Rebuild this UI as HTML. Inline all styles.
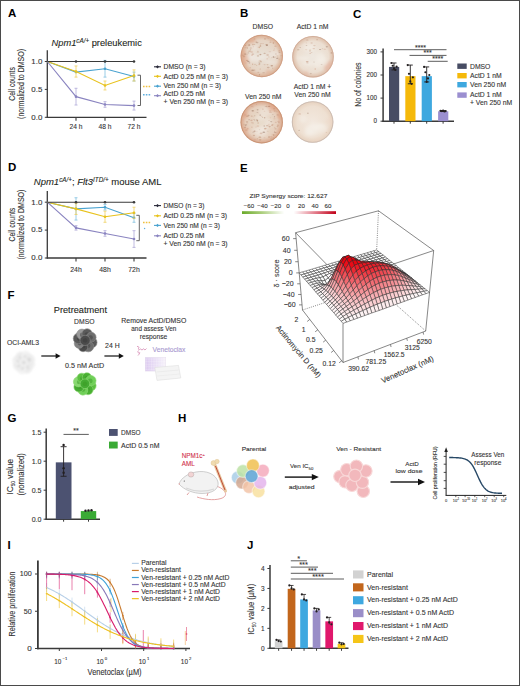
<!DOCTYPE html><html><head><meta charset="utf-8"><style>html,body{margin:0;padding:0;background:#fff}svg{display:block}text{font-family:"Liberation Sans",sans-serif}</style></head><body><svg width="520" height="686" viewBox="0 0 520 686"><defs><filter id="blur1" x="-20%" y="-20%" width="140%" height="140%"><feGaussianBlur stdDeviation="0.45"/></filter><filter id="blur2" x="-20%" y="-20%" width="140%" height="140%"><feGaussianBlur stdDeviation="1.6"/></filter><radialGradient id="g26156" cx="50%" cy="50%" r="50%"><stop offset="0%" stop-color="#e8e2d8"/><stop offset="75%" stop-color="#e6d4c4"/><stop offset="94%" stop-color="#dcb49a"/><stop offset="100%" stop-color="#d4a488"/></radialGradient><clipPath id="c26156"><circle cx="261.8" cy="56" r="21.2"/></clipPath><radialGradient id="g31356" cx="50%" cy="50%" r="50%"><stop offset="0%" stop-color="#eee8e0"/><stop offset="75%" stop-color="#ecdfd2"/><stop offset="94%" stop-color="#e0c4b0"/><stop offset="100%" stop-color="#d8b09a"/></radialGradient><clipPath id="c31356"><circle cx="313" cy="56.7" r="20.8"/></clipPath><radialGradient id="g261122" cx="50%" cy="50%" r="50%"><stop offset="0%" stop-color="#e8dccc"/><stop offset="75%" stop-color="#e6d0be"/><stop offset="94%" stop-color="#dcae94"/><stop offset="100%" stop-color="#d09a7c"/></radialGradient><clipPath id="c261122"><circle cx="261.7" cy="122.2" r="21.2"/></clipPath><radialGradient id="g312122" cx="50%" cy="50%" r="50%"><stop offset="0%" stop-color="#f2e8de"/><stop offset="75%" stop-color="#eee0d2"/><stop offset="94%" stop-color="#e8d4c2"/><stop offset="100%" stop-color="#d6c4b8"/></radialGradient><clipPath id="c312122"><circle cx="312.6" cy="122" r="20.8"/></clipPath><linearGradient id="cbar" x1="0" x2="1" y1="0" y2="0"><stop offset="0" stop-color="#6aaa2a"/><stop offset="0.2" stop-color="#a8cc78"/><stop offset="0.45" stop-color="#ffffff"/><stop offset="0.55" stop-color="#ffffff"/><stop offset="0.8" stop-color="#e07080"/><stop offset="1" stop-color="#c00018"/></linearGradient><filter id="blur05" x="-30%" y="-30%" width="160%" height="160%"><feGaussianBlur stdDeviation="0.5"/></filter><filter id="blur08" x="-30%" y="-30%" width="160%" height="160%"><feGaussianBlur stdDeviation="0.8"/></filter><linearGradient id="plateg" x1="0" x2="1" y1="0" y2="0"><stop offset="0" stop-color="#dccaf0"/><stop offset="1" stop-color="#f6f2fa"/></linearGradient></defs><rect x="0" y="0" width="520" height="686" fill="#fff"/><text x="8.00" y="17.00" font-size="11.5" text-anchor="start" fill="#000" font-weight="bold">A</text>
<text x="240.00" y="17.00" font-size="11.5" text-anchor="start" fill="#000" font-weight="bold">B</text>
<text x="353.00" y="18.00" font-size="11.5" text-anchor="start" fill="#000" font-weight="bold">C</text>
<text x="8.00" y="171.00" font-size="11.5" text-anchor="start" fill="#000" font-weight="bold">D</text>
<text x="240.00" y="171.50" font-size="11.5" text-anchor="start" fill="#000" font-weight="bold">E</text>
<text x="7.50" y="299.00" font-size="11.5" text-anchor="start" fill="#000" font-weight="bold">F</text>
<text x="7.50" y="422.00" font-size="11.5" text-anchor="start" fill="#000" font-weight="bold">G</text>
<text x="178.00" y="421.80" font-size="11.5" text-anchor="start" fill="#000" font-weight="bold">H</text>
<text x="7.50" y="549.00" font-size="11.5" text-anchor="start" fill="#000" font-weight="bold">I</text>
<text x="247.00" y="549.20" font-size="11.5" text-anchor="start" fill="#000" font-weight="bold">J</text>
<line x1="47.30" y1="50.34" x2="47.30" y2="117.90" stroke="#3a3a3a" stroke-width="1.3"/>
<line x1="46.70" y1="117.30" x2="146.50" y2="117.30" stroke="#3a3a3a" stroke-width="1.3"/>
<line x1="44.80" y1="61.50" x2="47.30" y2="61.50" stroke="#3a3a3a" stroke-width="1"/>
<text x="42.30" y="63.80" font-size="6.6" text-anchor="end" fill="#333" stroke="#333" stroke-width="0.1" textLength="11" lengthAdjust="spacingAndGlyphs">1.0</text>
<line x1="44.80" y1="89.40" x2="47.30" y2="89.40" stroke="#3a3a3a" stroke-width="1"/>
<text x="42.30" y="91.70" font-size="6.6" text-anchor="end" fill="#333" stroke="#333" stroke-width="0.1" textLength="11" lengthAdjust="spacingAndGlyphs">0.5</text>
<line x1="44.80" y1="117.30" x2="47.30" y2="117.30" stroke="#3a3a3a" stroke-width="1"/>
<text x="42.30" y="119.60" font-size="6.6" text-anchor="end" fill="#333" stroke="#333" stroke-width="0.1" textLength="11" lengthAdjust="spacingAndGlyphs">0.0</text>
<line x1="76.00" y1="117.30" x2="76.00" y2="120.80" stroke="#3a3a3a" stroke-width="1.1"/>
<text x="76.00" y="129.20" font-size="6.6" text-anchor="middle" fill="#333" stroke="#333" stroke-width="0.1" textLength="13" lengthAdjust="spacingAndGlyphs">24 h</text>
<line x1="105.00" y1="117.30" x2="105.00" y2="120.80" stroke="#3a3a3a" stroke-width="1.1"/>
<text x="105.00" y="129.20" font-size="6.6" text-anchor="middle" fill="#333" stroke="#333" stroke-width="0.1" textLength="13" lengthAdjust="spacingAndGlyphs">48 h</text>
<line x1="134.00" y1="117.30" x2="134.00" y2="120.80" stroke="#3a3a3a" stroke-width="1.1"/>
<text x="134.00" y="129.20" font-size="6.6" text-anchor="middle" fill="#333" stroke="#333" stroke-width="0.1" textLength="13" lengthAdjust="spacingAndGlyphs">72 h</text>
<text x="14.60" y="83.90" font-size="8.3" text-anchor="middle" fill="#333" stroke="#333" stroke-width="0.1" textLength="33.6" lengthAdjust="spacingAndGlyphs" transform="rotate(-90 14.60 83.90)">Cell counts</text>
<text x="24.20" y="83.90" font-size="8.3" text-anchor="middle" fill="#333" stroke="#333" stroke-width="0.1" textLength="70" lengthAdjust="spacingAndGlyphs" transform="rotate(-90 24.20 83.90)">(normalized to DMSO)</text>
<line x1="105.00" y1="60.38" x2="105.00" y2="77.12" stroke="#80c0e0" stroke-width="0.8"/>
<line x1="103.50" y1="60.38" x2="106.50" y2="60.38" stroke="#80c0e0" stroke-width="0.8"/>
<line x1="103.50" y1="77.12" x2="106.50" y2="77.12" stroke="#80c0e0" stroke-width="0.8"/>
<line x1="134.00" y1="72.10" x2="134.00" y2="81.03" stroke="#80c0e0" stroke-width="0.8"/>
<line x1="132.50" y1="72.10" x2="135.50" y2="72.10" stroke="#80c0e0" stroke-width="0.8"/>
<line x1="132.50" y1="81.03" x2="135.50" y2="81.03" stroke="#80c0e0" stroke-width="0.8"/>
<polyline points="47.30,61.50 76.00,72.10 105.00,68.75 134.00,76.57" fill="none" stroke="#4aa3d0" stroke-width="1.1"/>
<circle cx="76.00" cy="72.10" r="1.30" fill="#4aa3d0"/>
<circle cx="105.00" cy="68.75" r="1.30" fill="#4aa3d0"/>
<circle cx="134.00" cy="76.57" r="1.30" fill="#4aa3d0"/>
<line x1="76.00" y1="65.96" x2="76.00" y2="77.12" stroke="#f0d060" stroke-width="0.8"/>
<line x1="74.50" y1="65.96" x2="77.50" y2="65.96" stroke="#f0d060" stroke-width="0.8"/>
<line x1="74.50" y1="77.12" x2="77.50" y2="77.12" stroke="#f0d060" stroke-width="0.8"/>
<line x1="105.00" y1="81.03" x2="105.00" y2="89.96" stroke="#f0d060" stroke-width="0.8"/>
<line x1="103.50" y1="81.03" x2="106.50" y2="81.03" stroke="#f0d060" stroke-width="0.8"/>
<line x1="103.50" y1="89.96" x2="106.50" y2="89.96" stroke="#f0d060" stroke-width="0.8"/>
<line x1="134.00" y1="69.87" x2="134.00" y2="81.03" stroke="#f0d060" stroke-width="0.8"/>
<line x1="132.50" y1="69.87" x2="135.50" y2="69.87" stroke="#f0d060" stroke-width="0.8"/>
<line x1="132.50" y1="81.03" x2="135.50" y2="81.03" stroke="#f0d060" stroke-width="0.8"/>
<polyline points="47.30,61.50 76.00,71.54 105.00,85.49 134.00,75.45" fill="none" stroke="#e8c21c" stroke-width="1.1"/>
<circle cx="76.00" cy="71.54" r="1.30" fill="#e8c21c"/>
<circle cx="105.00" cy="85.49" r="1.30" fill="#e8c21c"/>
<circle cx="134.00" cy="75.45" r="1.30" fill="#e8c21c"/>
<line x1="76.00" y1="88.28" x2="76.00" y2="105.02" stroke="#b0aad8" stroke-width="0.8"/>
<line x1="74.50" y1="88.28" x2="77.50" y2="88.28" stroke="#b0aad8" stroke-width="0.8"/>
<line x1="74.50" y1="105.02" x2="77.50" y2="105.02" stroke="#b0aad8" stroke-width="0.8"/>
<line x1="105.00" y1="101.68" x2="105.00" y2="107.26" stroke="#b0aad8" stroke-width="0.8"/>
<line x1="103.50" y1="101.68" x2="106.50" y2="101.68" stroke="#b0aad8" stroke-width="0.8"/>
<line x1="103.50" y1="107.26" x2="106.50" y2="107.26" stroke="#b0aad8" stroke-width="0.8"/>
<line x1="134.00" y1="101.12" x2="134.00" y2="110.05" stroke="#b0aad8" stroke-width="0.8"/>
<line x1="132.50" y1="101.12" x2="135.50" y2="101.12" stroke="#b0aad8" stroke-width="0.8"/>
<line x1="132.50" y1="110.05" x2="135.50" y2="110.05" stroke="#b0aad8" stroke-width="0.8"/>
<polyline points="47.30,61.50 76.00,96.65 105.00,104.47 134.00,105.58" fill="none" stroke="#8a84c0" stroke-width="1.1"/>
<circle cx="76.00" cy="96.65" r="1.30" fill="#8a84c0"/>
<circle cx="105.00" cy="104.47" r="1.30" fill="#8a84c0"/>
<circle cx="134.00" cy="105.58" r="1.30" fill="#8a84c0"/>
<polyline points="47.30,61.50 76.00,61.50 105.00,61.50 134.00,61.50" fill="none" stroke="#3a3a3a" stroke-width="1.1"/>
<circle cx="76.00" cy="61.50" r="1.30" fill="#3a3a3a"/>
<circle cx="105.00" cy="61.50" r="1.30" fill="#3a3a3a"/>
<circle cx="134.00" cy="61.50" r="1.30" fill="#3a3a3a"/>
<polyline points="137.50,75.20 140.50,75.20 140.50,105.50 137.50,105.50" fill="none" stroke="#555" stroke-width="0.9"/>
<line x1="143.00" y1="86.60" x2="151.00" y2="86.60" stroke="#f0c040" stroke-width="1.5" stroke-dasharray="1.6,1.2"/>
<line x1="143.00" y1="94.80" x2="151.00" y2="94.80" stroke="#60b0e0" stroke-width="1.5" stroke-dasharray="1.6,1.2"/>
<line x1="154.00" y1="66.80" x2="161.00" y2="66.80" stroke="#2a2a3a" stroke-width="1.1"/>
<polygon points="157.50,65.20 159.10,66.80 157.50,68.40 155.90,66.80" fill="#2a2a3a" stroke="none" stroke-width="0"/>
<text x="163.50" y="69.00" font-size="6.3" text-anchor="start" fill="#333" stroke="#333" stroke-width="0.1" textLength="42" lengthAdjust="spacingAndGlyphs">DMSO (n = 3)</text>
<line x1="154.00" y1="76.30" x2="161.00" y2="76.30" stroke="#e8c21c" stroke-width="1.1"/>
<polygon points="157.50,74.70 159.10,76.30 157.50,77.90 155.90,76.30" fill="#e8c21c" stroke="none" stroke-width="0"/>
<text x="163.50" y="78.60" font-size="6.3" text-anchor="start" fill="#333" stroke="#333" stroke-width="0.1" textLength="64.5" lengthAdjust="spacingAndGlyphs">ActD 0.25 nM (n = 3)</text>
<line x1="154.00" y1="86.20" x2="161.00" y2="86.20" stroke="#4aa3d0" stroke-width="1.1"/>
<polygon points="157.50,84.60 159.10,86.20 157.50,87.80 155.90,86.20" fill="#4aa3d0" stroke="none" stroke-width="0"/>
<text x="163.50" y="88.40" font-size="6.3" text-anchor="start" fill="#333" stroke="#333" stroke-width="0.1" textLength="57.5" lengthAdjust="spacingAndGlyphs">Ven 250 nM (n = 3)</text>
<line x1="154.00" y1="95.70" x2="161.00" y2="95.70" stroke="#8a84c0" stroke-width="1.1"/>
<polygon points="157.50,94.10 159.10,95.70 157.50,97.30 155.90,95.70" fill="#8a84c0" stroke="none" stroke-width="0"/>
<text x="163.50" y="96.40" font-size="6.3" text-anchor="start" fill="#333" stroke="#333" stroke-width="0.1" textLength="41.5" lengthAdjust="spacingAndGlyphs">ActD 0.25 nM</text>
<text x="163.50" y="104.00" font-size="6.3" text-anchor="start" fill="#333" stroke="#333" stroke-width="0.1" textLength="64.5" lengthAdjust="spacingAndGlyphs">+ Ven 250 nM (n = 3)</text>
<text x="51.50" y="45.80" font-size="9.3" text-anchor="start" fill="#231f20" stroke="#231f20" stroke-width="0.1"><tspan font-style="italic">Npm1</tspan><tspan font-style="italic" font-size="6.3" dy="-3.2">cA/+</tspan><tspan dy="3.2"> preleukemic</tspan></text>
<line x1="47.30" y1="191.04" x2="47.30" y2="258.60" stroke="#3a3a3a" stroke-width="1.3"/>
<line x1="46.70" y1="258.00" x2="146.50" y2="258.00" stroke="#3a3a3a" stroke-width="1.3"/>
<line x1="44.80" y1="202.20" x2="47.30" y2="202.20" stroke="#3a3a3a" stroke-width="1"/>
<text x="42.30" y="204.50" font-size="6.6" text-anchor="end" fill="#333" stroke="#333" stroke-width="0.1" textLength="11" lengthAdjust="spacingAndGlyphs">1.0</text>
<line x1="44.80" y1="230.10" x2="47.30" y2="230.10" stroke="#3a3a3a" stroke-width="1"/>
<text x="42.30" y="232.40" font-size="6.6" text-anchor="end" fill="#333" stroke="#333" stroke-width="0.1" textLength="11" lengthAdjust="spacingAndGlyphs">0.5</text>
<line x1="44.80" y1="258.00" x2="47.30" y2="258.00" stroke="#3a3a3a" stroke-width="1"/>
<text x="42.30" y="260.30" font-size="6.6" text-anchor="end" fill="#333" stroke="#333" stroke-width="0.1" textLength="11" lengthAdjust="spacingAndGlyphs">0.0</text>
<line x1="76.00" y1="258.00" x2="76.00" y2="261.50" stroke="#3a3a3a" stroke-width="1.1"/>
<text x="76.00" y="271.50" font-size="6.6" text-anchor="middle" fill="#333" stroke="#333" stroke-width="0.1" textLength="11.5" lengthAdjust="spacingAndGlyphs">24h</text>
<line x1="105.00" y1="258.00" x2="105.00" y2="261.50" stroke="#3a3a3a" stroke-width="1.1"/>
<text x="105.00" y="271.50" font-size="6.6" text-anchor="middle" fill="#333" stroke="#333" stroke-width="0.1" textLength="11.5" lengthAdjust="spacingAndGlyphs">48h</text>
<line x1="134.00" y1="258.00" x2="134.00" y2="261.50" stroke="#3a3a3a" stroke-width="1.1"/>
<text x="134.00" y="271.50" font-size="6.6" text-anchor="middle" fill="#333" stroke="#333" stroke-width="0.1" textLength="11.5" lengthAdjust="spacingAndGlyphs">72h</text>
<text x="14.60" y="224.60" font-size="8.3" text-anchor="middle" fill="#333" stroke="#333" stroke-width="0.1" textLength="33.6" lengthAdjust="spacingAndGlyphs" transform="rotate(-90 14.60 224.60)">Cell counts</text>
<text x="24.20" y="224.60" font-size="8.3" text-anchor="middle" fill="#333" stroke="#333" stroke-width="0.1" textLength="70" lengthAdjust="spacingAndGlyphs" transform="rotate(-90 24.20 224.60)">(normalized to DMSO)</text>
<line x1="76.00" y1="197.74" x2="76.00" y2="220.06" stroke="#80c0e0" stroke-width="0.8"/>
<line x1="74.50" y1="197.74" x2="77.50" y2="197.74" stroke="#80c0e0" stroke-width="0.8"/>
<line x1="74.50" y1="220.06" x2="77.50" y2="220.06" stroke="#80c0e0" stroke-width="0.8"/>
<line x1="105.00" y1="204.43" x2="105.00" y2="210.01" stroke="#80c0e0" stroke-width="0.8"/>
<line x1="103.50" y1="204.43" x2="106.50" y2="204.43" stroke="#80c0e0" stroke-width="0.8"/>
<line x1="103.50" y1="210.01" x2="106.50" y2="210.01" stroke="#80c0e0" stroke-width="0.8"/>
<line x1="134.00" y1="213.36" x2="134.00" y2="222.29" stroke="#80c0e0" stroke-width="0.8"/>
<line x1="132.50" y1="213.36" x2="135.50" y2="213.36" stroke="#80c0e0" stroke-width="0.8"/>
<line x1="132.50" y1="222.29" x2="135.50" y2="222.29" stroke="#80c0e0" stroke-width="0.8"/>
<polyline points="47.30,202.20 76.00,208.90 105.00,207.22 134.00,217.82" fill="none" stroke="#4aa3d0" stroke-width="1.1"/>
<circle cx="76.00" cy="208.90" r="1.30" fill="#4aa3d0"/>
<circle cx="105.00" cy="207.22" r="1.30" fill="#4aa3d0"/>
<circle cx="134.00" cy="217.82" r="1.30" fill="#4aa3d0"/>
<line x1="76.00" y1="203.32" x2="76.00" y2="214.48" stroke="#f0d060" stroke-width="0.8"/>
<line x1="74.50" y1="203.32" x2="77.50" y2="203.32" stroke="#f0d060" stroke-width="0.8"/>
<line x1="74.50" y1="214.48" x2="77.50" y2="214.48" stroke="#f0d060" stroke-width="0.8"/>
<line x1="105.00" y1="211.13" x2="105.00" y2="222.29" stroke="#f0d060" stroke-width="0.8"/>
<line x1="103.50" y1="211.13" x2="106.50" y2="211.13" stroke="#f0d060" stroke-width="0.8"/>
<line x1="103.50" y1="222.29" x2="106.50" y2="222.29" stroke="#f0d060" stroke-width="0.8"/>
<line x1="134.00" y1="207.22" x2="134.00" y2="218.38" stroke="#f0d060" stroke-width="0.8"/>
<line x1="132.50" y1="207.22" x2="135.50" y2="207.22" stroke="#f0d060" stroke-width="0.8"/>
<line x1="132.50" y1="218.38" x2="135.50" y2="218.38" stroke="#f0d060" stroke-width="0.8"/>
<polyline points="47.30,202.20 76.00,208.90 105.00,216.71 134.00,212.80" fill="none" stroke="#e8c21c" stroke-width="1.1"/>
<circle cx="76.00" cy="208.90" r="1.30" fill="#e8c21c"/>
<circle cx="105.00" cy="216.71" r="1.30" fill="#e8c21c"/>
<circle cx="134.00" cy="212.80" r="1.30" fill="#e8c21c"/>
<line x1="76.00" y1="225.64" x2="76.00" y2="230.10" stroke="#b0aad8" stroke-width="0.8"/>
<line x1="74.50" y1="225.64" x2="77.50" y2="225.64" stroke="#b0aad8" stroke-width="0.8"/>
<line x1="74.50" y1="230.10" x2="77.50" y2="230.10" stroke="#b0aad8" stroke-width="0.8"/>
<line x1="105.00" y1="230.66" x2="105.00" y2="236.24" stroke="#b0aad8" stroke-width="0.8"/>
<line x1="103.50" y1="230.66" x2="106.50" y2="230.66" stroke="#b0aad8" stroke-width="0.8"/>
<line x1="103.50" y1="236.24" x2="106.50" y2="236.24" stroke="#b0aad8" stroke-width="0.8"/>
<line x1="134.00" y1="230.66" x2="134.00" y2="247.40" stroke="#b0aad8" stroke-width="0.8"/>
<line x1="132.50" y1="230.66" x2="135.50" y2="230.66" stroke="#b0aad8" stroke-width="0.8"/>
<line x1="132.50" y1="247.40" x2="135.50" y2="247.40" stroke="#b0aad8" stroke-width="0.8"/>
<polyline points="47.30,202.20 76.00,227.87 105.00,233.45 134.00,239.03" fill="none" stroke="#8a84c0" stroke-width="1.1"/>
<circle cx="76.00" cy="227.87" r="1.30" fill="#8a84c0"/>
<circle cx="105.00" cy="233.45" r="1.30" fill="#8a84c0"/>
<circle cx="134.00" cy="239.03" r="1.30" fill="#8a84c0"/>
<polyline points="47.30,202.20 76.00,202.20 105.00,202.20 134.00,202.20" fill="none" stroke="#3a3a3a" stroke-width="1.1"/>
<circle cx="76.00" cy="202.20" r="1.30" fill="#3a3a3a"/>
<circle cx="105.00" cy="202.20" r="1.30" fill="#3a3a3a"/>
<circle cx="134.00" cy="202.20" r="1.30" fill="#3a3a3a"/>
<polyline points="136.30,215.30 139.30,215.30 139.30,240.70 136.30,240.70" fill="none" stroke="#555" stroke-width="0.9"/>
<line x1="143.00" y1="222.50" x2="151.00" y2="222.50" stroke="#f0c040" stroke-width="1.5" stroke-dasharray="1.6,1.2"/>
<line x1="154.00" y1="205.60" x2="161.00" y2="205.60" stroke="#2a2a3a" stroke-width="1.1"/>
<polygon points="157.50,204.00 159.10,205.60 157.50,207.20 155.90,205.60" fill="#2a2a3a" stroke="none" stroke-width="0"/>
<text x="163.50" y="208.00" font-size="6.3" text-anchor="start" fill="#333" stroke="#333" stroke-width="0.1" textLength="41" lengthAdjust="spacingAndGlyphs">DMSO (n = 3)</text>
<line x1="154.00" y1="215.80" x2="161.00" y2="215.80" stroke="#e8c21c" stroke-width="1.1"/>
<polygon points="157.50,214.20 159.10,215.80 157.50,217.40 155.90,215.80" fill="#e8c21c" stroke="none" stroke-width="0"/>
<text x="163.50" y="218.00" font-size="6.3" text-anchor="start" fill="#333" stroke="#333" stroke-width="0.1" textLength="63.5" lengthAdjust="spacingAndGlyphs">ActD 0.25 nM (n = 3)</text>
<line x1="154.00" y1="225.40" x2="161.00" y2="225.40" stroke="#4aa3d0" stroke-width="1.1"/>
<polygon points="157.50,223.80 159.10,225.40 157.50,227.00 155.90,225.40" fill="#4aa3d0" stroke="none" stroke-width="0"/>
<text x="163.50" y="227.80" font-size="6.3" text-anchor="start" fill="#333" stroke="#333" stroke-width="0.1" textLength="56.5" lengthAdjust="spacingAndGlyphs">Ven 250 nM (n = 3)</text>
<line x1="154.00" y1="235.80" x2="161.00" y2="235.80" stroke="#8a84c0" stroke-width="1.1"/>
<polygon points="157.50,234.20 159.10,235.80 157.50,237.40 155.90,235.80" fill="#8a84c0" stroke="none" stroke-width="0"/>
<text x="163.50" y="237.80" font-size="6.3" text-anchor="start" fill="#333" stroke="#333" stroke-width="0.1" textLength="41" lengthAdjust="spacingAndGlyphs">ActD 0.25 nM</text>
<text x="163.50" y="245.50" font-size="6.3" text-anchor="start" fill="#333" stroke="#333" stroke-width="0.1" textLength="64" lengthAdjust="spacingAndGlyphs">+ Ven 250 nM (n = 3)</text>
<circle cx="144.60" cy="228.50" r="0.70" fill="#60b0e0"/>
<text x="33.80" y="185.10" font-size="9.5" text-anchor="start" fill="#231f20" stroke="#231f20" stroke-width="0.1"><tspan font-style="italic">Npm1</tspan><tspan font-style="italic" font-size="6.3" dy="-3.2">cA/+</tspan><tspan dy="3.2">; </tspan><tspan font-style="italic">Flt3</tspan><tspan font-style="italic" font-size="6.3" dy="-3.2">ITD/+</tspan><tspan dy="3.2"> mouse AML</tspan></text>
<text x="262.80" y="29.20" font-size="6.8" text-anchor="middle" fill="#333" stroke="#333" stroke-width="0.1">DMSO</text>
<text x="312.50" y="29.20" font-size="6.8" text-anchor="middle" fill="#333" stroke="#333" stroke-width="0.1">ActD 1 nM</text>
<text x="263.20" y="99.40" font-size="6.8" text-anchor="middle" fill="#333" stroke="#333" stroke-width="0.1">Ven 250 nM</text>
<text x="312.50" y="88.90" font-size="6.8" text-anchor="middle" fill="#333" stroke="#333" stroke-width="0.1">ActD 1 nM +</text>
<text x="312.50" y="97.30" font-size="6.8" text-anchor="middle" fill="#333" stroke="#333" stroke-width="0.1">Ven 250 nM</text>
<circle cx="261.80" cy="56.00" r="21.20" fill="url(#g26156)"/>
<g clip-path="url(#c26156)"><g filter="url(#blur2)"><ellipse cx="252.7" cy="58.8" rx="7.6" ry="3.4" fill="#f2eee8" opacity="0.45"/><ellipse cx="252.1" cy="55.5" rx="3.9" ry="3.5" fill="#f2eee8" opacity="0.45"/><ellipse cx="254.0" cy="47.7" rx="3.5" ry="2.9" fill="#f2eee8" opacity="0.45"/><ellipse cx="271.4" cy="62.2" rx="6.5" ry="2.1" fill="#f2eee8" opacity="0.45"/><ellipse cx="274.2" cy="54.6" rx="6.3" ry="3.8" fill="#f2eee8" opacity="0.45"/><ellipse cx="262.7" cy="57.3" rx="5.6" ry="2.2" fill="#f2eee8" opacity="0.45"/><circle cx="268.0" cy="71.7" r="2.1" fill="#e0a080" opacity="0.45"/><circle cx="244.5" cy="60.0" r="4.5" fill="#e0a080" opacity="0.45"/><circle cx="243.3" cy="53.8" r="3.5" fill="#e0a080" opacity="0.45"/><circle cx="252.5" cy="40.8" r="2.8" fill="#e0a080" opacity="0.45"/></g></g>
<g filter="url(#blur1)"><ellipse cx="281.3" cy="55.7" rx="1.24" ry="0.53" fill="#b8886a" opacity="0.33"/><ellipse cx="260.5" cy="61.0" rx="0.96" ry="0.74" fill="#b8886a" opacity="0.39"/><ellipse cx="279.1" cy="51.3" rx="0.79" ry="0.77" fill="#b8886a" opacity="0.27"/><ellipse cx="250.2" cy="67.6" rx="0.67" ry="0.65" fill="#cfa088" opacity="0.52"/><ellipse cx="261.1" cy="61.7" rx="0.61" ry="0.56" fill="#a87a60" opacity="0.57"/><ellipse cx="272.7" cy="68.3" rx="0.65" ry="0.72" fill="#b8886a" opacity="0.31"/><ellipse cx="249.6" cy="51.3" rx="1.49" ry="0.71" fill="#c09078" opacity="0.40"/><ellipse cx="252.7" cy="64.2" rx="0.60" ry="0.75" fill="#c09078" opacity="0.59"/><ellipse cx="245.5" cy="45.3" rx="0.79" ry="0.56" fill="#b8886a" opacity="0.55"/><ellipse cx="257.9" cy="51.2" rx="0.79" ry="0.50" fill="#c09078" opacity="0.52"/><ellipse cx="256.7" cy="65.3" rx="0.67" ry="0.48" fill="#b8886a" opacity="0.47"/><ellipse cx="273.6" cy="57.2" rx="1.01" ry="0.78" fill="#9a7a68" opacity="0.42"/><ellipse cx="245.6" cy="47.8" rx="1.16" ry="0.52" fill="#c09078" opacity="0.33"/><ellipse cx="249.0" cy="45.4" rx="1.27" ry="0.78" fill="#c09078" opacity="0.32"/><ellipse cx="279.2" cy="50.4" rx="0.67" ry="0.42" fill="#9a7a68" opacity="0.29"/><ellipse cx="252.0" cy="55.2" rx="0.83" ry="0.73" fill="#cfa088" opacity="0.46"/><ellipse cx="259.6" cy="63.9" rx="0.71" ry="0.59" fill="#b8886a" opacity="0.48"/><ellipse cx="257.8" cy="52.5" rx="1.43" ry="0.48" fill="#c09078" opacity="0.26"/><ellipse cx="260.2" cy="68.9" rx="0.64" ry="0.51" fill="#b8886a" opacity="0.44"/><ellipse cx="267.6" cy="55.0" rx="1.40" ry="0.79" fill="#c09078" opacity="0.48"/><ellipse cx="256.4" cy="42.1" rx="1.13" ry="0.77" fill="#c09078" opacity="0.42"/><ellipse cx="255.0" cy="64.5" rx="0.62" ry="0.65" fill="#b8886a" opacity="0.42"/><ellipse cx="260.5" cy="45.1" rx="0.67" ry="0.62" fill="#b8886a" opacity="0.51"/><ellipse cx="275.4" cy="46.2" rx="1.31" ry="0.77" fill="#c09078" opacity="0.37"/><ellipse cx="254.5" cy="39.0" rx="1.45" ry="0.41" fill="#cfa088" opacity="0.42"/><ellipse cx="277.6" cy="57.4" rx="1.12" ry="0.64" fill="#cfa088" opacity="0.28"/><ellipse cx="249.4" cy="41.1" rx="1.26" ry="0.56" fill="#cfa088" opacity="0.51"/><ellipse cx="250.5" cy="49.7" rx="0.68" ry="0.70" fill="#9a7a68" opacity="0.26"/><ellipse cx="250.9" cy="48.0" rx="1.46" ry="0.45" fill="#c09078" opacity="0.52"/><ellipse cx="254.5" cy="44.5" rx="0.93" ry="0.46" fill="#b8886a" opacity="0.46"/><ellipse cx="245.0" cy="54.0" rx="1.19" ry="0.58" fill="#a87a60" opacity="0.56"/><ellipse cx="254.4" cy="70.1" rx="1.17" ry="0.72" fill="#c09078" opacity="0.51"/><ellipse cx="264.6" cy="64.6" rx="1.12" ry="0.53" fill="#c09078" opacity="0.30"/><ellipse cx="244.0" cy="56.4" rx="1.24" ry="0.78" fill="#b8886a" opacity="0.35"/><ellipse cx="268.2" cy="67.4" rx="1.43" ry="0.73" fill="#a87a60" opacity="0.38"/><ellipse cx="245.9" cy="54.0" rx="1.01" ry="0.43" fill="#9a7a68" opacity="0.26"/><ellipse cx="264.6" cy="53.2" rx="1.11" ry="0.52" fill="#a87a60" opacity="0.53"/><ellipse cx="268.9" cy="56.9" rx="0.77" ry="0.71" fill="#cfa088" opacity="0.34"/><ellipse cx="265.0" cy="38.9" rx="1.00" ry="0.65" fill="#b8886a" opacity="0.48"/><ellipse cx="268.5" cy="38.1" rx="0.78" ry="0.59" fill="#c09078" opacity="0.31"/><ellipse cx="275.2" cy="56.9" rx="0.76" ry="0.51" fill="#b8886a" opacity="0.37"/><ellipse cx="257.2" cy="42.7" rx="1.50" ry="0.46" fill="#9a7a68" opacity="0.55"/><ellipse cx="258.9" cy="47.2" rx="1.44" ry="0.69" fill="#cfa088" opacity="0.30"/><ellipse cx="247.0" cy="60.4" rx="0.94" ry="0.63" fill="#b8886a" opacity="0.56"/><ellipse cx="267.3" cy="37.9" rx="0.89" ry="0.79" fill="#cfa088" opacity="0.28"/><ellipse cx="273.4" cy="43.0" rx="0.79" ry="0.76" fill="#b8886a" opacity="0.59"/><ellipse cx="275.9" cy="54.0" rx="0.84" ry="0.69" fill="#a87a60" opacity="0.26"/><ellipse cx="258.0" cy="55.9" rx="1.10" ry="0.71" fill="#a87a60" opacity="0.42"/><ellipse cx="279.1" cy="59.1" rx="0.99" ry="0.41" fill="#b8886a" opacity="0.44"/><ellipse cx="254.6" cy="38.8" rx="0.73" ry="0.61" fill="#cfa088" opacity="0.50"/><ellipse cx="270.5" cy="42.3" rx="1.12" ry="0.68" fill="#cfa088" opacity="0.52"/><ellipse cx="248.3" cy="61.4" rx="1.17" ry="0.61" fill="#9a7a68" opacity="0.55"/><ellipse cx="251.7" cy="52.0" rx="1.46" ry="0.75" fill="#cfa088" opacity="0.46"/><ellipse cx="259.3" cy="62.9" rx="1.07" ry="0.63" fill="#9a7a68" opacity="0.32"/><ellipse cx="248.3" cy="52.9" rx="0.94" ry="0.62" fill="#9a7a68" opacity="0.27"/><ellipse cx="274.3" cy="48.9" rx="0.71" ry="0.44" fill="#9a7a68" opacity="0.31"/><ellipse cx="273.8" cy="50.4" rx="0.84" ry="0.59" fill="#cfa088" opacity="0.29"/><ellipse cx="245.7" cy="63.1" rx="1.07" ry="0.44" fill="#cfa088" opacity="0.40"/><ellipse cx="271.6" cy="57.8" rx="0.63" ry="0.46" fill="#b8886a" opacity="0.25"/><ellipse cx="258.3" cy="72.2" rx="1.16" ry="0.44" fill="#c09078" opacity="0.51"/><ellipse cx="271.8" cy="65.7" rx="1.25" ry="0.68" fill="#a87a60" opacity="0.56"/><ellipse cx="277.2" cy="58.3" rx="1.15" ry="0.62" fill="#9a7a68" opacity="0.55"/><ellipse cx="252.9" cy="54.1" rx="1.37" ry="0.64" fill="#c09078" opacity="0.55"/><ellipse cx="263.6" cy="72.7" rx="1.41" ry="0.53" fill="#a87a60" opacity="0.36"/><ellipse cx="269.9" cy="51.8" rx="1.40" ry="0.45" fill="#c09078" opacity="0.33"/><ellipse cx="260.3" cy="46.2" rx="0.99" ry="0.78" fill="#b8886a" opacity="0.44"/><ellipse cx="259.4" cy="47.6" rx="0.69" ry="0.63" fill="#b8886a" opacity="0.38"/><ellipse cx="266.9" cy="45.4" rx="1.17" ry="0.54" fill="#9a7a68" opacity="0.60"/><ellipse cx="270.5" cy="40.8" rx="0.70" ry="0.41" fill="#cfa088" opacity="0.44"/><ellipse cx="247.2" cy="54.6" rx="0.77" ry="0.45" fill="#c09078" opacity="0.31"/><ellipse cx="267.5" cy="64.7" rx="1.12" ry="0.45" fill="#b8886a" opacity="0.49"/><ellipse cx="267.2" cy="58.8" rx="1.02" ry="0.61" fill="#cfa088" opacity="0.40"/><ellipse cx="260.0" cy="54.7" rx="1.36" ry="0.47" fill="#b8886a" opacity="0.41"/><ellipse cx="261.0" cy="43.6" rx="1.14" ry="0.44" fill="#c09078" opacity="0.53"/><ellipse cx="259.3" cy="61.1" rx="1.11" ry="0.48" fill="#cfa088" opacity="0.45"/><ellipse cx="252.6" cy="70.3" rx="1.42" ry="0.70" fill="#a87a60" opacity="0.52"/><ellipse cx="266.7" cy="44.6" rx="1.39" ry="0.68" fill="#a87a60" opacity="0.52"/><ellipse cx="263.0" cy="43.6" rx="0.66" ry="0.54" fill="#c09078" opacity="0.41"/><ellipse cx="273.4" cy="56.8" rx="0.64" ry="0.51" fill="#9a7a68" opacity="0.59"/><ellipse cx="259.1" cy="64.6" rx="1.11" ry="0.61" fill="#cfa088" opacity="0.39"/><ellipse cx="277.4" cy="56.0" rx="1.29" ry="0.79" fill="#b8886a" opacity="0.26"/><ellipse cx="249.3" cy="44.9" rx="1.00" ry="0.60" fill="#a87a60" opacity="0.52"/><ellipse cx="260.6" cy="54.4" rx="0.83" ry="0.76" fill="#a87a60" opacity="0.44"/><ellipse cx="242.6" cy="55.1" rx="1.36" ry="0.44" fill="#9a7a68" opacity="0.41"/><ellipse cx="252.9" cy="44.6" rx="0.95" ry="0.78" fill="#b8886a" opacity="0.39"/><ellipse cx="279.5" cy="52.6" rx="1.15" ry="0.42" fill="#9a7a68" opacity="0.58"/><ellipse cx="249.4" cy="62.8" rx="0.88" ry="0.61" fill="#9a7a68" opacity="0.42"/><ellipse cx="259.5" cy="74.7" rx="0.62" ry="0.71" fill="#a87a60" opacity="0.46"/><ellipse cx="253.4" cy="46.8" rx="0.65" ry="0.53" fill="#cfa088" opacity="0.39"/><ellipse cx="247.4" cy="47.9" rx="0.67" ry="0.76" fill="#a87a60" opacity="0.40"/></g>
<circle cx="261.80" cy="56.00" r="20.70" fill="none" stroke="#c89478" stroke-width="1" opacity="0.55"/>
<circle cx="313.00" cy="56.70" r="20.80" fill="url(#g31356)"/>
<g clip-path="url(#c31356)"><g filter="url(#blur2)"><ellipse cx="303.0" cy="58.3" rx="6.3" ry="2.4" fill="#f6f2ec" opacity="0.45"/><ellipse cx="320.6" cy="57.2" rx="4.4" ry="4.4" fill="#f6f2ec" opacity="0.45"/><ellipse cx="309.5" cy="47.7" rx="5.8" ry="4.0" fill="#f6f2ec" opacity="0.45"/><ellipse cx="318.1" cy="63.3" rx="3.8" ry="4.7" fill="#f6f2ec" opacity="0.45"/><ellipse cx="323.5" cy="60.8" rx="3.4" ry="4.1" fill="#f6f2ec" opacity="0.45"/><ellipse cx="308.9" cy="63.5" rx="7.2" ry="2.1" fill="#f6f2ec" opacity="0.45"/><circle cx="331.0" cy="63.9" r="3.5" fill="#e4b4a0" opacity="0.45"/><circle cx="329.6" cy="67.4" r="4.8" fill="#e4b4a0" opacity="0.45"/><circle cx="326.2" cy="68.0" r="2.4" fill="#e4b4a0" opacity="0.45"/><circle cx="306.0" cy="73.5" r="2.5" fill="#e4b4a0" opacity="0.45"/></g></g>
<g filter="url(#blur1)"><ellipse cx="311.6" cy="52.6" rx="1.06" ry="0.43" fill="#c09078" opacity="0.46"/><ellipse cx="306.5" cy="45.3" rx="0.95" ry="0.41" fill="#9a7a68" opacity="0.50"/><ellipse cx="331.5" cy="52.9" rx="0.92" ry="0.55" fill="#a87a60" opacity="0.49"/><ellipse cx="310.0" cy="51.0" rx="0.90" ry="0.55" fill="#c09078" opacity="0.45"/><ellipse cx="313.8" cy="48.6" rx="1.34" ry="0.57" fill="#cfa088" opacity="0.43"/><ellipse cx="315.2" cy="69.0" rx="0.78" ry="0.64" fill="#cfa088" opacity="0.51"/><ellipse cx="314.0" cy="62.0" rx="0.63" ry="0.51" fill="#a87a60" opacity="0.37"/><ellipse cx="310.2" cy="53.4" rx="0.93" ry="0.54" fill="#cfa088" opacity="0.41"/><ellipse cx="307.2" cy="40.0" rx="1.46" ry="0.47" fill="#c09078" opacity="0.57"/><ellipse cx="307.5" cy="63.0" rx="1.42" ry="0.40" fill="#c09078" opacity="0.34"/><ellipse cx="314.4" cy="45.6" rx="1.32" ry="0.60" fill="#c09078" opacity="0.34"/><ellipse cx="321.6" cy="64.4" rx="1.05" ry="0.41" fill="#9a7a68" opacity="0.36"/><ellipse cx="317.1" cy="39.7" rx="0.81" ry="0.61" fill="#b8886a" opacity="0.42"/><ellipse cx="306.2" cy="49.7" rx="1.40" ry="0.46" fill="#cfa088" opacity="0.35"/><ellipse cx="320.1" cy="49.5" rx="1.18" ry="0.58" fill="#9a7a68" opacity="0.53"/><ellipse cx="311.6" cy="43.0" rx="1.21" ry="0.68" fill="#b8886a" opacity="0.30"/><ellipse cx="322.4" cy="48.6" rx="0.78" ry="0.59" fill="#c09078" opacity="0.27"/><ellipse cx="298.3" cy="49.8" rx="1.28" ry="0.57" fill="#a87a60" opacity="0.46"/><ellipse cx="326.8" cy="46.8" rx="1.10" ry="0.79" fill="#9a7a68" opacity="0.47"/><ellipse cx="307.2" cy="61.8" rx="1.41" ry="0.72" fill="#c09078" opacity="0.56"/><ellipse cx="324.8" cy="49.2" rx="1.31" ry="0.68" fill="#cfa088" opacity="0.32"/><ellipse cx="310.8" cy="73.6" rx="1.04" ry="0.64" fill="#9a7a68" opacity="0.32"/><ellipse cx="300.2" cy="47.5" rx="0.82" ry="0.56" fill="#9a7a68" opacity="0.36"/><ellipse cx="310.1" cy="50.1" rx="1.25" ry="0.52" fill="#b8886a" opacity="0.31"/><ellipse cx="306.4" cy="42.9" rx="0.93" ry="0.41" fill="#cfa088" opacity="0.42"/></g>
<circle cx="313.00" cy="56.70" r="20.30" fill="none" stroke="#c8a490" stroke-width="1" opacity="0.55"/>
<circle cx="261.70" cy="122.20" r="21.20" fill="url(#g261122)"/>
<g clip-path="url(#c261122)"><g filter="url(#blur2)"><ellipse cx="261.1" cy="132.7" rx="6.4" ry="4.5" fill="#f2ece4" opacity="0.45"/><ellipse cx="264.1" cy="127.8" rx="3.7" ry="2.7" fill="#f2ece4" opacity="0.45"/><ellipse cx="261.2" cy="117.6" rx="5.7" ry="2.6" fill="#f2ece4" opacity="0.45"/><ellipse cx="259.4" cy="130.2" rx="7.2" ry="3.8" fill="#f2ece4" opacity="0.45"/><ellipse cx="268.4" cy="122.8" rx="3.7" ry="4.6" fill="#f2ece4" opacity="0.45"/><ellipse cx="265.9" cy="111.6" rx="7.1" ry="4.2" fill="#f2ece4" opacity="0.45"/><circle cx="280.0" cy="116.2" r="2.8" fill="#e09a78" opacity="0.45"/><circle cx="272.3" cy="107.7" r="4.3" fill="#e09a78" opacity="0.45"/><circle cx="245.4" cy="115.3" r="3.1" fill="#e09a78" opacity="0.45"/><circle cx="246.1" cy="129.6" r="2.4" fill="#e09a78" opacity="0.45"/></g></g>
<g filter="url(#blur1)"><ellipse cx="269.1" cy="106.4" rx="1.22" ry="0.62" fill="#a87a60" opacity="0.51"/><ellipse cx="272.3" cy="134.2" rx="1.08" ry="0.52" fill="#cfa088" opacity="0.31"/><ellipse cx="254.3" cy="131.5" rx="1.14" ry="0.56" fill="#a87a60" opacity="0.30"/><ellipse cx="252.3" cy="122.7" rx="1.40" ry="0.68" fill="#c09078" opacity="0.30"/><ellipse cx="247.7" cy="128.8" rx="0.95" ry="0.69" fill="#cfa088" opacity="0.58"/><ellipse cx="268.8" cy="124.2" rx="1.18" ry="0.46" fill="#cfa088" opacity="0.39"/><ellipse cx="274.1" cy="108.7" rx="0.78" ry="0.74" fill="#a87a60" opacity="0.38"/><ellipse cx="260.2" cy="115.1" rx="0.81" ry="0.60" fill="#9a7a68" opacity="0.55"/><ellipse cx="277.5" cy="126.5" rx="0.92" ry="0.69" fill="#b8886a" opacity="0.37"/><ellipse cx="259.5" cy="129.8" rx="0.70" ry="0.49" fill="#9a7a68" opacity="0.27"/><ellipse cx="252.7" cy="110.8" rx="1.23" ry="0.79" fill="#9a7a68" opacity="0.54"/><ellipse cx="253.0" cy="111.0" rx="1.50" ry="0.45" fill="#c09078" opacity="0.36"/><ellipse cx="259.9" cy="137.2" rx="1.44" ry="0.61" fill="#b8886a" opacity="0.55"/><ellipse cx="272.5" cy="124.7" rx="1.05" ry="0.79" fill="#c09078" opacity="0.43"/><ellipse cx="246.0" cy="124.8" rx="1.32" ry="0.55" fill="#a87a60" opacity="0.50"/><ellipse cx="265.8" cy="128.4" rx="1.22" ry="0.74" fill="#cfa088" opacity="0.34"/><ellipse cx="251.8" cy="116.1" rx="1.13" ry="0.57" fill="#c09078" opacity="0.47"/><ellipse cx="251.9" cy="127.2" rx="0.68" ry="0.70" fill="#cfa088" opacity="0.46"/><ellipse cx="278.9" cy="122.6" rx="1.00" ry="0.80" fill="#c09078" opacity="0.39"/><ellipse cx="274.8" cy="127.5" rx="0.73" ry="0.42" fill="#c09078" opacity="0.38"/><ellipse cx="267.7" cy="131.2" rx="0.95" ry="0.41" fill="#9a7a68" opacity="0.29"/><ellipse cx="253.4" cy="132.1" rx="1.49" ry="0.42" fill="#9a7a68" opacity="0.44"/><ellipse cx="273.7" cy="134.9" rx="0.75" ry="0.75" fill="#a87a60" opacity="0.51"/><ellipse cx="276.8" cy="111.6" rx="0.68" ry="0.77" fill="#c09078" opacity="0.27"/><ellipse cx="260.1" cy="139.8" rx="1.25" ry="0.67" fill="#b8886a" opacity="0.58"/><ellipse cx="243.1" cy="119.9" rx="0.78" ry="0.56" fill="#cfa088" opacity="0.27"/><ellipse cx="257.4" cy="120.9" rx="0.72" ry="0.61" fill="#9a7a68" opacity="0.53"/><ellipse cx="251.3" cy="120.0" rx="0.87" ry="0.43" fill="#9a7a68" opacity="0.27"/><ellipse cx="278.0" cy="125.4" rx="1.07" ry="0.51" fill="#b8886a" opacity="0.28"/><ellipse cx="253.9" cy="135.6" rx="1.16" ry="0.73" fill="#c09078" opacity="0.50"/><ellipse cx="257.4" cy="138.7" rx="0.69" ry="0.56" fill="#b8886a" opacity="0.39"/><ellipse cx="255.9" cy="127.0" rx="1.01" ry="0.40" fill="#c09078" opacity="0.26"/><ellipse cx="261.1" cy="133.4" rx="1.46" ry="0.78" fill="#c09078" opacity="0.38"/><ellipse cx="271.6" cy="137.0" rx="0.97" ry="0.46" fill="#cfa088" opacity="0.45"/><ellipse cx="274.5" cy="118.7" rx="1.24" ry="0.73" fill="#cfa088" opacity="0.26"/><ellipse cx="272.9" cy="114.6" rx="0.76" ry="0.44" fill="#9a7a68" opacity="0.46"/><ellipse cx="255.2" cy="139.4" rx="1.11" ry="0.69" fill="#cfa088" opacity="0.27"/><ellipse cx="256.6" cy="104.3" rx="0.62" ry="0.61" fill="#cfa088" opacity="0.52"/><ellipse cx="257.2" cy="112.5" rx="0.74" ry="0.42" fill="#9a7a68" opacity="0.43"/><ellipse cx="270.5" cy="117.8" rx="0.62" ry="0.44" fill="#cfa088" opacity="0.36"/><ellipse cx="247.0" cy="121.8" rx="1.19" ry="0.64" fill="#a87a60" opacity="0.43"/><ellipse cx="271.2" cy="121.8" rx="1.27" ry="0.44" fill="#9a7a68" opacity="0.57"/><ellipse cx="277.7" cy="114.9" rx="1.21" ry="0.69" fill="#c09078" opacity="0.48"/><ellipse cx="253.4" cy="116.9" rx="0.71" ry="0.47" fill="#c09078" opacity="0.29"/><ellipse cx="254.7" cy="120.1" rx="0.62" ry="0.58" fill="#9a7a68" opacity="0.37"/><ellipse cx="248.7" cy="115.3" rx="1.06" ry="0.43" fill="#9a7a68" opacity="0.55"/><ellipse cx="251.5" cy="120.4" rx="1.21" ry="0.77" fill="#cfa088" opacity="0.49"/><ellipse cx="257.8" cy="126.0" rx="1.44" ry="0.52" fill="#cfa088" opacity="0.57"/><ellipse cx="277.9" cy="124.9" rx="0.97" ry="0.63" fill="#cfa088" opacity="0.51"/><ellipse cx="269.6" cy="126.6" rx="1.08" ry="0.80" fill="#c09078" opacity="0.54"/><ellipse cx="249.1" cy="119.7" rx="0.87" ry="0.48" fill="#9a7a68" opacity="0.59"/><ellipse cx="267.3" cy="125.7" rx="1.46" ry="0.62" fill="#c09078" opacity="0.47"/><ellipse cx="254.2" cy="140.1" rx="1.23" ry="0.42" fill="#c09078" opacity="0.33"/><ellipse cx="244.9" cy="114.9" rx="1.23" ry="0.72" fill="#cfa088" opacity="0.55"/><ellipse cx="264.2" cy="126.0" rx="0.65" ry="0.73" fill="#9a7a68" opacity="0.52"/><ellipse cx="261.7" cy="116.3" rx="0.87" ry="0.52" fill="#cfa088" opacity="0.34"/><ellipse cx="267.4" cy="106.7" rx="1.42" ry="0.51" fill="#cfa088" opacity="0.50"/><ellipse cx="274.6" cy="131.2" rx="0.64" ry="0.45" fill="#c09078" opacity="0.51"/><ellipse cx="273.2" cy="137.9" rx="0.87" ry="0.44" fill="#9a7a68" opacity="0.40"/><ellipse cx="274.7" cy="132.2" rx="1.09" ry="0.45" fill="#9a7a68" opacity="0.42"/><ellipse cx="244.0" cy="124.6" rx="0.60" ry="0.75" fill="#b8886a" opacity="0.28"/><ellipse cx="275.7" cy="132.5" rx="1.00" ry="0.57" fill="#a87a60" opacity="0.30"/><ellipse cx="275.8" cy="122.3" rx="0.91" ry="0.57" fill="#c09078" opacity="0.40"/><ellipse cx="254.7" cy="131.0" rx="1.27" ry="0.44" fill="#a87a60" opacity="0.51"/><ellipse cx="247.4" cy="116.2" rx="1.32" ry="0.64" fill="#b8886a" opacity="0.52"/><ellipse cx="247.2" cy="122.9" rx="1.16" ry="0.55" fill="#c09078" opacity="0.26"/><ellipse cx="264.5" cy="111.2" rx="0.96" ry="0.43" fill="#cfa088" opacity="0.33"/><ellipse cx="271.0" cy="138.8" rx="0.64" ry="0.58" fill="#9a7a68" opacity="0.29"/><ellipse cx="270.1" cy="111.0" rx="1.27" ry="0.76" fill="#cfa088" opacity="0.45"/><ellipse cx="253.7" cy="119.3" rx="1.47" ry="0.42" fill="#c09078" opacity="0.35"/><ellipse cx="246.4" cy="130.0" rx="1.27" ry="0.58" fill="#c09078" opacity="0.55"/><ellipse cx="270.9" cy="136.7" rx="1.28" ry="0.56" fill="#cfa088" opacity="0.39"/><ellipse cx="264.5" cy="137.8" rx="1.11" ry="0.57" fill="#c09078" opacity="0.26"/><ellipse cx="257.6" cy="109.8" rx="0.95" ry="0.77" fill="#9a7a68" opacity="0.43"/><ellipse cx="270.4" cy="112.4" rx="1.47" ry="0.63" fill="#cfa088" opacity="0.41"/><ellipse cx="274.5" cy="116.7" rx="0.61" ry="0.68" fill="#9a7a68" opacity="0.42"/><ellipse cx="269.0" cy="137.1" rx="0.98" ry="0.77" fill="#b8886a" opacity="0.55"/><ellipse cx="258.1" cy="123.0" rx="0.78" ry="0.69" fill="#b8886a" opacity="0.42"/><ellipse cx="269.0" cy="120.5" rx="0.76" ry="0.43" fill="#b8886a" opacity="0.31"/><ellipse cx="253.2" cy="123.5" rx="0.60" ry="0.69" fill="#cfa088" opacity="0.27"/><ellipse cx="262.6" cy="117.3" rx="0.66" ry="0.61" fill="#9a7a68" opacity="0.31"/><ellipse cx="257.4" cy="120.4" rx="0.94" ry="0.48" fill="#b8886a" opacity="0.60"/><ellipse cx="245.0" cy="127.5" rx="0.73" ry="0.65" fill="#a87a60" opacity="0.47"/><ellipse cx="265.0" cy="128.7" rx="1.12" ry="0.78" fill="#c09078" opacity="0.50"/><ellipse cx="265.9" cy="106.5" rx="1.25" ry="0.60" fill="#9a7a68" opacity="0.31"/><ellipse cx="254.6" cy="115.7" rx="0.86" ry="0.71" fill="#a87a60" opacity="0.25"/><ellipse cx="262.9" cy="109.1" rx="0.84" ry="0.69" fill="#c09078" opacity="0.41"/><ellipse cx="263.8" cy="132.2" rx="1.42" ry="0.68" fill="#9a7a68" opacity="0.56"/><ellipse cx="251.9" cy="106.3" rx="0.98" ry="0.50" fill="#c09078" opacity="0.40"/><ellipse cx="258.1" cy="112.7" rx="0.63" ry="0.53" fill="#c09078" opacity="0.26"/><ellipse cx="264.7" cy="117.8" rx="0.68" ry="0.71" fill="#a87a60" opacity="0.52"/><ellipse cx="278.5" cy="121.3" rx="1.39" ry="0.59" fill="#cfa088" opacity="0.50"/><ellipse cx="245.6" cy="125.6" rx="0.91" ry="0.69" fill="#9a7a68" opacity="0.37"/><ellipse cx="274.7" cy="111.1" rx="1.14" ry="0.78" fill="#b8886a" opacity="0.30"/><ellipse cx="256.9" cy="119.8" rx="0.86" ry="0.60" fill="#9a7a68" opacity="0.51"/><ellipse cx="253.1" cy="106.8" rx="0.77" ry="0.63" fill="#cfa088" opacity="0.38"/><ellipse cx="272.0" cy="125.3" rx="1.03" ry="0.67" fill="#c09078" opacity="0.40"/><ellipse cx="275.5" cy="128.8" rx="1.18" ry="0.64" fill="#c09078" opacity="0.49"/><ellipse cx="257.0" cy="131.8" rx="0.62" ry="0.47" fill="#cfa088" opacity="0.37"/><ellipse cx="266.6" cy="106.1" rx="0.60" ry="0.57" fill="#cfa088" opacity="0.49"/></g>
<circle cx="261.70" cy="122.20" r="20.70" fill="none" stroke="#c08868" stroke-width="1" opacity="0.55"/>
<circle cx="312.60" cy="122.00" r="20.80" fill="url(#g312122)"/>
<g clip-path="url(#c312122)"><g filter="url(#blur2)"><ellipse cx="320.8" cy="128.5" rx="6.3" ry="4.8" fill="#f6f2ec" opacity="0.45"/><ellipse cx="311.8" cy="128.3" rx="6.7" ry="4.0" fill="#f6f2ec" opacity="0.45"/><ellipse cx="309.2" cy="131.8" rx="5.0" ry="4.3" fill="#f6f2ec" opacity="0.45"/><ellipse cx="316.9" cy="126.0" rx="7.5" ry="3.1" fill="#f6f2ec" opacity="0.45"/><ellipse cx="311.9" cy="133.2" rx="6.2" ry="2.4" fill="#f6f2ec" opacity="0.45"/><ellipse cx="303.0" cy="118.8" rx="3.8" ry="4.0" fill="#f6f2ec" opacity="0.45"/><circle cx="324.8" cy="133.9" r="2.2" fill="#eed8c8" opacity="0.45"/><circle cx="318.2" cy="140.9" r="3.2" fill="#eed8c8" opacity="0.45"/><circle cx="330.0" cy="121.0" r="3.8" fill="#eed8c8" opacity="0.45"/><circle cx="325.5" cy="108.8" r="2.3" fill="#eed8c8" opacity="0.45"/></g></g>
<g filter="url(#blur1)"><ellipse cx="299.7" cy="113.9" rx="1.38" ry="0.70" fill="#c09078" opacity="0.42"/><ellipse cx="307.9" cy="113.2" rx="0.80" ry="0.72" fill="#9a7a68" opacity="0.43"/><ellipse cx="326.4" cy="132.4" rx="0.85" ry="0.45" fill="#b8886a" opacity="0.31"/><ellipse cx="299.1" cy="130.3" rx="0.68" ry="0.59" fill="#9a7a68" opacity="0.49"/></g>
<circle cx="312.60" cy="122.00" r="20.30" fill="none" stroke="#c0b0a8" stroke-width="1" opacity="0.55"/>
<line x1="383.10" y1="48.50" x2="383.10" y2="121.90" stroke="#3a3a3a" stroke-width="1.5"/>
<line x1="382.40" y1="121.20" x2="454.00" y2="121.20" stroke="#3a3a3a" stroke-width="1.4"/>
<line x1="380.50" y1="121.20" x2="383.10" y2="121.20" stroke="#3a3a3a" stroke-width="1"/>
<text x="377.00" y="123.40" font-size="6.3" text-anchor="end" fill="#333" stroke="#333" stroke-width="0.1">0</text>
<line x1="380.50" y1="98.10" x2="383.10" y2="98.10" stroke="#3a3a3a" stroke-width="1"/>
<text x="377.00" y="100.30" font-size="6.3" text-anchor="end" fill="#333" stroke="#333" stroke-width="0.1">100</text>
<line x1="380.50" y1="75.00" x2="383.10" y2="75.00" stroke="#3a3a3a" stroke-width="1"/>
<text x="377.00" y="77.20" font-size="6.3" text-anchor="end" fill="#333" stroke="#333" stroke-width="0.1">200</text>
<line x1="380.50" y1="51.90" x2="383.10" y2="51.90" stroke="#3a3a3a" stroke-width="1"/>
<text x="377.00" y="54.10" font-size="6.3" text-anchor="end" fill="#333" stroke="#333" stroke-width="0.1">300</text>
<rect x="389.00" y="66.91" width="10.20" height="54.29" fill="#474c63"/>
<line x1="394.00" y1="121.20" x2="394.00" y2="123.70" stroke="#3a3a3a" stroke-width="1"/>
<rect x="405.30" y="76.16" width="10.20" height="45.05" fill="#f5b90a"/>
<line x1="410.30" y1="121.20" x2="410.30" y2="123.70" stroke="#3a3a3a" stroke-width="1"/>
<rect x="421.70" y="76.16" width="10.20" height="45.05" fill="#3ea8df"/>
<line x1="426.70" y1="121.20" x2="426.70" y2="123.70" stroke="#3a3a3a" stroke-width="1"/>
<rect x="438.10" y="111.27" width="10.20" height="9.93" fill="#9b8fd0"/>
<line x1="443.10" y1="121.20" x2="443.10" y2="123.70" stroke="#3a3a3a" stroke-width="1"/>
<line x1="394.00" y1="62.99" x2="394.00" y2="69.92" stroke="#231f20" stroke-width="0.9"/>
<line x1="391.50" y1="62.99" x2="396.50" y2="62.99" stroke="#231f20" stroke-width="0.9"/>
<line x1="391.50" y1="69.92" x2="396.50" y2="69.92" stroke="#231f20" stroke-width="0.9"/>
<circle cx="391.40" cy="62.99" r="1.10" fill="#231f20"/>
<circle cx="392.70" cy="65.76" r="1.10" fill="#231f20"/>
<circle cx="394.00" cy="68.53" r="1.10" fill="#231f20"/>
<circle cx="395.30" cy="69.92" r="1.10" fill="#231f20"/>
<circle cx="396.60" cy="66.68" r="1.10" fill="#231f20"/>
<line x1="410.30" y1="65.07" x2="410.30" y2="83.78" stroke="#231f20" stroke-width="0.9"/>
<line x1="407.80" y1="65.07" x2="412.80" y2="65.07" stroke="#231f20" stroke-width="0.9"/>
<line x1="407.80" y1="83.78" x2="412.80" y2="83.78" stroke="#231f20" stroke-width="0.9"/>
<circle cx="407.70" cy="65.07" r="1.10" fill="#231f20"/>
<circle cx="409.00" cy="73.84" r="1.10" fill="#231f20"/>
<circle cx="410.30" cy="81.47" r="1.10" fill="#231f20"/>
<circle cx="411.60" cy="83.78" r="1.10" fill="#231f20"/>
<circle cx="412.90" cy="77.31" r="1.10" fill="#231f20"/>
<line x1="426.70" y1="66.91" x2="426.70" y2="81.93" stroke="#231f20" stroke-width="0.9"/>
<line x1="424.20" y1="66.91" x2="429.20" y2="66.91" stroke="#231f20" stroke-width="0.9"/>
<line x1="424.20" y1="81.93" x2="429.20" y2="81.93" stroke="#231f20" stroke-width="0.9"/>
<circle cx="424.10" cy="66.91" r="1.10" fill="#231f20"/>
<circle cx="425.40" cy="72.23" r="1.10" fill="#231f20"/>
<circle cx="426.70" cy="81.93" r="1.10" fill="#231f20"/>
<circle cx="428.00" cy="78.47" r="1.10" fill="#231f20"/>
<circle cx="429.30" cy="75.00" r="1.10" fill="#231f20"/>
<line x1="443.10" y1="110.57" x2="443.10" y2="111.50" stroke="#231f20" stroke-width="0.9"/>
<line x1="440.60" y1="110.57" x2="445.60" y2="110.57" stroke="#231f20" stroke-width="0.9"/>
<line x1="440.60" y1="111.50" x2="445.60" y2="111.50" stroke="#231f20" stroke-width="0.9"/>
<circle cx="440.50" cy="110.81" r="1.10" fill="#231f20"/>
<circle cx="441.80" cy="111.04" r="1.10" fill="#231f20"/>
<circle cx="443.10" cy="110.57" r="1.10" fill="#231f20"/>
<circle cx="444.40" cy="111.50" r="1.10" fill="#231f20"/>
<circle cx="445.70" cy="111.04" r="1.10" fill="#231f20"/>
<line x1="394.00" y1="49.70" x2="446.50" y2="49.70" stroke="#333" stroke-width="0.8"/>
<text x="420.50" y="49.60" font-size="7" text-anchor="middle" fill="#333" stroke="#333" stroke-width="0.1">****</text>
<line x1="409.50" y1="55.40" x2="446.50" y2="55.40" stroke="#333" stroke-width="0.8"/>
<text x="427.70" y="55.30" font-size="7" text-anchor="middle" fill="#333" stroke="#333" stroke-width="0.1">***</text>
<line x1="427.70" y1="61.30" x2="447.70" y2="61.30" stroke="#333" stroke-width="0.8"/>
<text x="437.70" y="61.30" font-size="7" text-anchor="middle" fill="#333" stroke="#333" stroke-width="0.1">****</text>
<text x="360.60" y="84.60" font-size="9" text-anchor="middle" fill="#333" stroke="#333" stroke-width="0.1" textLength="44.5" lengthAdjust="spacingAndGlyphs" transform="rotate(-90 360.60 84.60)">No of colonies</text>
<rect x="457.30" y="63.50" width="9.40" height="5.40" fill="#474c63"/>
<text x="470.00" y="68.80" font-size="6.8" text-anchor="start" fill="#333" stroke="#333" stroke-width="0.1">DMSO</text>
<rect x="457.30" y="73.00" width="9.40" height="5.40" fill="#f5b90a"/>
<text x="470.00" y="77.80" font-size="6.8" text-anchor="start" fill="#333" stroke="#333" stroke-width="0.1">ActD 1 nM</text>
<rect x="457.30" y="82.00" width="9.40" height="5.40" fill="#3ea8df"/>
<text x="470.00" y="86.80" font-size="6.8" text-anchor="start" fill="#333" stroke="#333" stroke-width="0.1">Ven 250 nM</text>
<rect x="457.30" y="92.40" width="9.40" height="5.40" fill="#9b8fd0"/>
<text x="470.00" y="97.00" font-size="6.8" text-anchor="start" fill="#333" stroke="#333" stroke-width="0.1">ActD 1 nM</text>
<text x="470.00" y="105.40" font-size="6.8" text-anchor="start" fill="#333" stroke="#333" stroke-width="0.1">+ Ven 250 nM</text>
<text x="288.40" y="197.70" font-size="6.2" text-anchor="middle" fill="#333" stroke="#333" stroke-width="0.1" textLength="78" lengthAdjust="spacingAndGlyphs">ZIP Synergy score: 12.627</text>
<text x="249.00" y="207.70" font-size="6.2" text-anchor="middle" fill="#333" stroke="#333" stroke-width="0.1">−60</text>
<text x="262.50" y="207.70" font-size="6.2" text-anchor="middle" fill="#333" stroke="#333" stroke-width="0.1">−40</text>
<text x="276.00" y="207.70" font-size="6.2" text-anchor="middle" fill="#333" stroke="#333" stroke-width="0.1">−20</text>
<text x="288.00" y="207.70" font-size="6.2" text-anchor="middle" fill="#333" stroke="#333" stroke-width="0.1">0</text>
<text x="301.50" y="207.70" font-size="6.2" text-anchor="middle" fill="#333" stroke="#333" stroke-width="0.1">20</text>
<text x="315.00" y="207.70" font-size="6.2" text-anchor="middle" fill="#333" stroke="#333" stroke-width="0.1">40</text>
<text x="328.00" y="207.70" font-size="6.2" text-anchor="middle" fill="#333" stroke="#333" stroke-width="0.1">60</text>
<rect x="242.00" y="211.20" width="94.00" height="2.80" fill="url(#cbar)"/>
<line x1="295.60" y1="232.70" x2="378.50" y2="210.80" stroke="#555" stroke-width="0.7"/>
<line x1="378.50" y1="210.80" x2="433.70" y2="250.50" stroke="#555" stroke-width="0.7"/>
<line x1="295.60" y1="232.70" x2="343.00" y2="281.00" stroke="#555" stroke-width="0.7"/>
<line x1="433.70" y1="250.50" x2="343.00" y2="281.00" stroke="#555" stroke-width="0.7"/>
<line x1="378.50" y1="210.80" x2="375.00" y2="286.00" stroke="#555" stroke-width="0.7" stroke-dasharray="1,1.2"/>
<line x1="302.50" y1="310.00" x2="375.00" y2="286.00" stroke="#555" stroke-width="0.7" stroke-dasharray="1,1.2"/>
<line x1="425.70" y1="331.00" x2="375.00" y2="286.00" stroke="#555" stroke-width="0.7" stroke-dasharray="1,1.2"/>
<g stroke="#2a2a2a" stroke-width="0.5" stroke-linejoin="round"><polygon points="375.6,252.6 378.9,251.7 376.7,249.9 373.5,250.9" fill="rgb(254,254,254)"/><polygon points="377.8,254.4 381.1,253.4 378.9,251.7 375.6,252.6" fill="rgb(254,254,254)"/><polygon points="372.4,253.6 375.6,252.6 373.5,250.9 370.2,251.8" fill="rgb(254,254,254)"/><polygon points="380.0,256.2 383.3,255.2 381.1,253.4 377.8,254.4" fill="rgb(254,254,254)"/><polygon points="374.6,255.4 377.8,254.4 375.6,252.6 372.4,253.6" fill="rgb(254,254,254)"/><polygon points="369.1,254.6 372.4,253.6 370.2,251.8 367.0,252.8" fill="rgb(254,254,254)"/><polygon points="382.2,258.0 385.5,257.0 383.3,255.2 380.0,256.2" fill="rgb(254,254,254)"/><polygon points="376.7,257.2 380.0,256.2 377.8,254.4 374.6,255.4" fill="rgb(254,254,254)"/><polygon points="371.3,256.4 374.6,255.4 372.4,253.6 369.1,254.6" fill="rgb(254,254,254)"/><polygon points="365.9,255.6 369.1,254.6 367.0,252.8 363.8,253.7" fill="rgb(254,254,254)"/><polygon points="384.4,259.7 387.7,258.7 385.5,257.0 382.2,258.0" fill="rgb(254,254,254)"/><polygon points="378.9,259.0 382.2,258.0 380.0,256.2 376.7,257.2" fill="rgb(254,254,254)"/><polygon points="373.5,258.2 376.7,257.2 374.6,255.4 371.3,256.4" fill="rgb(254,254,254)"/><polygon points="368.0,257.4 371.3,256.4 369.1,254.6 365.9,255.6" fill="rgb(254,254,254)"/><polygon points="362.7,256.5 365.9,255.6 363.8,253.7 360.5,254.7" fill="rgb(254,254,254)"/><polygon points="386.6,261.5 389.9,260.5 387.7,258.7 384.4,259.7" fill="rgb(254,254,254)"/><polygon points="381.1,260.7 384.4,259.7 382.2,258.0 378.9,259.0" fill="rgb(254,254,254)"/><polygon points="375.6,260.0 378.9,259.0 376.7,257.2 373.5,258.2" fill="rgb(254,254,254)"/><polygon points="370.2,259.2 373.5,258.2 371.3,256.4 368.0,257.4" fill="rgb(254,254,254)"/><polygon points="364.8,258.4 368.0,257.4 365.9,255.6 362.7,256.5" fill="rgb(254,254,254)"/><polygon points="359.4,257.5 362.7,256.5 360.5,254.7 357.3,255.6" fill="rgb(254,254,254)"/><polygon points="388.8,263.2 392.1,262.3 389.9,260.5 386.6,261.5" fill="rgb(254,254,254)"/><polygon points="383.3,262.4 386.6,261.5 384.4,259.7 381.1,260.7" fill="rgb(254,254,254)"/><polygon points="377.8,261.7 381.1,260.7 378.9,259.0 375.6,260.0" fill="rgb(254,254,254)"/><polygon points="372.3,260.9 375.6,260.0 373.5,258.2 370.2,259.2" fill="rgb(254,254,254)"/><polygon points="366.9,260.2 370.2,259.2 368.0,257.4 364.8,258.4" fill="rgb(254,254,254)"/><polygon points="361.5,259.3 364.8,258.4 362.7,256.5 359.4,257.5" fill="rgb(254,254,254)"/><polygon points="356.2,258.5 359.4,257.5 357.3,255.6 354.1,256.6" fill="rgb(254,254,254)"/><polygon points="391.0,264.8 394.3,264.1 392.1,262.3 388.8,263.2" fill="rgb(254,253,253)"/><polygon points="385.4,264.1 388.8,263.2 386.6,261.5 383.3,262.4" fill="rgb(254,253,253)"/><polygon points="379.9,263.4 383.3,262.4 381.1,260.7 377.8,261.7" fill="rgb(254,253,253)"/><polygon points="374.5,262.7 377.8,261.7 375.6,260.0 372.3,260.9" fill="rgb(254,253,254)"/><polygon points="369.0,261.9 372.3,260.9 370.2,259.2 366.9,260.2" fill="rgb(254,254,254)"/><polygon points="363.6,261.1 366.9,260.2 364.8,258.4 361.5,259.3" fill="rgb(254,254,254)"/><polygon points="358.3,260.3 361.5,259.3 359.4,257.5 356.2,258.5" fill="rgb(254,254,254)"/><polygon points="352.9,259.4 356.2,258.5 354.1,256.6 350.8,257.6" fill="rgb(254,254,254)"/><polygon points="393.2,266.4 396.5,265.8 394.3,264.1 391.0,264.8" fill="rgb(254,253,253)"/><polygon points="387.6,265.6 391.0,264.8 388.8,263.2 385.4,264.1" fill="rgb(254,251,252)"/><polygon points="382.1,264.9 385.4,264.1 383.3,262.4 379.9,263.4" fill="rgb(254,252,252)"/><polygon points="376.6,264.3 379.9,263.4 377.8,261.7 374.5,262.7" fill="rgb(254,252,253)"/><polygon points="371.2,263.6 374.5,262.7 372.3,260.9 369.0,261.9" fill="rgb(254,253,253)"/><polygon points="365.7,262.9 369.0,261.9 366.9,260.2 363.6,261.1" fill="rgb(254,254,254)"/><polygon points="360.4,262.1 363.6,261.1 361.5,259.3 358.3,260.3" fill="rgb(254,254,254)"/><polygon points="355.0,261.3 358.3,260.3 356.2,258.5 352.9,259.4" fill="rgb(254,254,254)"/><polygon points="349.7,260.4 352.9,259.4 350.8,257.6 347.6,258.5" fill="rgb(254,254,254)"/><polygon points="395.4,267.8 398.7,267.6 396.5,265.8 393.2,266.4" fill="rgb(254,252,252)"/><polygon points="389.8,267.0 393.2,266.4 391.0,264.8 387.6,265.6" fill="rgb(254,249,249)"/><polygon points="384.3,266.3 387.6,265.6 385.4,264.1 382.1,264.9" fill="rgb(254,249,250)"/><polygon points="378.8,265.8 382.1,264.9 379.9,263.4 376.6,264.3" fill="rgb(254,250,251)"/><polygon points="373.3,265.2 376.6,264.3 374.5,262.7 371.2,263.6" fill="rgb(254,252,252)"/><polygon points="367.9,264.6 371.2,263.6 369.0,261.9 365.7,262.9" fill="rgb(254,253,253)"/><polygon points="362.5,263.9 365.7,262.9 363.6,261.1 360.4,262.1" fill="rgb(254,254,254)"/><polygon points="357.1,263.1 360.4,262.1 358.3,260.3 355.0,261.3" fill="rgb(254,254,254)"/><polygon points="351.7,262.3 355.0,261.3 352.9,259.4 349.7,260.4" fill="rgb(254,254,254)"/><polygon points="346.4,261.4 349.7,260.4 347.6,258.5 344.4,259.5" fill="rgb(254,254,254)"/><polygon points="397.6,269.2 400.9,269.4 398.7,267.6 395.4,267.8" fill="rgb(254,250,250)"/><polygon points="392.0,268.2 395.4,267.8 393.2,266.4 389.8,267.0" fill="rgb(254,246,246)"/><polygon points="386.5,267.5 389.8,267.0 387.6,265.6 384.3,266.3" fill="rgb(254,246,246)"/><polygon points="380.9,267.1 384.3,266.3 382.1,264.9 378.8,265.8" fill="rgb(254,247,248)"/><polygon points="375.4,266.6 378.8,265.8 376.6,264.3 373.3,265.2" fill="rgb(254,249,249)"/><polygon points="370.0,266.2 373.3,265.2 371.2,263.6 367.9,264.6" fill="rgb(254,251,251)"/><polygon points="364.5,265.6 367.9,264.6 365.7,262.9 362.5,263.9" fill="rgb(254,252,252)"/><polygon points="359.2,264.9 362.5,263.9 360.4,262.1 357.1,263.1" fill="rgb(254,253,253)"/><polygon points="353.8,264.1 357.1,263.1 355.0,261.3 351.7,262.3" fill="rgb(254,254,254)"/><polygon points="348.5,263.2 351.7,262.3 349.7,260.4 346.4,261.4" fill="rgb(254,254,254)"/><polygon points="343.2,262.3 346.4,261.4 344.4,259.5 341.2,260.4" fill="rgb(254,254,254)"/><polygon points="399.8,270.5 403.1,271.1 400.9,269.4 397.6,269.2" fill="rgb(254,248,248)"/><polygon points="394.3,269.2 397.6,269.2 395.4,267.8 392.0,268.2" fill="rgb(253,242,242)"/><polygon points="388.7,268.4 392.0,268.2 389.8,267.0 386.5,267.5" fill="rgb(253,240,241)"/><polygon points="383.1,268.0 386.5,267.5 384.3,266.3 380.9,267.1" fill="rgb(253,242,243)"/><polygon points="377.6,267.8 380.9,267.1 378.8,265.8 375.4,266.6" fill="rgb(254,245,245)"/><polygon points="372.1,267.5 375.4,266.6 373.3,265.2 370.0,266.2" fill="rgb(254,248,248)"/><polygon points="366.7,267.1 370.0,266.2 367.9,264.6 364.5,265.6" fill="rgb(254,250,250)"/><polygon points="361.2,266.5 364.5,265.6 362.5,263.9 359.2,264.9" fill="rgb(254,252,252)"/><polygon points="355.9,265.8 359.2,264.9 357.1,263.1 353.8,264.1" fill="rgb(254,253,253)"/><polygon points="350.5,265.1 353.8,264.1 351.7,262.3 348.5,263.2" fill="rgb(254,254,254)"/><polygon points="345.2,264.2 348.5,263.2 346.4,261.4 343.2,262.3" fill="rgb(254,254,254)"/><polygon points="339.9,263.3 343.2,262.3 341.2,260.4 337.9,261.4" fill="rgb(254,254,254)"/><polygon points="402.0,271.8 405.3,272.9 403.1,271.1 399.8,270.5" fill="rgb(254,246,246)"/><polygon points="396.5,270.1 399.8,270.5 397.6,269.2 394.3,269.2" fill="rgb(253,236,237)"/><polygon points="390.9,269.1 394.3,269.2 392.0,268.2 388.7,268.4" fill="rgb(253,233,234)"/><polygon points="385.3,268.6 388.7,268.4 386.5,267.5 383.1,268.0" fill="rgb(253,234,235)"/><polygon points="379.8,268.5 383.1,268.0 380.9,267.1 377.6,267.8" fill="rgb(253,238,239)"/><polygon points="374.2,268.5 377.6,267.8 375.4,266.6 372.1,267.5" fill="rgb(253,242,243)"/><polygon points="368.8,268.3 372.1,267.5 370.0,266.2 366.7,267.1" fill="rgb(254,246,247)"/><polygon points="363.3,268.0 366.7,267.1 364.5,265.6 361.2,266.5" fill="rgb(254,249,250)"/><polygon points="357.9,267.5 361.2,266.5 359.2,264.9 355.9,265.8" fill="rgb(254,251,252)"/><polygon points="352.6,266.8 355.9,265.8 353.8,264.1 350.5,265.1" fill="rgb(254,253,253)"/><polygon points="347.3,266.0 350.5,265.1 348.5,263.2 345.2,264.2" fill="rgb(254,254,254)"/><polygon points="342.0,265.2 345.2,264.2 343.2,262.3 339.9,263.3" fill="rgb(254,254,254)"/><polygon points="336.7,264.3 339.9,263.3 337.9,261.4 334.7,262.3" fill="rgb(254,254,254)"/><polygon points="404.3,273.1 407.5,274.7 405.3,272.9 402.0,271.8" fill="rgb(254,244,245)"/><polygon points="398.7,270.9 402.0,271.8 399.8,270.5 396.5,270.1" fill="rgb(252,230,231)"/><polygon points="393.2,269.5 396.5,270.1 394.3,269.2 390.9,269.1" fill="rgb(252,224,226)"/><polygon points="387.6,268.9 390.9,269.1 388.7,268.4 385.3,268.6" fill="rgb(252,224,226)"/><polygon points="382.0,268.8 385.3,268.6 383.1,268.0 379.8,268.5" fill="rgb(252,228,229)"/><polygon points="376.4,269.0 379.8,268.5 377.6,267.8 374.2,268.5" fill="rgb(253,234,235)"/><polygon points="370.9,269.1 374.2,268.5 372.1,267.5 368.8,268.3" fill="rgb(253,240,240)"/><polygon points="365.4,269.1 368.8,268.3 366.7,267.1 363.3,268.0" fill="rgb(254,245,245)"/><polygon points="360.0,268.9 363.3,268.0 361.2,266.5 357.9,267.5" fill="rgb(254,248,249)"/><polygon points="354.6,268.4 357.9,267.5 355.9,265.8 352.6,266.8" fill="rgb(254,251,251)"/><polygon points="349.3,267.8 352.6,266.8 350.5,265.1 347.3,266.0" fill="rgb(254,252,252)"/><polygon points="344.0,267.0 347.3,266.0 345.2,264.2 342.0,265.2" fill="rgb(254,253,253)"/><polygon points="338.7,266.2 342.0,265.2 339.9,263.3 336.7,264.3" fill="rgb(254,254,254)"/><polygon points="333.5,265.2 336.7,264.3 334.7,262.3 331.5,263.3" fill="rgb(254,254,254)"/><polygon points="406.5,274.5 409.7,276.4 407.5,274.7 404.3,273.1" fill="rgb(253,242,243)"/><polygon points="401.0,271.7 404.3,273.1 402.0,271.8 398.7,270.9" fill="rgb(252,224,225)"/><polygon points="395.4,269.8 398.7,270.9 396.5,270.1 393.2,269.5" fill="rgb(251,214,216)"/><polygon points="389.8,268.8 393.2,269.5 390.9,269.1 387.6,268.9" fill="rgb(251,212,214)"/><polygon points="384.2,268.6 387.6,268.9 385.3,268.6 382.0,268.8" fill="rgb(251,215,217)"/><polygon points="378.6,269.0 382.0,268.8 379.8,268.5 376.4,269.0" fill="rgb(252,221,223)"/><polygon points="373.0,269.4 376.4,269.0 374.2,268.5 370.9,269.1" fill="rgb(252,230,231)"/><polygon points="367.5,269.8 370.9,269.1 368.8,268.3 365.4,269.1" fill="rgb(253,237,238)"/><polygon points="362.1,269.9 365.4,269.1 363.3,268.0 360.0,268.9" fill="rgb(254,243,243)"/><polygon points="356.7,269.7 360.0,268.9 357.9,267.5 354.6,268.4" fill="rgb(254,247,248)"/><polygon points="351.3,269.3 354.6,268.4 352.6,266.8 349.3,267.8" fill="rgb(254,250,250)"/><polygon points="346.0,268.7 349.3,267.8 347.3,266.0 344.0,267.0" fill="rgb(254,252,252)"/><polygon points="340.7,268.0 344.0,267.0 342.0,265.2 338.7,266.2" fill="rgb(254,253,253)"/><polygon points="335.4,267.1 338.7,266.2 336.7,264.3 333.5,265.2" fill="rgb(254,254,254)"/><polygon points="330.2,266.2 333.5,265.2 331.5,263.3 328.2,264.3" fill="rgb(254,254,254)"/><polygon points="408.7,276.1 411.9,278.2 409.7,276.4 406.5,274.5" fill="rgb(253,241,242)"/><polygon points="403.2,272.8 406.5,274.5 404.3,273.1 401.0,271.7" fill="rgb(251,219,220)"/><polygon points="397.7,270.3 401.0,271.7 398.7,270.9 395.4,269.8" fill="rgb(250,204,207)"/><polygon points="392.1,268.6 395.4,269.8 393.2,269.5 389.8,268.8" fill="rgb(250,198,200)"/><polygon points="386.4,268.1 389.8,268.8 387.6,268.9 384.2,268.6" fill="rgb(250,198,201)"/><polygon points="380.8,268.4 384.2,268.6 382.0,268.8 378.6,269.0" fill="rgb(250,205,207)"/><polygon points="375.2,269.1 378.6,269.0 376.4,269.0 373.0,269.4" fill="rgb(251,215,217)"/><polygon points="369.7,269.9 373.0,269.4 370.9,269.1 367.5,269.8" fill="rgb(252,225,227)"/><polygon points="364.2,270.4 367.5,269.8 365.4,269.1 362.1,269.9" fill="rgb(253,234,235)"/><polygon points="358.7,270.6 362.1,269.9 360.0,268.9 356.7,269.7" fill="rgb(253,241,242)"/><polygon points="353.3,270.5 356.7,269.7 354.6,268.4 351.3,269.3" fill="rgb(254,246,246)"/><polygon points="348.0,270.2 351.3,269.3 349.3,267.8 346.0,268.7" fill="rgb(254,249,249)"/><polygon points="342.7,269.6 346.0,268.7 344.0,267.0 340.7,268.0" fill="rgb(254,251,252)"/><polygon points="337.4,268.9 340.7,268.0 338.7,266.2 335.4,267.1" fill="rgb(254,253,253)"/><polygon points="332.2,268.1 335.4,267.1 333.5,265.2 330.2,266.2" fill="rgb(254,254,254)"/><polygon points="327.0,267.2 330.2,266.2 328.2,264.3 325.0,265.2" fill="rgb(254,254,254)"/><polygon points="410.9,277.8 414.1,280.0 411.9,278.2 408.7,276.1" fill="rgb(253,241,241)"/><polygon points="405.4,274.2 408.7,276.1 406.5,274.5 403.2,272.8" fill="rgb(251,215,217)"/><polygon points="399.9,271.0 403.2,272.8 401.0,271.7 397.7,270.3" fill="rgb(249,196,199)"/><polygon points="394.3,268.6 397.7,270.3 395.4,269.8 392.1,268.6" fill="rgb(248,184,187)"/><polygon points="388.7,267.4 392.1,268.6 389.8,268.8 386.4,268.1" fill="rgb(248,180,184)"/><polygon points="383.1,267.4 386.4,268.1 384.2,268.6 380.8,268.4" fill="rgb(249,185,188)"/><polygon points="377.4,268.2 380.8,268.4 378.6,269.0 375.2,269.1" fill="rgb(249,196,199)"/><polygon points="371.8,269.3 375.2,269.1 373.0,269.4 369.7,269.9" fill="rgb(251,209,211)"/><polygon points="366.3,270.3 369.7,269.9 367.5,269.8 364.2,270.4" fill="rgb(252,221,222)"/><polygon points="360.8,271.0 364.2,270.4 362.1,269.9 358.7,270.6" fill="rgb(252,231,232)"/><polygon points="355.4,271.3 358.7,270.6 356.7,269.7 353.3,270.5" fill="rgb(253,239,239)"/><polygon points="350.0,271.3 353.3,270.5 351.3,269.3 348.0,270.2" fill="rgb(254,244,245)"/><polygon points="344.7,270.9 348.0,270.2 346.0,268.7 342.7,269.6" fill="rgb(254,248,248)"/><polygon points="339.4,270.4 342.7,269.6 340.7,268.0 337.4,268.9" fill="rgb(254,251,251)"/><polygon points="334.1,269.8 337.4,268.9 335.4,267.1 332.2,268.1" fill="rgb(254,252,252)"/><polygon points="328.9,269.0 332.2,268.1 330.2,266.2 327.0,267.2" fill="rgb(254,254,254)"/><polygon points="323.7,268.1 327.0,267.2 325.0,265.2 321.8,266.2" fill="rgb(254,254,254)"/><polygon points="413.1,279.8 416.3,281.7 414.1,280.0 410.9,277.8" fill="rgb(253,241,242)"/><polygon points="407.6,276.0 410.9,277.8 408.7,276.1 405.4,274.2" fill="rgb(251,214,216)"/><polygon points="402.1,272.2 405.4,274.2 403.2,272.8 399.9,271.0" fill="rgb(249,190,193)"/><polygon points="396.6,269.0 399.9,271.0 397.7,270.3 394.3,268.6" fill="rgb(247,172,176)"/><polygon points="391.0,267.0 394.3,268.6 392.1,268.6 388.7,267.4" fill="rgb(247,163,167)"/><polygon points="385.3,266.3 388.7,267.4 386.4,268.1 383.1,267.4" fill="rgb(247,163,168)"/><polygon points="379.7,266.9 383.1,267.4 380.8,268.4 377.4,268.2" fill="rgb(247,173,176)"/><polygon points="374.0,268.1 377.4,268.2 375.2,269.1 371.8,269.3" fill="rgb(249,187,190)"/><polygon points="368.4,269.5 371.8,269.3 369.7,269.9 366.3,270.3" fill="rgb(250,202,205)"/><polygon points="362.9,270.7 366.3,270.3 364.2,270.4 360.8,271.0" fill="rgb(251,216,218)"/><polygon points="357.4,271.5 360.8,271.0 358.7,270.6 355.4,271.3" fill="rgb(252,227,229)"/><polygon points="352.0,271.8 355.4,271.3 353.3,270.5 350.0,271.3" fill="rgb(253,236,236)"/><polygon points="346.7,271.8 350.0,271.3 348.0,270.2 344.7,270.9" fill="rgb(253,241,242)"/><polygon points="341.4,271.6 344.7,270.9 342.7,269.6 339.4,270.4" fill="rgb(254,246,246)"/><polygon points="336.1,271.3 339.4,270.4 337.4,268.9 334.1,269.8" fill="rgb(254,249,250)"/><polygon points="330.9,270.8 334.1,269.8 332.2,268.1 328.9,269.0" fill="rgb(254,252,252)"/><polygon points="325.7,270.0 328.9,269.0 327.0,267.2 323.7,268.1" fill="rgb(254,254,254)"/><polygon points="320.5,269.1 323.7,268.1 321.8,266.2 318.6,267.1" fill="rgb(254,254,254)"/><polygon points="415.2,282.0 418.5,283.5 416.3,281.7 413.1,279.8" fill="rgb(253,242,243)"/><polygon points="409.8,278.2 413.1,279.8 410.9,277.8 407.6,276.0" fill="rgb(251,215,217)"/><polygon points="404.3,274.0 407.6,276.0 405.4,274.2 402.1,272.2" fill="rgb(249,188,192)"/><polygon points="398.8,270.1 402.1,272.2 399.9,271.0 396.6,269.0" fill="rgb(247,164,169)"/><polygon points="393.3,267.0 396.6,269.0 394.3,268.6 391.0,267.0" fill="rgb(245,148,153)"/><polygon points="387.6,265.5 391.0,267.0 388.7,267.4 385.3,266.3" fill="rgb(245,142,147)"/><polygon points="381.9,265.4 385.3,266.3 383.1,267.4 379.7,266.9" fill="rgb(245,147,152)"/><polygon points="376.2,266.4 379.7,266.9 377.4,268.2 374.0,268.1" fill="rgb(246,161,165)"/><polygon points="370.6,268.0 374.0,268.1 371.8,269.3 368.4,269.5" fill="rgb(248,178,182)"/><polygon points="365.0,269.6 368.4,269.5 366.3,270.3 362.9,270.7" fill="rgb(249,195,198)"/><polygon points="359.5,270.9 362.9,270.7 360.8,271.0 357.4,271.5" fill="rgb(251,210,213)"/><polygon points="354.1,271.7 357.4,271.5 355.4,271.3 352.0,271.8" fill="rgb(252,222,224)"/><polygon points="348.7,272.0 352.0,271.8 350.0,271.3 346.7,271.8" fill="rgb(252,231,232)"/><polygon points="343.3,272.1 346.7,271.8 344.7,270.9 341.4,271.6" fill="rgb(253,238,238)"/><polygon points="338.0,272.2 341.4,271.6 339.4,270.4 336.1,271.3" fill="rgb(254,244,244)"/><polygon points="332.8,272.2 336.1,271.3 334.1,269.8 330.9,270.8" fill="rgb(254,249,249)"/><polygon points="327.6,271.8 330.9,270.8 328.9,269.0 325.7,270.0" fill="rgb(254,252,252)"/><polygon points="322.4,271.1 325.7,270.0 323.7,268.1 320.5,269.1" fill="rgb(254,254,254)"/><polygon points="317.2,270.1 320.5,269.1 318.6,267.1 315.3,268.1" fill="rgb(254,254,254)"/><polygon points="417.4,284.2 420.7,285.3 418.5,283.5 415.2,282.0" fill="rgb(254,244,245)"/><polygon points="411.9,280.7 415.2,282.0 413.1,279.8 409.8,278.2" fill="rgb(251,219,221)"/><polygon points="406.4,276.5 409.8,278.2 407.6,276.0 404.3,274.0" fill="rgb(249,191,194)"/><polygon points="401.0,271.9 404.3,274.0 402.1,272.2 398.8,270.1" fill="rgb(247,162,166)"/><polygon points="395.5,267.9 398.8,270.1 396.6,269.0 393.3,267.0" fill="rgb(244,138,143)"/><polygon points="389.9,265.3 393.3,267.0 391.0,267.0 387.6,265.5" fill="rgb(243,124,130)"/><polygon points="384.2,264.3 387.6,265.5 385.3,266.3 381.9,265.4" fill="rgb(243,123,129)"/><polygon points="378.5,264.7 381.9,265.4 379.7,266.9 376.2,266.4" fill="rgb(244,133,139)"/><polygon points="372.8,266.1 376.2,266.4 374.0,268.1 370.6,268.0" fill="rgb(245,150,155)"/><polygon points="367.2,267.9 370.6,268.0 368.4,269.5 365.0,269.6" fill="rgb(247,169,173)"/><polygon points="361.6,269.6 365.0,269.6 362.9,270.7 359.5,270.9" fill="rgb(249,188,191)"/><polygon points="356.1,270.8 359.5,270.9 357.4,271.5 354.1,271.7" fill="rgb(250,203,205)"/><polygon points="350.7,271.3 354.1,271.7 352.0,271.8 348.7,272.0" fill="rgb(251,214,216)"/><polygon points="345.3,271.7 348.7,272.0 346.7,271.8 343.3,272.1" fill="rgb(252,223,225)"/><polygon points="340.0,272.3 343.3,272.1 341.4,271.6 338.0,272.2" fill="rgb(253,232,234)"/><polygon points="334.7,273.1 338.0,272.2 336.1,271.3 332.8,272.2" fill="rgb(253,242,242)"/><polygon points="329.5,273.5 332.8,272.2 330.9,270.8 327.6,271.8" fill="rgb(254,249,249)"/><polygon points="324.3,273.0 327.6,271.8 325.7,270.0 322.4,271.1" fill="rgb(254,253,253)"/><polygon points="319.1,272.1 322.4,271.1 320.5,269.1 317.2,270.1" fill="rgb(254,254,254)"/><polygon points="314.0,271.1 317.2,270.1 315.3,268.1 312.1,269.1" fill="rgb(254,254,254)"/><polygon points="419.5,286.6 422.9,287.1 420.7,285.3 417.4,284.2" fill="rgb(254,246,247)"/><polygon points="414.0,283.5 417.4,284.2 415.2,282.0 411.9,280.7" fill="rgb(252,224,226)"/><polygon points="408.5,279.4 411.9,280.7 409.8,278.2 406.4,276.5" fill="rgb(250,197,199)"/><polygon points="403.1,274.6 406.4,276.5 404.3,274.0 401.0,271.9" fill="rgb(247,165,170)"/><polygon points="397.6,269.9 401.0,271.9 398.8,270.1 395.5,267.9" fill="rgb(244,135,141)"/><polygon points="392.1,266.1 395.5,267.9 393.3,267.0 389.9,265.3" fill="rgb(242,113,120)"/><polygon points="386.4,263.9 389.9,265.3 387.6,265.5 384.2,264.3" fill="rgb(241,103,110)"/><polygon points="380.7,263.3 384.2,264.3 381.9,265.4 378.5,264.7" fill="rgb(242,106,113)"/><polygon points="375.0,264.1 378.5,264.7 376.2,266.4 372.8,266.1" fill="rgb(243,120,126)"/><polygon points="369.3,265.8 372.8,266.1 370.6,268.0 367.2,267.9" fill="rgb(245,139,144)"/><polygon points="363.7,267.7 367.2,267.9 365.0,269.6 361.6,269.6" fill="rgb(246,160,164)"/><polygon points="358.2,269.1 361.6,269.6 359.5,270.9 356.1,270.8" fill="rgb(248,178,181)"/><polygon points="352.7,269.9 356.1,270.8 354.1,271.7 350.7,271.3" fill="rgb(249,191,194)"/><polygon points="347.3,270.3 350.7,271.3 348.7,272.0 345.3,271.7" fill="rgb(250,202,205)"/><polygon points="341.9,271.2 345.3,271.7 343.3,272.1 340.0,272.3" fill="rgb(251,214,216)"/><polygon points="336.6,272.9 340.0,272.3 338.0,272.2 334.7,273.1" fill="rgb(252,229,230)"/><polygon points="331.4,274.8 334.7,273.1 332.8,272.2 329.5,273.5" fill="rgb(254,243,244)"/><polygon points="326.2,275.2 329.5,273.5 327.6,271.8 324.3,273.0" fill="rgb(254,252,252)"/><polygon points="321.0,274.2 324.3,273.0 322.4,271.1 319.1,272.1" fill="rgb(254,254,254)"/><polygon points="315.9,273.1 319.1,272.1 317.2,270.1 314.0,271.1" fill="rgb(254,254,254)"/><polygon points="310.7,272.1 314.0,271.1 312.1,269.1 308.9,270.0" fill="rgb(254,254,254)"/><polygon points="421.7,288.9 425.1,288.8 422.9,287.1 419.5,286.6" fill="rgb(254,249,249)"/><polygon points="416.1,286.3 419.5,286.6 417.4,284.2 414.0,283.5" fill="rgb(252,231,232)"/><polygon points="410.6,282.6 414.0,283.5 411.9,280.7 408.5,279.4" fill="rgb(250,206,208)"/><polygon points="405.2,278.0 408.5,279.4 406.4,276.5 403.1,274.6" fill="rgb(248,174,178)"/><polygon points="399.7,272.9 403.1,274.6 401.0,271.9 397.6,269.9" fill="rgb(245,140,145)"/><polygon points="394.2,268.2 397.6,269.9 395.5,267.9 392.1,266.1" fill="rgb(242,110,117)"/><polygon points="388.6,264.7 392.1,266.1 389.9,265.3 386.4,263.9" fill="rgb(240,91,98)"/><polygon points="383.0,262.9 386.4,263.9 384.2,264.3 380.7,263.3" fill="rgb(240,85,93)"/><polygon points="377.3,262.7 380.7,263.3 378.5,264.7 375.0,264.1" fill="rgb(240,91,99)"/><polygon points="371.5,263.7 375.0,264.1 372.8,266.1 369.3,265.8" fill="rgb(242,107,114)"/><polygon points="365.9,265.4 369.3,265.8 367.2,267.9 363.7,267.7" fill="rgb(244,128,134)"/><polygon points="360.3,267.0 363.7,267.7 361.6,269.6 358.2,269.1" fill="rgb(245,148,153)"/><polygon points="354.7,267.7 358.2,269.1 356.1,270.8 352.7,269.9" fill="rgb(247,163,167)"/><polygon points="349.3,268.0 352.7,269.9 350.7,271.3 347.3,270.3" fill="rgb(248,174,178)"/><polygon points="343.8,268.9 347.3,270.3 345.3,271.7 341.9,271.2" fill="rgb(249,187,190)"/><polygon points="338.5,271.4 341.9,271.2 340.0,272.3 336.6,272.9" fill="rgb(250,206,209)"/><polygon points="333.3,275.4 336.6,272.9 334.7,273.1 331.4,274.8" fill="rgb(253,232,233)"/><polygon points="328.2,277.9 331.4,274.8 329.5,273.5 326.2,275.2" fill="rgb(254,251,252)"/><polygon points="323.0,276.8 326.2,275.2 324.3,273.0 321.0,274.2" fill="rgb(254,254,254)"/><polygon points="317.8,275.2 321.0,274.2 319.1,272.1 315.9,273.1" fill="rgb(254,254,254)"/><polygon points="312.6,274.1 315.9,273.1 314.0,271.1 310.7,272.1" fill="rgb(254,254,254)"/><polygon points="307.5,273.0 310.7,272.1 308.9,270.0 305.6,271.0" fill="rgb(254,254,254)"/><polygon points="423.8,291.3 427.3,290.6 425.1,288.8 421.7,288.9" fill="rgb(254,251,251)"/><polygon points="418.2,289.2 421.7,288.9 419.5,286.6 416.1,286.3" fill="rgb(253,237,238)"/><polygon points="412.6,286.0 416.1,286.3 414.0,283.5 410.6,282.6" fill="rgb(251,216,218)"/><polygon points="407.2,281.7 410.6,282.6 408.5,279.4 405.2,278.0" fill="rgb(249,186,190)"/><polygon points="401.8,276.6 405.2,278.0 403.1,274.6 399.7,272.9" fill="rgb(246,151,156)"/><polygon points="396.3,271.4 399.7,272.9 397.6,269.9 394.2,268.2" fill="rgb(243,116,123)"/><polygon points="390.8,266.9 394.2,268.2 392.1,266.1 388.6,264.7" fill="rgb(240,88,96)"/><polygon points="385.2,263.8 388.6,264.7 386.4,263.9 383.0,262.9" fill="rgb(239,72,81)"/><polygon points="379.5,262.2 383.0,262.9 380.7,263.3 377.3,262.7" fill="rgb(239,69,78)"/><polygon points="373.7,262.3 377.3,262.7 375.0,264.1 371.5,263.7" fill="rgb(239,78,86)"/><polygon points="368.0,263.4 371.5,263.7 369.3,265.8 365.9,265.4" fill="rgb(241,95,103)"/><polygon points="362.4,264.7 365.9,265.4 363.7,267.7 360.3,267.0" fill="rgb(242,115,121)"/><polygon points="356.8,265.3 360.3,267.0 358.2,269.1 354.7,267.7" fill="rgb(244,130,136)"/><polygon points="351.3,265.1 354.7,267.7 352.7,269.9 349.3,268.0" fill="rgb(245,140,145)"/><polygon points="345.8,265.5 349.3,268.0 347.3,270.3 343.8,268.9" fill="rgb(246,151,156)"/><polygon points="340.4,268.2 343.8,268.9 341.9,271.2 338.5,271.4" fill="rgb(247,173,177)"/><polygon points="335.2,274.1 338.5,271.4 336.6,272.9 333.3,275.4" fill="rgb(251,210,212)"/><polygon points="330.1,280.3 333.3,275.4 331.4,274.8 328.2,277.9" fill="rgb(254,249,250)"/><polygon points="325.0,280.5 328.2,277.9 326.2,275.2 323.0,276.8" fill="rgb(253,253,253)"/><polygon points="319.7,277.7 323.0,276.8 321.0,274.2 317.8,275.2" fill="rgb(254,254,254)"/><polygon points="314.5,276.2 317.8,275.2 315.9,273.1 312.6,274.1" fill="rgb(254,254,254)"/><polygon points="309.4,275.1 312.6,274.1 310.7,272.1 307.5,273.0" fill="rgb(254,254,254)"/><polygon points="304.3,274.0 307.5,273.0 305.6,271.0 302.4,271.9" fill="rgb(254,254,254)"/><polygon points="425.9,293.7 429.5,292.4 427.3,290.6 423.8,291.3" fill="rgb(254,253,253)"/><polygon points="420.3,292.1 423.8,291.3 421.7,288.9 418.2,289.2" fill="rgb(254,244,245)"/><polygon points="414.7,289.5 418.2,289.2 416.1,286.3 412.6,286.0" fill="rgb(252,227,228)"/><polygon points="409.2,285.7 412.6,286.0 410.6,282.6 407.2,281.7" fill="rgb(250,201,204)"/><polygon points="403.7,280.9 407.2,281.7 405.2,278.0 401.8,276.6" fill="rgb(247,167,171)"/><polygon points="398.3,275.6 401.8,276.6 399.7,272.9 396.3,271.4" fill="rgb(244,130,136)"/><polygon points="392.8,270.4 396.3,271.4 394.2,268.2 390.8,266.9" fill="rgb(241,96,103)"/><polygon points="387.3,266.1 390.8,266.9 388.6,264.7 385.2,263.8" fill="rgb(239,70,79)"/><polygon points="381.6,263.2 385.2,263.8 383.0,262.9 379.5,262.2" fill="rgb(237,56,66)"/><polygon points="375.9,261.9 379.5,262.2 377.3,262.7 373.7,262.3" fill="rgb(237,56,65)"/><polygon points="370.2,262.0 373.7,262.3 371.5,263.7 368.0,263.4" fill="rgb(238,66,75)"/><polygon points="364.5,262.8 368.0,263.4 365.9,265.4 362.4,264.7" fill="rgb(240,82,90)"/><polygon points="358.9,263.2 362.4,264.7 360.3,267.0 356.8,265.3" fill="rgb(241,96,104)"/><polygon points="353.3,262.4 356.8,265.3 354.7,267.7 351.3,265.1" fill="rgb(241,104,111)"/><polygon points="347.8,261.9 351.3,265.1 349.3,268.0 345.8,265.5" fill="rgb(242,110,117)"/><polygon points="342.3,263.9 345.8,265.5 343.8,268.9 340.4,268.2" fill="rgb(244,130,136)"/><polygon points="337.0,270.4 340.4,268.2 338.5,271.4 335.2,274.1" fill="rgb(248,173,177)"/><polygon points="332.0,280.3 335.2,274.1 333.3,275.4 330.1,280.3" fill="rgb(253,236,237)"/><polygon points="326.9,284.4 330.1,280.3 328.2,277.9 325.0,280.5" fill="rgb(251,252,251)"/><polygon points="321.6,280.9 325.0,280.5 323.0,276.8 319.7,277.7" fill="rgb(252,253,252)"/><polygon points="316.4,278.3 319.7,277.7 317.8,275.2 314.5,276.2" fill="rgb(254,254,254)"/><polygon points="311.2,277.2 314.5,276.2 312.6,274.1 309.4,275.1" fill="rgb(254,254,254)"/><polygon points="306.1,276.1 309.4,275.1 307.5,273.0 304.3,274.0" fill="rgb(254,254,254)"/><polygon points="301.0,275.0 304.3,274.0 302.4,271.9 299.2,272.9" fill="rgb(254,254,254)"/><polygon points="422.3,294.9 425.9,293.7 423.8,291.3 420.3,292.1" fill="rgb(254,251,251)"/><polygon points="416.7,292.8 420.3,292.1 418.2,289.2 414.7,289.5" fill="rgb(253,238,239)"/><polygon points="411.2,289.7 414.7,289.5 412.6,286.0 409.2,285.7" fill="rgb(251,216,218)"/><polygon points="405.7,285.4 409.2,285.7 407.2,281.7 403.7,280.9" fill="rgb(249,186,189)"/><polygon points="400.3,280.3 403.7,280.9 401.8,276.6 398.3,275.6" fill="rgb(245,150,155)"/><polygon points="394.8,274.9 398.3,275.6 396.3,271.4 392.8,270.4" fill="rgb(242,112,119)"/><polygon points="389.3,269.8 392.8,270.4 390.8,266.9 387.3,266.1" fill="rgb(239,79,87)"/><polygon points="383.7,265.8 387.3,266.1 385.2,263.8 381.6,263.2" fill="rgb(237,55,65)"/><polygon points="378.1,263.1 381.6,263.2 379.5,262.2 375.9,261.9" fill="rgb(236,44,54)"/><polygon points="372.4,261.9 375.9,261.9 373.7,262.3 370.2,262.0" fill="rgb(236,45,55)"/><polygon points="366.7,261.8 370.2,262.0 368.0,263.4 364.5,262.8" fill="rgb(237,55,64)"/><polygon points="361.0,261.8 364.5,262.8 362.4,264.7 358.9,263.2" fill="rgb(238,65,74)"/><polygon points="355.4,260.5 358.9,263.2 356.8,265.3 353.3,262.4" fill="rgb(239,70,78)"/><polygon points="349.8,258.8 353.3,262.4 351.3,265.1 347.8,261.9" fill="rgb(239,70,79)"/><polygon points="344.2,259.6 347.8,261.9 345.8,265.5 342.3,263.9" fill="rgb(240,82,90)"/><polygon points="338.8,265.3 342.3,263.9 340.4,268.2 337.0,270.4" fill="rgb(243,124,130)"/><polygon points="333.7,276.4 337.0,270.4 335.2,274.1 332.0,280.3" fill="rgb(250,200,203)"/><polygon points="328.8,285.6 332.0,280.3 330.1,280.3 326.9,284.4" fill="rgb(251,252,251)"/><polygon points="323.6,284.3 326.9,284.4 325.0,280.5 321.6,280.9" fill="rgb(250,251,249)"/><polygon points="318.3,280.7 321.6,280.9 319.7,277.7 316.4,278.3" fill="rgb(253,254,253)"/><polygon points="313.1,279.2 316.4,278.3 314.5,276.2 311.2,277.2" fill="rgb(254,254,254)"/><polygon points="307.9,278.2 311.2,277.2 309.4,275.1 306.1,276.1" fill="rgb(254,254,254)"/><polygon points="302.8,277.1 306.1,276.1 304.3,274.0 301.0,275.0" fill="rgb(254,254,254)"/><polygon points="418.7,296.2 422.3,294.9 420.3,292.1 416.7,292.8" fill="rgb(254,249,249)"/><polygon points="413.1,293.6 416.7,292.8 414.7,289.5 411.2,289.7" fill="rgb(253,232,233)"/><polygon points="407.6,289.9 411.2,289.7 409.2,285.7 405.7,285.4" fill="rgb(250,206,208)"/><polygon points="402.2,285.3 405.7,285.4 403.7,280.9 400.3,280.3" fill="rgb(247,172,176)"/><polygon points="396.8,280.0 400.3,280.3 398.3,275.6 394.8,274.9" fill="rgb(244,135,140)"/><polygon points="391.3,274.6 394.8,274.9 392.8,270.4 389.3,269.8" fill="rgb(241,97,105)"/><polygon points="385.8,269.7 389.3,269.8 387.3,266.1 383.7,265.8" fill="rgb(238,66,75)"/><polygon points="380.2,265.8 383.7,265.8 381.6,263.2 378.1,263.1" fill="rgb(236,44,54)"/><polygon points="374.5,263.3 378.1,263.1 375.9,261.9 372.4,261.9" fill="rgb(235,34,45)"/><polygon points="368.8,262.1 372.4,261.9 370.2,262.0 366.7,261.8" fill="rgb(236,35,46)"/><polygon points="363.1,261.5 366.7,261.8 364.5,262.8 361.0,261.8" fill="rgb(236,41,51)"/><polygon points="357.5,259.9 361.0,261.8 358.9,263.2 355.4,260.5" fill="rgb(236,42,52)"/><polygon points="351.9,257.3 355.4,260.5 353.3,262.4 349.8,258.8" fill="rgb(236,36,46)"/><polygon points="346.2,256.3 349.8,258.8 347.8,261.9 344.2,259.6" fill="rgb(236,38,48)"/><polygon points="340.7,260.4 344.2,259.6 342.3,263.9 338.8,265.3" fill="rgb(239,70,79)"/><polygon points="335.5,270.4 338.8,265.3 337.0,270.4 333.7,276.4" fill="rgb(245,145,150)"/><polygon points="330.5,282.4 333.7,276.4 332.0,280.3 328.8,285.6" fill="rgb(253,241,241)"/><polygon points="325.4,285.9 328.8,285.6 326.9,284.4 323.6,284.3" fill="rgb(249,251,248)"/><polygon points="320.1,283.0 323.6,284.3 321.6,280.9 318.3,280.7" fill="rgb(252,253,252)"/><polygon points="314.9,281.3 318.3,280.7 316.4,278.3 313.1,279.2" fill="rgb(254,254,254)"/><polygon points="309.8,280.3 313.1,279.2 311.2,277.2 307.9,278.2" fill="rgb(254,254,254)"/><polygon points="304.7,279.2 307.9,278.2 306.1,276.1 302.8,277.1" fill="rgb(254,254,254)"/><polygon points="415.1,297.5 418.7,296.2 416.7,292.8 413.1,293.6" fill="rgb(254,247,247)"/><polygon points="409.6,294.4 413.1,293.6 411.2,289.7 407.6,289.9" fill="rgb(252,226,227)"/><polygon points="404.1,290.3 407.6,289.9 405.7,285.4 402.2,285.3" fill="rgb(249,196,199)"/><polygon points="398.7,285.4 402.2,285.3 400.3,280.3 396.8,280.0" fill="rgb(246,161,165)"/><polygon points="393.2,280.1 396.8,280.0 394.8,274.9 391.3,274.6" fill="rgb(243,122,129)"/><polygon points="387.7,274.8 391.3,274.6 389.3,269.8 385.8,269.7" fill="rgb(240,86,94)"/><polygon points="382.2,270.0 385.8,269.7 383.7,265.8 380.2,265.8" fill="rgb(237,56,65)"/><polygon points="376.6,266.3 380.2,265.8 378.1,263.1 374.5,263.3" fill="rgb(236,36,46)"/><polygon points="370.9,264.0 374.5,263.3 372.4,261.9 368.8,262.1" fill="rgb(235,27,38)"/><polygon points="365.2,262.6 368.8,262.1 366.7,261.8 363.1,261.5" fill="rgb(235,27,37)"/><polygon points="359.6,260.7 363.1,261.5 361.0,261.8 357.5,259.9" fill="rgb(235,24,35)"/><polygon points="353.9,257.7 357.5,259.9 355.4,260.5 351.9,257.3" fill="rgb(234,14,25)"/><polygon points="348.3,255.3 351.9,257.3 349.8,258.8 346.2,256.3" fill="rgb(233,5,17)"/><polygon points="342.7,257.2 346.2,256.3 344.2,259.6 340.7,260.4" fill="rgb(235,23,34)"/><polygon points="337.3,265.3 340.7,260.4 338.8,265.3 335.5,270.4" fill="rgb(240,86,94)"/><polygon points="332.2,277.0 335.5,270.4 333.7,276.4 330.5,282.4" fill="rgb(249,185,189)"/><polygon points="327.2,284.6 330.5,282.4 328.8,285.6 325.4,285.9" fill="rgb(253,254,253)"/><polygon points="322.0,284.6 325.4,285.9 323.6,284.3 320.1,283.0" fill="rgb(252,253,251)"/><polygon points="316.8,283.2 320.1,283.0 318.3,280.7 314.9,281.3" fill="rgb(254,254,254)"/><polygon points="311.6,282.3 314.9,281.3 313.1,279.2 309.8,280.3" fill="rgb(254,254,254)"/><polygon points="306.5,281.3 309.8,280.3 307.9,278.2 304.7,279.2" fill="rgb(254,254,254)"/><polygon points="411.5,298.8 415.1,297.5 413.1,293.6 409.6,294.4" fill="rgb(254,245,245)"/><polygon points="406.0,295.2 409.6,294.4 407.6,289.9 404.1,290.3" fill="rgb(251,220,221)"/><polygon points="400.6,290.8 404.1,290.3 402.2,285.3 398.7,285.4" fill="rgb(249,188,191)"/><polygon points="395.1,285.8 398.7,285.4 396.8,280.0 393.2,280.1" fill="rgb(246,151,156)"/><polygon points="389.7,280.4 393.2,280.1 391.3,274.6 387.7,274.8" fill="rgb(242,113,120)"/><polygon points="384.2,275.2 387.7,274.8 385.8,269.7 382.2,270.0" fill="rgb(239,78,86)"/><polygon points="378.6,270.7 382.2,270.0 380.2,265.8 376.6,266.3" fill="rgb(237,50,59)"/><polygon points="373.0,267.3 376.6,266.3 374.5,263.3 370.9,264.0" fill="rgb(235,32,42)"/><polygon points="367.3,265.1 370.9,264.0 368.8,262.1 365.2,262.6" fill="rgb(235,23,34)"/><polygon points="361.6,263.0 365.2,262.6 363.1,261.5 359.6,260.7" fill="rgb(234,17,28)"/><polygon points="356.0,260.0 359.6,260.7 357.5,259.9 353.9,257.7" fill="rgb(233,4,16)"/><polygon points="350.3,256.8 353.9,257.7 351.9,257.3 348.3,255.3" fill="rgb(233,0,12)"/><polygon points="344.7,256.7 348.3,255.3 346.2,256.3 342.7,257.2" fill="rgb(233,0,12)"/><polygon points="339.2,262.5 342.7,257.2 340.7,260.4 337.3,265.3" fill="rgb(236,38,48)"/><polygon points="334.0,272.6 337.3,265.3 335.5,270.4 332.2,277.0" fill="rgb(243,126,132)"/><polygon points="328.9,281.8 332.2,277.0 330.5,282.4 327.2,284.6" fill="rgb(251,217,219)"/><polygon points="323.8,285.1 327.2,284.6 325.4,285.9 322.0,284.6" fill="rgb(254,254,254)"/><polygon points="318.6,285.0 322.0,284.6 320.1,283.0 316.8,283.2" fill="rgb(254,254,254)"/><polygon points="313.5,284.3 316.8,283.2 314.9,281.3 311.6,282.3" fill="rgb(254,253,253)"/><polygon points="308.3,283.4 311.6,282.3 309.8,280.3 306.5,281.3" fill="rgb(254,254,254)"/><polygon points="407.9,300.1 411.5,298.8 409.6,294.4 406.0,295.2" fill="rgb(254,243,243)"/><polygon points="402.4,296.1 406.0,295.2 404.1,290.3 400.6,290.8" fill="rgb(251,215,216)"/><polygon points="397.0,291.4 400.6,290.8 398.7,285.4 395.1,285.8" fill="rgb(248,181,184)"/><polygon points="391.5,286.3 395.1,285.8 393.2,280.1 389.7,280.4" fill="rgb(245,144,149)"/><polygon points="386.1,281.1 389.7,280.4 387.7,274.8 384.2,275.2" fill="rgb(242,107,114)"/><polygon points="380.6,276.1 384.2,275.2 382.2,270.0 378.6,270.7" fill="rgb(239,73,82)"/><polygon points="375.0,271.9 378.6,270.7 376.6,266.3 373.0,267.3" fill="rgb(237,47,57)"/><polygon points="369.3,268.8 373.0,267.3 370.9,264.0 367.3,265.1" fill="rgb(235,31,41)"/><polygon points="363.7,266.5 367.3,265.1 365.2,262.6 361.6,263.0" fill="rgb(234,21,32)"/><polygon points="358.0,263.8 361.6,263.0 359.6,260.7 356.0,260.0" fill="rgb(233,8,19)"/><polygon points="352.4,260.4 356.0,260.0 353.9,257.7 350.3,256.8" fill="rgb(233,0,12)"/><polygon points="346.7,258.9 350.3,256.8 348.3,255.3 344.7,256.7" fill="rgb(233,0,12)"/><polygon points="341.2,262.4 344.7,256.7 342.7,257.2 339.2,262.5" fill="rgb(233,9,21)"/><polygon points="335.8,270.6 339.2,262.5 337.3,265.3 334.0,272.6" fill="rgb(240,81,89)"/><polygon points="330.7,279.6 334.0,272.6 332.2,277.0 328.9,281.8" fill="rgb(247,170,174)"/><polygon points="325.6,285.1 328.9,281.8 327.2,284.6 323.8,285.1" fill="rgb(252,230,232)"/><polygon points="320.4,286.5 323.8,285.1 322.0,284.6 318.6,285.0" fill="rgb(254,249,249)"/><polygon points="315.3,286.3 318.6,285.0 316.8,283.2 313.5,284.3" fill="rgb(254,252,252)"/><polygon points="310.1,285.5 313.5,284.3 311.6,282.3 308.3,283.4" fill="rgb(254,254,254)"/><polygon points="404.3,301.4 407.9,300.1 406.0,295.2 402.4,296.1" fill="rgb(253,241,242)"/><polygon points="398.9,297.0 402.4,296.1 400.6,290.8 397.0,291.4" fill="rgb(251,210,212)"/><polygon points="393.4,292.2 397.0,291.4 395.1,285.8 391.5,286.3" fill="rgb(248,175,179)"/><polygon points="388.0,287.1 391.5,286.3 389.7,280.4 386.1,281.1" fill="rgb(245,139,144)"/><polygon points="382.5,282.0 386.1,281.1 384.2,275.2 380.6,276.1" fill="rgb(241,103,110)"/><polygon points="376.9,277.4 380.6,276.1 378.6,270.7 375.0,271.9" fill="rgb(239,72,80)"/><polygon points="371.3,273.6 375.0,271.9 373.0,267.3 369.3,268.8" fill="rgb(237,49,58)"/><polygon points="365.7,270.9 369.3,268.8 367.3,265.1 363.7,266.5" fill="rgb(235,34,44)"/><polygon points="360.1,268.4 363.7,266.5 361.6,263.0 358.0,263.8" fill="rgb(234,20,31)"/><polygon points="354.4,265.5 358.0,263.8 356.0,260.0 352.4,260.4" fill="rgb(233,3,15)"/><polygon points="348.8,263.4 352.4,260.4 350.3,256.8 346.7,258.9" fill="rgb(233,0,12)"/><polygon points="343.2,264.9 346.7,258.9 344.7,256.7 341.2,262.4" fill="rgb(233,2,14)"/><polygon points="337.8,271.0 341.2,262.4 339.2,262.5 335.8,270.6" fill="rgb(237,56,65)"/><polygon points="332.5,279.1 335.8,270.6 334.0,272.6 330.7,279.6" fill="rgb(244,135,140)"/><polygon points="327.4,285.2 330.7,279.6 328.9,281.8 325.6,285.1" fill="rgb(250,203,206)"/><polygon points="322.3,287.9 325.6,285.1 323.8,285.1 320.4,286.5" fill="rgb(253,238,239)"/><polygon points="317.1,288.2 320.4,286.5 318.6,285.0 315.3,286.3" fill="rgb(254,250,250)"/><polygon points="312.0,287.6 315.3,286.3 313.5,284.3 310.1,285.5" fill="rgb(254,254,254)"/><polygon points="400.7,302.7 404.3,301.4 402.4,296.1 398.9,297.0" fill="rgb(253,240,240)"/><polygon points="395.3,298.0 398.9,297.0 397.0,291.4 393.4,292.2" fill="rgb(250,207,209)"/><polygon points="389.8,293.1 393.4,292.2 391.5,286.3 388.0,287.1" fill="rgb(247,171,175)"/><polygon points="384.4,288.1 388.0,287.1 386.1,281.1 382.5,282.0" fill="rgb(244,135,141)"/><polygon points="378.9,283.3 382.5,282.0 380.6,276.1 376.9,277.4" fill="rgb(241,102,109)"/><polygon points="373.3,279.1 376.9,277.4 375.0,271.9 371.3,273.6" fill="rgb(239,74,82)"/><polygon points="367.7,275.9 371.3,273.6 369.3,268.8 365.7,270.9" fill="rgb(237,54,64)"/><polygon points="362.1,273.5 365.7,270.9 363.7,266.5 360.1,268.4" fill="rgb(236,40,50)"/><polygon points="356.4,271.1 360.1,268.4 358.0,263.8 354.4,265.5" fill="rgb(235,25,36)"/><polygon points="350.8,269.1 354.4,265.5 352.4,260.4 348.8,263.4" fill="rgb(233,11,23)"/><polygon points="345.2,269.3 348.8,263.4 346.7,258.9 343.2,264.9" fill="rgb(234,14,25)"/><polygon points="339.7,273.3 343.2,264.9 341.2,262.4 337.8,271.0" fill="rgb(237,50,60)"/><polygon points="334.4,279.9 337.8,271.0 335.8,270.6 332.5,279.1" fill="rgb(243,116,122)"/><polygon points="329.3,285.9 332.5,279.1 330.7,279.6 327.4,285.2" fill="rgb(248,183,186)"/><polygon points="324.1,289.2 327.4,285.2 325.6,285.1 322.3,287.9" fill="rgb(252,227,228)"/><polygon points="319.0,290.1 322.3,287.9 320.4,286.5 317.1,288.2" fill="rgb(254,246,247)"/><polygon points="313.8,289.7 317.1,288.2 315.3,286.3 312.0,287.6" fill="rgb(254,253,253)"/><polygon points="397.1,304.0 400.7,302.7 398.9,297.0 395.3,298.0" fill="rgb(253,238,239)"/><polygon points="391.7,299.1 395.3,298.0 393.4,292.2 389.8,293.1" fill="rgb(250,204,207)"/><polygon points="386.2,294.2 389.8,293.1 388.0,287.1 384.4,288.1" fill="rgb(247,169,173)"/><polygon points="380.7,289.3 384.4,288.1 382.5,282.0 378.9,283.3" fill="rgb(244,134,140)"/><polygon points="375.2,285.0 378.9,283.3 376.9,277.4 373.3,279.1" fill="rgb(242,104,111)"/><polygon points="369.7,281.4 373.3,279.1 371.3,273.6 367.7,275.9" fill="rgb(239,80,89)"/><polygon points="364.0,278.8 367.7,275.9 365.7,270.9 362.1,273.5" fill="rgb(238,64,73)"/><polygon points="358.4,276.7 362.1,273.5 360.1,268.4 356.4,271.1" fill="rgb(237,52,61)"/><polygon points="352.8,275.1 356.4,271.1 354.4,265.5 350.8,269.1" fill="rgb(236,40,50)"/><polygon points="347.3,274.7 350.8,269.1 348.8,263.4 345.2,269.3" fill="rgb(236,38,48)"/><polygon points="341.7,277.1 345.2,269.3 343.2,264.9 339.7,273.3" fill="rgb(238,61,70)"/><polygon points="336.4,282.0 339.7,273.3 337.8,271.0 334.4,279.9" fill="rgb(242,111,118)"/><polygon points="331.1,287.2 334.4,279.9 332.5,279.1 329.3,285.9" fill="rgb(247,171,175)"/><polygon points="326.0,290.6 329.3,285.9 327.4,285.2 324.1,289.2" fill="rgb(251,217,219)"/><polygon points="320.8,291.9 324.1,289.2 322.3,287.9 319.0,290.1" fill="rgb(253,242,243)"/><polygon points="315.6,291.8 319.0,290.1 317.1,288.2 313.8,289.7" fill="rgb(254,252,252)"/><polygon points="393.5,305.3 397.1,304.0 395.3,298.0 391.7,299.1" fill="rgb(253,237,238)"/><polygon points="388.1,300.2 391.7,299.1 389.8,293.1 386.2,294.2" fill="rgb(250,202,205)"/><polygon points="382.6,295.4 386.2,294.2 384.4,288.1 380.7,289.3" fill="rgb(247,168,172)"/><polygon points="377.1,290.9 380.7,289.3 378.9,283.3 375.2,285.0" fill="rgb(244,136,142)"/><polygon points="371.6,287.0 375.2,285.0 373.3,279.1 369.7,281.4" fill="rgb(242,110,117)"/><polygon points="366.0,284.2 369.7,281.4 367.7,275.9 364.0,278.8" fill="rgb(240,91,99)"/><polygon points="360.4,282.1 364.0,278.8 362.1,273.5 358.4,276.7" fill="rgb(239,79,87)"/><polygon points="354.8,280.8 358.4,276.7 356.4,271.1 352.8,275.1" fill="rgb(239,70,79)"/><polygon points="349.3,280.3 352.8,275.1 350.8,269.1 347.3,274.7" fill="rgb(238,67,76)"/><polygon points="343.7,281.6 347.3,274.7 345.2,269.3 341.7,277.1" fill="rgb(240,81,89)"/><polygon points="338.3,284.9 341.7,277.1 339.7,273.3 336.4,282.0" fill="rgb(243,117,124)"/><polygon points="333.0,289.1 336.4,282.0 334.4,279.9 331.1,287.2" fill="rgb(247,166,171)"/><polygon points="327.8,292.2 331.1,287.2 329.3,285.9 326.0,290.6" fill="rgb(251,211,213)"/><polygon points="322.6,293.7 326.0,290.6 324.1,289.2 320.8,291.9" fill="rgb(253,238,239)"/><polygon points="317.4,293.9 320.8,291.9 319.0,290.1 315.6,291.8" fill="rgb(254,251,251)"/><polygon points="389.9,306.6 393.5,305.3 391.7,299.1 388.1,300.2" fill="rgb(253,237,238)"/><polygon points="384.5,301.5 388.1,300.2 386.2,294.2 382.6,295.4" fill="rgb(250,201,204)"/><polygon points="379.0,296.8 382.6,295.4 380.7,289.3 377.1,290.9" fill="rgb(247,169,173)"/><polygon points="373.5,292.7 377.1,290.9 375.2,285.0 371.6,287.0" fill="rgb(245,140,146)"/><polygon points="367.9,289.5 371.6,287.0 369.7,281.4 366.0,284.2" fill="rgb(243,119,125)"/><polygon points="362.4,287.3 366.0,284.2 364.0,278.8 360.4,282.1" fill="rgb(242,105,112)"/><polygon points="356.8,285.9 360.4,282.1 358.4,276.7 354.8,280.8" fill="rgb(241,98,105)"/><polygon points="351.2,285.4 354.8,280.8 352.8,275.1 349.3,280.3" fill="rgb(241,96,104)"/><polygon points="345.7,286.1 349.3,280.3 347.3,274.7 343.7,281.6" fill="rgb(242,105,112)"/><polygon points="340.3,288.3 343.7,281.6 341.7,277.1 338.3,284.9" fill="rgb(244,130,136)"/><polygon points="334.9,291.3 338.3,284.9 336.4,282.0 333.0,289.1" fill="rgb(247,168,172)"/><polygon points="329.7,294.0 333.0,289.1 331.1,287.2 327.8,292.2" fill="rgb(250,207,209)"/><polygon points="324.5,295.6 327.8,292.2 326.0,290.6 322.6,293.7" fill="rgb(253,235,236)"/><polygon points="319.3,296.0 322.6,293.7 320.8,291.9 317.4,293.9" fill="rgb(254,250,250)"/><polygon points="386.3,307.9 389.9,306.6 388.1,300.2 384.5,301.5" fill="rgb(253,236,237)"/><polygon points="380.9,302.8 384.5,301.5 382.6,295.4 379.0,296.8" fill="rgb(250,202,204)"/><polygon points="375.4,298.4 379.0,296.8 377.1,290.9 373.5,292.7" fill="rgb(247,171,175)"/><polygon points="369.9,294.8 373.5,292.7 371.6,287.0 367.9,289.5" fill="rgb(245,148,153)"/><polygon points="364.3,292.3 367.9,289.5 366.0,284.2 362.4,287.3" fill="rgb(244,131,137)"/><polygon points="358.7,290.7 362.4,287.3 360.4,282.1 356.8,285.9" fill="rgb(243,123,129)"/><polygon points="353.2,290.0 356.8,285.9 354.8,280.8 351.2,285.4" fill="rgb(243,121,128)"/><polygon points="347.7,290.3 351.2,285.4 349.3,280.3 345.7,286.1" fill="rgb(244,128,134)"/><polygon points="342.2,291.6 345.7,286.1 343.7,281.6 340.3,288.3" fill="rgb(245,146,151)"/><polygon points="336.8,293.8 340.3,288.3 338.3,284.9 334.9,291.3" fill="rgb(248,174,178)"/><polygon points="331.5,295.9 334.9,291.3 333.0,289.1 329.7,294.0" fill="rgb(250,206,208)"/><polygon points="326.3,297.4 329.7,294.0 327.8,292.2 324.5,295.6" fill="rgb(253,232,233)"/><polygon points="321.1,298.1 324.5,295.6 322.6,293.7 319.3,296.0" fill="rgb(254,249,249)"/><polygon points="382.7,309.2 386.3,307.9 384.5,301.5 380.9,302.8" fill="rgb(253,236,237)"/><polygon points="377.2,304.2 380.9,302.8 379.0,296.8 375.4,298.4" fill="rgb(250,203,205)"/><polygon points="371.8,300.2 375.4,298.4 373.5,292.7 369.9,294.8" fill="rgb(248,176,180)"/><polygon points="366.2,297.1 369.9,294.8 367.9,289.5 364.3,292.3" fill="rgb(246,157,162)"/><polygon points="360.7,295.2 364.3,292.3 362.4,287.3 358.7,290.7" fill="rgb(245,146,151)"/><polygon points="355.1,294.2 358.7,290.7 356.8,285.9 353.2,290.0" fill="rgb(245,143,148)"/><polygon points="349.6,294.1 353.2,290.0 351.2,285.4 347.7,290.3" fill="rgb(245,147,152)"/><polygon points="344.1,294.9 347.7,290.3 345.7,286.1 342.2,291.6" fill="rgb(246,160,165)"/><polygon points="338.7,296.3 342.2,291.6 340.3,288.3 336.8,293.8" fill="rgb(248,181,185)"/><polygon points="333.4,298.0 336.8,293.8 334.9,291.3 331.5,295.9" fill="rgb(250,207,209)"/><polygon points="328.1,299.3 331.5,295.9 329.7,294.0 326.3,297.4" fill="rgb(252,231,232)"/><polygon points="322.9,300.2 326.3,297.4 324.5,295.6 321.1,298.1" fill="rgb(254,248,248)"/><polygon points="379.1,310.5 382.7,309.2 380.9,302.8 377.2,304.2" fill="rgb(253,237,238)"/><polygon points="373.6,305.7 377.2,304.2 375.4,298.4 371.8,300.2" fill="rgb(250,205,208)"/><polygon points="368.1,302.1 371.8,300.2 369.9,294.8 366.2,297.1" fill="rgb(248,182,186)"/><polygon points="362.6,299.6 366.2,297.1 364.3,292.3 360.7,295.2" fill="rgb(247,168,172)"/><polygon points="357.1,298.2 360.7,295.2 358.7,290.7 355.1,294.2" fill="rgb(247,162,166)"/><polygon points="351.5,297.6 355.1,294.2 353.2,290.0 349.6,294.1" fill="rgb(247,164,168)"/><polygon points="346.1,297.9 349.6,294.1 347.7,290.3 344.1,294.9" fill="rgb(247,173,177)"/><polygon points="340.6,298.8 344.1,294.9 342.2,291.6 338.7,296.3" fill="rgb(249,189,192)"/><polygon points="335.3,300.0 338.7,296.3 336.8,293.8 333.4,298.0" fill="rgb(251,209,211)"/><polygon points="330.0,301.3 333.4,298.0 331.5,295.9 328.1,299.3" fill="rgb(252,230,231)"/><polygon points="324.7,302.3 328.1,299.3 326.3,297.4 322.9,300.2" fill="rgb(254,247,248)"/><polygon points="375.5,311.7 379.1,310.5 377.2,304.2 373.6,305.7" fill="rgb(253,237,238)"/><polygon points="370.0,307.3 373.6,305.7 371.8,300.2 368.1,302.1" fill="rgb(251,209,211)"/><polygon points="364.5,304.1 368.1,302.1 366.2,297.1 362.6,299.6" fill="rgb(249,190,193)"/><polygon points="359.0,302.1 362.6,299.6 360.7,295.2 357.1,298.2" fill="rgb(248,180,183)"/><polygon points="353.5,301.1 357.1,298.2 355.1,294.2 351.5,297.6" fill="rgb(248,178,182)"/><polygon points="348.0,300.9 351.5,297.6 349.6,294.1 346.1,297.9" fill="rgb(248,183,187)"/><polygon points="342.5,301.3 346.1,297.9 344.1,294.9 340.6,298.8" fill="rgb(249,195,198)"/><polygon points="337.1,302.1 340.6,298.8 338.7,296.3 335.3,300.0" fill="rgb(251,211,213)"/><polygon points="331.8,303.2 335.3,300.0 333.4,298.0 330.0,301.3" fill="rgb(252,229,230)"/><polygon points="326.6,304.4 330.0,301.3 328.1,299.3 324.7,302.3" fill="rgb(254,247,247)"/><polygon points="371.8,313.0 375.5,311.7 373.6,305.7 370.0,307.3" fill="rgb(253,238,239)"/><polygon points="366.4,308.9 370.0,307.3 368.1,302.1 364.5,304.1" fill="rgb(251,213,215)"/><polygon points="360.9,306.2 364.5,304.1 362.6,299.6 359.0,302.1" fill="rgb(250,198,201)"/><polygon points="355.4,304.6 359.0,302.1 357.1,298.2 353.5,301.1" fill="rgb(249,192,195)"/><polygon points="349.9,303.8 353.5,301.1 351.5,297.6 348.0,300.9" fill="rgb(249,193,196)"/><polygon points="344.4,303.8 348.0,300.9 346.1,297.9 342.5,301.3" fill="rgb(250,201,203)"/><polygon points="339.0,304.3 342.5,301.3 340.6,298.8 337.1,302.1" fill="rgb(251,213,215)"/><polygon points="333.7,305.2 337.1,302.1 335.3,300.0 331.8,303.2" fill="rgb(252,229,230)"/><polygon points="328.4,306.6 331.8,303.2 330.0,301.3 326.6,304.4" fill="rgb(254,246,246)"/><polygon points="368.2,314.3 371.8,313.0 370.0,307.3 366.4,308.9" fill="rgb(253,240,241)"/><polygon points="362.8,310.6 366.4,308.9 364.5,304.1 360.9,306.2" fill="rgb(251,218,219)"/><polygon points="357.3,308.2 360.9,306.2 359.0,302.1 355.4,304.6" fill="rgb(250,206,208)"/><polygon points="351.8,306.9 355.4,304.6 353.5,301.1 349.9,303.8" fill="rgb(250,203,205)"/><polygon points="346.3,306.4 349.9,303.8 348.0,300.9 344.4,303.8" fill="rgb(250,207,209)"/><polygon points="340.9,306.6 344.4,303.8 342.5,301.3 339.0,304.3" fill="rgb(251,215,217)"/><polygon points="335.5,307.3 339.0,304.3 337.1,302.1 333.7,305.2" fill="rgb(252,229,230)"/><polygon points="330.2,308.7 333.7,305.2 331.8,303.2 328.4,306.6" fill="rgb(254,246,246)"/><polygon points="364.6,315.6 368.2,314.3 366.4,308.9 362.8,310.6" fill="rgb(253,241,242)"/><polygon points="359.2,312.3 362.8,310.6 360.9,306.2 357.3,308.2" fill="rgb(252,223,224)"/><polygon points="353.7,310.3 357.3,308.2 355.4,304.6 351.8,306.9" fill="rgb(251,214,216)"/><polygon points="348.2,309.2 351.8,306.9 349.9,303.8 346.3,306.4" fill="rgb(251,213,215)"/><polygon points="342.8,309.0 346.3,306.4 344.4,303.8 340.9,306.6" fill="rgb(251,219,220)"/><polygon points="337.4,309.4 340.9,306.6 339.0,304.3 335.5,307.3" fill="rgb(252,229,231)"/><polygon points="332.0,310.8 335.5,307.3 333.7,305.2 330.2,308.7" fill="rgb(254,245,246)"/><polygon points="361.0,316.9 364.6,315.6 362.8,310.6 359.2,312.3" fill="rgb(254,243,244)"/><polygon points="355.6,314.0 359.2,312.3 357.3,308.2 353.7,310.3" fill="rgb(252,227,229)"/><polygon points="350.1,312.3 353.7,310.3 351.8,306.9 348.2,309.2" fill="rgb(252,222,223)"/><polygon points="344.6,311.6 348.2,309.2 346.3,306.4 342.8,309.0" fill="rgb(252,223,225)"/><polygon points="339.2,311.7 342.8,309.0 340.9,306.6 337.4,309.4" fill="rgb(252,231,232)"/><polygon points="333.9,312.9 337.4,309.4 335.5,307.3 332.0,310.8" fill="rgb(254,245,246)"/><polygon points="357.4,318.2 361.0,316.9 359.2,312.3 355.6,314.0" fill="rgb(254,245,245)"/><polygon points="352.0,315.6 355.6,314.0 353.7,310.3 350.1,312.3" fill="rgb(253,232,233)"/><polygon points="346.5,314.3 350.1,312.3 348.2,309.2 344.6,311.6" fill="rgb(252,229,230)"/><polygon points="341.1,314.0 344.6,311.6 342.8,309.0 339.2,311.7" fill="rgb(253,233,234)"/><polygon points="335.7,315.0 339.2,311.7 337.4,309.4 333.9,312.9" fill="rgb(254,246,246)"/><polygon points="353.8,319.5 357.4,318.2 355.6,314.0 352.0,315.6" fill="rgb(254,246,247)"/><polygon points="348.4,317.4 352.0,315.6 350.1,312.3 346.5,314.3" fill="rgb(253,237,238)"/><polygon points="342.9,316.5 346.5,314.3 344.6,311.6 341.1,314.0" fill="rgb(253,237,238)"/><polygon points="337.5,317.1 341.1,314.0 339.2,311.7 335.7,315.0" fill="rgb(254,247,247)"/><polygon points="350.2,320.8 353.8,319.5 352.0,315.6 348.4,317.4" fill="rgb(254,248,248)"/><polygon points="344.8,319.2 348.4,317.4 346.5,314.3 342.9,316.5" fill="rgb(253,243,243)"/><polygon points="339.3,319.2 342.9,316.5 341.1,314.0 337.5,317.1" fill="rgb(254,248,248)"/><polygon points="346.6,322.1 350.2,320.8 348.4,317.4 344.8,319.2" fill="rgb(254,250,250)"/><polygon points="341.2,321.3 344.8,319.2 342.9,316.5 339.3,319.2" fill="rgb(254,250,250)"/><polygon points="343.0,323.4 346.6,322.1 344.8,319.2 341.2,321.3" fill="rgb(254,253,253)"/></g>
<line x1="295.60" y1="232.70" x2="302.50" y2="310.00" stroke="#555" stroke-width="0.7"/>
<line x1="302.50" y1="310.00" x2="343.00" y2="362.50" stroke="#555" stroke-width="0.7"/>
<line x1="343.00" y1="362.50" x2="425.70" y2="331.00" stroke="#555" stroke-width="0.7"/>
<line x1="433.70" y1="250.50" x2="425.70" y2="331.00" stroke="#555" stroke-width="0.7"/>
<line x1="343.00" y1="323.38" x2="343.00" y2="362.50" stroke="#555" stroke-width="0.7"/>
<line x1="293.13" y1="238.63" x2="296.13" y2="238.63" stroke="#555" stroke-width="0.7"/>
<text x="289.63" y="241.03" font-size="7" text-anchor="end" fill="#333" stroke="#333" stroke-width="0.1">60</text>
<line x1="294.17" y1="250.31" x2="297.17" y2="250.31" stroke="#555" stroke-width="0.7"/>
<text x="290.67" y="252.71" font-size="7" text-anchor="end" fill="#333" stroke="#333" stroke-width="0.1">40</text>
<line x1="295.19" y1="261.73" x2="298.19" y2="261.73" stroke="#555" stroke-width="0.7"/>
<text x="291.69" y="264.13" font-size="7" text-anchor="end" fill="#333" stroke="#333" stroke-width="0.1">20</text>
<line x1="296.19" y1="272.90" x2="299.19" y2="272.90" stroke="#555" stroke-width="0.7"/>
<text x="292.69" y="275.30" font-size="7" text-anchor="end" fill="#333" stroke="#333" stroke-width="0.1">0</text>
<line x1="297.16" y1="283.81" x2="300.16" y2="283.81" stroke="#555" stroke-width="0.7"/>
<text x="293.66" y="286.21" font-size="7" text-anchor="end" fill="#333" stroke="#333" stroke-width="0.1">−20</text>
<line x1="298.11" y1="294.48" x2="301.11" y2="294.48" stroke="#555" stroke-width="0.7"/>
<text x="294.61" y="296.88" font-size="7" text-anchor="end" fill="#333" stroke="#333" stroke-width="0.1">−40</text>
<line x1="299.04" y1="304.89" x2="302.04" y2="304.89" stroke="#555" stroke-width="0.7"/>
<text x="295.54" y="307.29" font-size="7" text-anchor="end" fill="#333" stroke="#333" stroke-width="0.1">−60</text>
<text x="278.50" y="273.50" font-size="7.2" text-anchor="middle" fill="#333" stroke="#333" stroke-width="0.1" transform="rotate(-90 278.50 273.50)">δ · score</text>
<line x1="309.79" y1="319.45" x2="307.19" y2="321.45" stroke="#555" stroke-width="0.7"/>
<text x="296.50" y="321.60" font-size="6.8" text-anchor="middle" fill="#333" stroke="#333" stroke-width="0.1">2</text>
<line x1="317.77" y1="329.79" x2="315.17" y2="331.79" stroke="#555" stroke-width="0.7"/>
<text x="303.60" y="332.00" font-size="6.8" text-anchor="middle" fill="#333" stroke="#333" stroke-width="0.1">1</text>
<line x1="325.75" y1="340.13" x2="323.15" y2="342.13" stroke="#555" stroke-width="0.7"/>
<text x="310.80" y="341.50" font-size="6.8" text-anchor="middle" fill="#333" stroke="#333" stroke-width="0.1">0.5</text>
<line x1="333.73" y1="350.48" x2="331.13" y2="352.48" stroke="#555" stroke-width="0.7"/>
<text x="316.10" y="352.70" font-size="6.8" text-anchor="middle" fill="#333" stroke="#333" stroke-width="0.1">0.25</text>
<line x1="341.70" y1="360.82" x2="339.10" y2="362.82" stroke="#555" stroke-width="0.7"/>
<text x="329.20" y="365.80" font-size="6.8" text-anchor="middle" fill="#333" stroke="#333" stroke-width="0.1">0.12</text>
<text x="296.50" y="353.00" font-size="7.5" text-anchor="middle" fill="#333" stroke="#333" stroke-width="0.1" transform="rotate(50 296.50 353.00)">Actinomycin D (nM)</text>
<line x1="357.89" y1="356.83" x2="358.49" y2="359.43" stroke="#555" stroke-width="0.7"/>
<text x="358.70" y="371.10" font-size="6.8" text-anchor="middle" fill="#333" stroke="#333" stroke-width="0.1">390.62</text>
<line x1="374.18" y1="350.62" x2="374.78" y2="353.22" stroke="#555" stroke-width="0.7"/>
<text x="375.80" y="363.70" font-size="6.8" text-anchor="middle" fill="#333" stroke="#333" stroke-width="0.1">781.25</text>
<line x1="390.47" y1="344.42" x2="391.07" y2="347.02" stroke="#555" stroke-width="0.7"/>
<text x="394.20" y="356.90" font-size="6.8" text-anchor="middle" fill="#333" stroke="#333" stroke-width="0.1">1562.5</text>
<line x1="406.76" y1="338.21" x2="407.36" y2="340.81" stroke="#555" stroke-width="0.7"/>
<text x="412.20" y="349.60" font-size="6.8" text-anchor="middle" fill="#333" stroke="#333" stroke-width="0.1">3125</text>
<line x1="423.05" y1="332.01" x2="423.65" y2="334.61" stroke="#555" stroke-width="0.7"/>
<text x="424.30" y="343.80" font-size="6.8" text-anchor="middle" fill="#333" stroke="#333" stroke-width="0.1">6250</text>
<text x="408.50" y="372.00" font-size="7.8" text-anchor="middle" fill="#333" stroke="#333" stroke-width="0.1" transform="rotate(-24 408.50 372.00)">Venetoclax (nM)</text>
<text x="53.80" y="312.70" font-size="8.6" text-anchor="start" fill="#231f20" stroke="#231f20" stroke-width="0.1" textLength="53.2" lengthAdjust="spacingAndGlyphs">Pretreatment</text>
<text x="84.30" y="323.80" font-size="6.8" text-anchor="middle" fill="#333" stroke="#333" stroke-width="0.1">DMSO</text>
<text x="23.00" y="345.40" font-size="6.8" text-anchor="middle" fill="#333" stroke="#333" stroke-width="0.1">OCI-AML3</text>
<text x="84.60" y="367.50" font-size="7.2" text-anchor="middle" fill="#333" stroke="#333" stroke-width="0.1">0.5 nM ActD</text>
<g opacity="1" filter="url(#blur08)"><circle cx="29.90" cy="364.39" r="4.49" fill="#f2f2f2" stroke="#e4e4e4" stroke-width="0.6"/><circle cx="29.29" cy="364.20" r="2.02" fill="#c4c4c4" opacity="0.5"/><circle cx="26.78" cy="368.14" r="4.96" fill="#ededed" stroke="#e4e4e4" stroke-width="0.6"/><circle cx="26.48" cy="367.58" r="2.23" fill="#c4c4c4" opacity="0.5"/><circle cx="21.91" cy="368.60" r="4.90" fill="#f4f4f4" stroke="#e4e4e4" stroke-width="0.6"/><circle cx="22.10" cy="367.99" r="2.21" fill="#c4c4c4" opacity="0.5"/><circle cx="18.16" cy="365.48" r="4.57" fill="#efefef" stroke="#e4e4e4" stroke-width="0.6"/><circle cx="18.72" cy="365.18" r="2.06" fill="#c4c4c4" opacity="0.5"/><circle cx="17.70" cy="360.61" r="4.73" fill="#f2f2f2" stroke="#e4e4e4" stroke-width="0.6"/><circle cx="18.31" cy="360.80" r="2.13" fill="#c4c4c4" opacity="0.5"/><circle cx="20.82" cy="356.86" r="4.70" fill="#ededed" stroke="#e4e4e4" stroke-width="0.6"/><circle cx="21.12" cy="357.42" r="2.11" fill="#c4c4c4" opacity="0.5"/><circle cx="25.69" cy="356.40" r="4.83" fill="#f4f4f4" stroke="#e4e4e4" stroke-width="0.6"/><circle cx="25.50" cy="357.01" r="2.17" fill="#c4c4c4" opacity="0.5"/><circle cx="29.44" cy="359.52" r="4.92" fill="#efefef" stroke="#e4e4e4" stroke-width="0.6"/><circle cx="28.88" cy="359.82" r="2.21" fill="#c4c4c4" opacity="0.5"/><circle cx="23.80" cy="362.50" r="4.46" fill="#f2f2f2" stroke="#e4e4e4" stroke-width="0.6"/><circle cx="23.80" cy="362.50" r="2.01" fill="#c4c4c4" opacity="0.5"/></g>
<g opacity="1" filter="url(#blur05)"><circle cx="91.64" cy="342.42" r="5.40" fill="#5a5a5a" stroke="#8a8a8a" stroke-width="0.6"/><circle cx="90.98" cy="342.22" r="2.43" fill="#3a3a3a" opacity="0.5"/><circle cx="88.29" cy="346.45" r="5.39" fill="#6e6e6e" stroke="#8a8a8a" stroke-width="0.6"/><circle cx="87.97" cy="345.85" r="2.43" fill="#3a3a3a" opacity="0.5"/><circle cx="83.08" cy="346.94" r="4.76" fill="#4c4c4c" stroke="#8a8a8a" stroke-width="0.6"/><circle cx="83.28" cy="346.28" r="2.14" fill="#3a3a3a" opacity="0.5"/><circle cx="79.05" cy="343.59" r="4.78" fill="#808080" stroke="#8a8a8a" stroke-width="0.6"/><circle cx="79.65" cy="343.27" r="2.15" fill="#3a3a3a" opacity="0.5"/><circle cx="78.56" cy="338.38" r="5.31" fill="#585858" stroke="#8a8a8a" stroke-width="0.6"/><circle cx="79.22" cy="338.58" r="2.39" fill="#3a3a3a" opacity="0.5"/><circle cx="81.91" cy="334.35" r="5.24" fill="#9a9a9a" stroke="#8a8a8a" stroke-width="0.6"/><circle cx="82.23" cy="334.95" r="2.36" fill="#3a3a3a" opacity="0.5"/><circle cx="87.12" cy="333.86" r="5.19" fill="#5a5a5a" stroke="#8a8a8a" stroke-width="0.6"/><circle cx="86.92" cy="334.52" r="2.34" fill="#3a3a3a" opacity="0.5"/><circle cx="91.15" cy="337.21" r="4.94" fill="#6e6e6e" stroke="#8a8a8a" stroke-width="0.6"/><circle cx="90.55" cy="337.53" r="2.22" fill="#3a3a3a" opacity="0.5"/><circle cx="85.10" cy="340.40" r="5.15" fill="#4c4c4c" stroke="#8a8a8a" stroke-width="0.6"/><circle cx="85.10" cy="340.40" r="2.32" fill="#3a3a3a" opacity="0.5"/></g>
<g opacity="1" filter="url(#blur05)"><circle cx="91.33" cy="385.79" r="4.81" fill="#5cc040" stroke="#90d878" stroke-width="0.6"/><circle cx="90.68" cy="385.59" r="2.16" fill="#3a9a28" opacity="0.5"/><circle cx="88.04" cy="389.75" r="5.02" fill="#4ab032" stroke="#90d878" stroke-width="0.6"/><circle cx="87.73" cy="389.16" r="2.26" fill="#3a9a28" opacity="0.5"/><circle cx="82.91" cy="390.23" r="4.90" fill="#70d058" stroke="#90d878" stroke-width="0.6"/><circle cx="83.11" cy="389.58" r="2.20" fill="#3a9a28" opacity="0.5"/><circle cx="78.95" cy="386.94" r="5.06" fill="#44aa30" stroke="#90d878" stroke-width="0.6"/><circle cx="79.54" cy="386.63" r="2.28" fill="#3a9a28" opacity="0.5"/><circle cx="78.47" cy="381.81" r="5.08" fill="#88d870" stroke="#90d878" stroke-width="0.6"/><circle cx="79.12" cy="382.01" r="2.28" fill="#3a9a28" opacity="0.5"/><circle cx="81.76" cy="377.85" r="4.69" fill="#5cc040" stroke="#90d878" stroke-width="0.6"/><circle cx="82.07" cy="378.44" r="2.11" fill="#3a9a28" opacity="0.5"/><circle cx="86.89" cy="377.37" r="4.65" fill="#4ab032" stroke="#90d878" stroke-width="0.6"/><circle cx="86.69" cy="378.02" r="2.09" fill="#3a9a28" opacity="0.5"/><circle cx="90.85" cy="380.66" r="5.22" fill="#70d058" stroke="#90d878" stroke-width="0.6"/><circle cx="90.26" cy="380.97" r="2.35" fill="#3a9a28" opacity="0.5"/><circle cx="84.90" cy="383.80" r="4.82" fill="#44aa30" stroke="#90d878" stroke-width="0.6"/><circle cx="84.90" cy="383.80" r="2.17" fill="#3a9a28" opacity="0.5"/></g>
<line x1="41.30" y1="356.00" x2="56.10" y2="356.00" stroke="#111" stroke-width="1.2"/>
<polygon points="60.60,356.00 55.60,353.20 55.60,358.80" fill="#111" stroke="none" stroke-width="0"/>
<text x="112.40" y="348.20" font-size="6.9" text-anchor="middle" fill="#333" stroke="#333" stroke-width="0.1">24 H</text>
<line x1="104.40" y1="356.00" x2="119.30" y2="356.00" stroke="#111" stroke-width="1.2"/>
<polygon points="123.80,356.00 118.80,353.20 118.80,358.80" fill="#111" stroke="none" stroke-width="0"/>
<text x="153.80" y="322.80" font-size="6.7" text-anchor="middle" fill="#333" stroke="#333" stroke-width="0.1" textLength="65" lengthAdjust="spacingAndGlyphs">Remove ActD/DMSO</text>
<text x="153.80" y="330.70" font-size="6.7" text-anchor="middle" fill="#333" stroke="#333" stroke-width="0.1" textLength="45" lengthAdjust="spacingAndGlyphs">and assess Ven</text>
<text x="153.50" y="338.70" font-size="6.7" text-anchor="middle" fill="#333" stroke="#333" stroke-width="0.1" textLength="27.5" lengthAdjust="spacingAndGlyphs">response</text>
<text x="152.50" y="352.10" font-size="6.6" text-anchor="start" fill="#a898d0" stroke="#a898d0" stroke-width="0.1" textLength="33" lengthAdjust="spacingAndGlyphs">Venetoclax</text>
<path d="M137,346.5 C138.5,346 139.5,347.5 138.5,348.5 C137.8,349.5 139.5,350 140.5,349 M140.5,349 L142,350 L143.5,348.8 L145,350 L146.5,348.5 M138.5,350.5 C137,352 138.5,353.5 139.5,352.8 C140.5,352 139,354.5 138,355.5" fill="none" stroke="#d078a8" stroke-width="0.7"/>
<rect x="145.20" y="357.30" width="20.60" height="13.80" fill="url(#plateg)" stroke="#e4dcec" stroke-width="0.4"/>
<line x1="146.50" y1="358.30" x2="146.50" y2="370.20" stroke="#ffffff" stroke-width="0.3" opacity="0.6"/>
<line x1="149.00" y1="358.30" x2="149.00" y2="370.20" stroke="#ffffff" stroke-width="0.3" opacity="0.6"/>
<line x1="151.50" y1="358.30" x2="151.50" y2="370.20" stroke="#ffffff" stroke-width="0.3" opacity="0.6"/>
<line x1="154.00" y1="358.30" x2="154.00" y2="370.20" stroke="#ffffff" stroke-width="0.3" opacity="0.6"/>
<line x1="156.50" y1="358.30" x2="156.50" y2="370.20" stroke="#ffffff" stroke-width="0.3" opacity="0.6"/>
<line x1="159.00" y1="358.30" x2="159.00" y2="370.20" stroke="#ffffff" stroke-width="0.3" opacity="0.6"/>
<line x1="161.50" y1="358.30" x2="161.50" y2="370.20" stroke="#ffffff" stroke-width="0.3" opacity="0.6"/>
<line x1="164.00" y1="358.30" x2="164.00" y2="370.20" stroke="#ffffff" stroke-width="0.3" opacity="0.6"/>
<line x1="145.50" y1="359.00" x2="165.50" y2="359.00" stroke="#ffffff" stroke-width="0.3" opacity="0.6"/>
<line x1="145.50" y1="361.60" x2="165.50" y2="361.60" stroke="#ffffff" stroke-width="0.3" opacity="0.6"/>
<line x1="145.50" y1="364.20" x2="165.50" y2="364.20" stroke="#ffffff" stroke-width="0.3" opacity="0.6"/>
<line x1="145.50" y1="366.80" x2="165.50" y2="366.80" stroke="#ffffff" stroke-width="0.3" opacity="0.6"/>
<line x1="145.50" y1="369.40" x2="165.50" y2="369.40" stroke="#ffffff" stroke-width="0.3" opacity="0.6"/>
<polygon points="154.80,367.50 178.50,365.40 180.80,378.00 157.00,380.40" fill="#f4f4f4" stroke=" #dadada" stroke-width="0.5"/>
<line x1="156.50" y1="372.00" x2="179.00" y2="370.00" stroke="#e2e2e2" stroke-width="0.5"/>
<line x1="157.00" y1="376.00" x2="179.80" y2="374.00" stroke="#e6e6e6" stroke-width="0.5"/>
<line x1="46.20" y1="428.50" x2="46.20" y2="519.90" stroke="#3a3a3a" stroke-width="1.5"/>
<line x1="45.50" y1="519.20" x2="100.00" y2="519.20" stroke="#3a3a3a" stroke-width="1.4"/>
<line x1="43.60" y1="519.20" x2="46.20" y2="519.20" stroke="#3a3a3a" stroke-width="1"/>
<text x="41.50" y="521.60" font-size="6.8" text-anchor="end" fill="#333" stroke="#333" stroke-width="0.1" textLength="9.8" lengthAdjust="spacingAndGlyphs">0.0</text>
<line x1="43.60" y1="490.20" x2="46.20" y2="490.20" stroke="#3a3a3a" stroke-width="1"/>
<text x="41.50" y="492.60" font-size="6.8" text-anchor="end" fill="#333" stroke="#333" stroke-width="0.1" textLength="9.8" lengthAdjust="spacingAndGlyphs">0.5</text>
<line x1="43.60" y1="461.20" x2="46.20" y2="461.20" stroke="#3a3a3a" stroke-width="1"/>
<text x="41.50" y="463.60" font-size="6.8" text-anchor="end" fill="#333" stroke="#333" stroke-width="0.1" textLength="9.8" lengthAdjust="spacingAndGlyphs">1.0</text>
<line x1="43.60" y1="432.20" x2="46.20" y2="432.20" stroke="#3a3a3a" stroke-width="1"/>
<text x="41.50" y="434.60" font-size="6.8" text-anchor="end" fill="#333" stroke="#333" stroke-width="0.1" textLength="9.8" lengthAdjust="spacingAndGlyphs">1.5</text>
<rect x="55.80" y="462.36" width="15.70" height="56.84" fill="#4c5271"/>
<rect x="80.80" y="511.08" width="15.40" height="8.12" fill="#3aaa35"/>
<line x1="63.60" y1="519.20" x2="63.60" y2="521.70" stroke="#3a3a3a" stroke-width="1"/>
<line x1="88.50" y1="519.20" x2="88.50" y2="521.70" stroke="#3a3a3a" stroke-width="1"/>
<line x1="63.60" y1="446.70" x2="63.60" y2="476.28" stroke="#231f20" stroke-width="0.9"/>
<line x1="60.60" y1="446.70" x2="66.60" y2="446.70" stroke="#231f20" stroke-width="0.9"/>
<line x1="60.60" y1="476.28" x2="66.60" y2="476.28" stroke="#231f20" stroke-width="0.9"/>
<circle cx="63.60" cy="444.96" r="1.20" fill="#231f20"/>
<circle cx="63.60" cy="468.16" r="1.20" fill="#231f20"/>
<circle cx="63.60" cy="472.80" r="1.20" fill="#231f20"/>
<circle cx="85.50" cy="510.79" r="1.20" fill="#231f20"/>
<circle cx="88.50" cy="510.50" r="1.20" fill="#231f20"/>
<circle cx="91.50" cy="510.21" r="1.20" fill="#231f20"/>
<line x1="63.50" y1="434.40" x2="88.80" y2="434.40" stroke="#333" stroke-width="0.8"/>
<text x="76.00" y="433.30" font-size="7" text-anchor="middle" fill="#333" stroke="#333" stroke-width="0.1">**</text>
<text x="13.30" y="476.80" font-size="8.6" text-anchor="middle" fill="#333" stroke="#333" stroke-width="0.1" textLength="35.6" lengthAdjust="spacingAndGlyphs" transform="rotate(-90 13.30 476.80)">IC<tspan font-size="5" dy="1.6">50</tspan><tspan dy="-1.6"> value</tspan></text>
<text x="24.40" y="474.40" font-size="8.6" text-anchor="middle" fill="#333" stroke="#333" stroke-width="0.1" textLength="42.3" lengthAdjust="spacingAndGlyphs" transform="rotate(-90 24.40 474.40)">(normalized)</text>
<rect x="109.00" y="429.00" width="8.70" height="6.90" fill="#4c5271"/>
<text x="121.10" y="434.70" font-size="6.5" text-anchor="start" fill="#333" stroke="#333" stroke-width="0.1">DMSO</text>
<rect x="109.00" y="441.60" width="8.70" height="6.90" fill="#3aaa35"/>
<text x="121.10" y="447.70" font-size="6.5" text-anchor="start" fill="#333" stroke="#333" stroke-width="0.1" textLength="38.4" lengthAdjust="spacingAndGlyphs">ActD 0.5 nM</text>
<text x="181.80" y="458.10" font-size="6.3" text-anchor="start" fill="#d0304a" stroke="#d0304a" stroke-width="0.1">NPM1c<tspan font-size="4" dy="-2.5">+</tspan></text>
<text x="181.80" y="466.20" font-size="6.3" text-anchor="start" fill="#d0304a" stroke="#d0304a" stroke-width="0.1">AML</text>
<g>
<path d="M216,486 C226,489 229,496 221,498.5 C213,501 203,499 197,497" fill="none" stroke="#e29a9a" stroke-width="0.9"/>
<path d="M179,484 C181,478 188,473.5 196,472 C206,470 216,474 218,482 C219.5,489 212,493.5 202,493.5 C194,493.5 184,490 179,484 Z" fill="#f2f2f2" stroke="#b0b0b0" stroke-width="0.6"/>
<path d="M186,488 C195,492 206,492 214,489" fill="none" stroke="#d8d8d8" stroke-width="1.2"/>
<ellipse cx="191" cy="474.5" rx="2.8" ry="2.6" fill="#f2d4d4" stroke="#b8a8a8" stroke-width="0.5"/>
<circle cx="184.3" cy="481" r="0.6" fill="#444"/>
<circle cx="179.3" cy="484" r="0.7" fill="#e8a0a0"/>
<path d="M189,492.5 L187,495 M208,493 L207,496" stroke="#e0a0a0" stroke-width="1"/>
</g>
<g>
<path d="M215,465 L225.5,491" stroke="#e8c8a0" stroke-width="3" stroke-linecap="round"/>
<path d="M215.5,466 L225,490" stroke="#c04a3a" stroke-width="1"/>
<circle cx="213.5" cy="463" r="2.5" fill="#f0dcb0" stroke="#dcc090" stroke-width="0.4"/>
<circle cx="217" cy="461.5" r="2.2" fill="#f0dcb0" stroke="#dcc090" stroke-width="0.4"/>
</g>
<text x="254.00" y="450.80" font-size="6.2" text-anchor="middle" fill="#333" stroke="#333" stroke-width="0.1" textLength="24.7" lengthAdjust="spacingAndGlyphs">Parental</text>
<g><circle cx="237.8" cy="477.5" r="6.4" fill="#a8cce6" fill-opacity="0.85" stroke="#ffffff" stroke-opacity="0.45" stroke-width="1.1"/><circle cx="242.1" cy="482.7" r="6.4" fill="#d4a890" fill-opacity="0.85" stroke="#ffffff" stroke-opacity="0.45" stroke-width="1.1"/><circle cx="249" cy="487" r="6.4" fill="#f2c4a8" fill-opacity="0.85" stroke="#ffffff" stroke-opacity="0.45" stroke-width="1.1"/><circle cx="258.5" cy="491.3" r="6.4" fill="#f8e0a0" fill-opacity="0.85" stroke="#ffffff" stroke-opacity="0.45" stroke-width="1.1"/><circle cx="260.3" cy="482.7" r="6.4" fill="#e4b4ec" fill-opacity="0.85" stroke="#ffffff" stroke-opacity="0.45" stroke-width="1.1"/><circle cx="262.9" cy="470.6" r="6.4" fill="#f4aabc" fill-opacity="0.85" stroke="#ffffff" stroke-opacity="0.45" stroke-width="1.1"/><circle cx="243" cy="471" r="6.4" fill="#bce2a4" fill-opacity="0.85" stroke="#ffffff" stroke-opacity="0.45" stroke-width="1.1"/><circle cx="252.9" cy="465.4" r="6.4" fill="#f0c050" fill-opacity="0.85" stroke="#ffffff" stroke-opacity="0.45" stroke-width="1.1"/><circle cx="251.6" cy="476.2" r="6.4" fill="#5aa2d4" fill-opacity="0.85" stroke="#ffffff" stroke-opacity="0.45" stroke-width="1.1"/></g>
<text x="290.00" y="468.10" font-size="6.2" text-anchor="start" fill="#333" stroke="#333" stroke-width="0.1">Ven IC<tspan font-size="4.2" dy="1.8">50</tspan></text>
<line x1="284.80" y1="477.10" x2="312.30" y2="477.10" stroke="#111" stroke-width="1.4"/>
<polygon points="318.80,477.10 311.80,473.90 311.80,480.30" fill="#111" stroke="none" stroke-width="0"/>
<text x="301.60" y="488.70" font-size="6.2" text-anchor="middle" fill="#333" stroke="#333" stroke-width="0.1" textLength="25.9" lengthAdjust="spacingAndGlyphs">adjusted</text>
<text x="358.70" y="450.80" font-size="6.2" text-anchor="middle" fill="#333" stroke="#333" stroke-width="0.1" textLength="45" lengthAdjust="spacingAndGlyphs">Ven - Resistant</text>
<g><circle cx="339.9" cy="476.6" r="6.2" fill="#f2b8bc" stroke="#f8d8d8" stroke-width="1.1"/><circle cx="345.1" cy="481.8" r="6.2" fill="#f2b8bc" stroke="#f8d8d8" stroke-width="1.1"/><circle cx="352" cy="485.3" r="6.2" fill="#f2b8bc" stroke="#f8d8d8" stroke-width="1.1"/><circle cx="363.3" cy="491.3" r="6.2" fill="#f2b8bc" stroke="#f8d8d8" stroke-width="1.1"/><circle cx="362.4" cy="482.2" r="6.2" fill="#f2b8bc" stroke="#f8d8d8" stroke-width="1.1"/><circle cx="365.9" cy="471" r="6.2" fill="#f2b8bc" stroke="#f8d8d8" stroke-width="1.1"/><circle cx="346.8" cy="469.7" r="6.2" fill="#f2b8bc" stroke="#f8d8d8" stroke-width="1.1"/><circle cx="356.4" cy="466.2" r="6.2" fill="#f2b8bc" stroke="#f8d8d8" stroke-width="1.1"/><circle cx="355" cy="475.3" r="6.2" fill="#f2b8bc" stroke="#f8d8d8" stroke-width="1.1"/></g>
<text x="412.00" y="465.60" font-size="6.2" text-anchor="middle" fill="#333" stroke="#333" stroke-width="0.1">ActD</text>
<text x="409.00" y="473.30" font-size="6.2" text-anchor="middle" fill="#333" stroke="#333" stroke-width="0.1" textLength="27" lengthAdjust="spacingAndGlyphs">low dose</text>
<line x1="390.50" y1="482.00" x2="418.50" y2="482.00" stroke="#111" stroke-width="1.4"/>
<polygon points="425.00,482.00 418.00,478.80 418.00,485.20" fill="#111" stroke="none" stroke-width="0"/>
<line x1="446.10" y1="450.50" x2="446.10" y2="495.40" stroke="#222" stroke-width="1.0"/>
<polygon points="446.10,447.30 444.30,452.00 447.90,452.00" fill="#222" stroke="none" stroke-width="0"/>
<line x1="445.60" y1="495.40" x2="506.30" y2="495.40" stroke="#222" stroke-width="1.0"/>
<line x1="443.70" y1="456.40" x2="446.10" y2="456.40" stroke="#222" stroke-width="0.8"/>
<line x1="443.70" y1="464.20" x2="446.10" y2="464.20" stroke="#222" stroke-width="0.8"/>
<line x1="443.70" y1="472.40" x2="446.10" y2="472.40" stroke="#222" stroke-width="0.8"/>
<line x1="443.70" y1="480.70" x2="446.10" y2="480.70" stroke="#222" stroke-width="0.8"/>
<line x1="443.70" y1="488.40" x2="446.10" y2="488.40" stroke="#222" stroke-width="0.8"/>
<line x1="455.80" y1="495.40" x2="455.80" y2="497.20" stroke="#222" stroke-width="0.7"/>
<line x1="465.10" y1="495.40" x2="465.10" y2="497.20" stroke="#222" stroke-width="0.7"/>
<line x1="474.80" y1="495.40" x2="474.80" y2="497.20" stroke="#222" stroke-width="0.7"/>
<line x1="484.70" y1="495.40" x2="484.70" y2="497.20" stroke="#222" stroke-width="0.7"/>
<line x1="494.20" y1="495.40" x2="494.20" y2="497.20" stroke="#222" stroke-width="0.7"/>
<line x1="503.70" y1="495.40" x2="503.70" y2="497.20" stroke="#222" stroke-width="0.7"/>
<polyline points="449.20,457.53 450.09,457.54 450.99,457.55 451.88,457.56 452.78,457.57 453.67,457.59 454.57,457.62 455.46,457.64 456.36,457.68 457.25,457.73 458.15,457.78 459.04,457.85 459.94,457.94 460.83,458.05 461.73,458.18 462.62,458.35 463.52,458.56 464.41,458.81 465.31,459.13 466.20,459.51 467.10,459.98 467.99,460.55 468.89,461.24 469.78,462.05 470.68,463.02 471.57,464.15 472.47,465.45 473.36,466.91 474.26,468.55 475.15,470.33 476.05,472.23 476.94,474.20 477.84,476.21 478.73,478.19 479.63,480.11 480.52,481.93 481.42,483.60 482.31,485.11 483.21,486.45 484.10,487.62 485.00,488.62 485.89,489.48 486.79,490.19 487.68,490.79 488.58,491.28 489.47,491.69 490.37,492.02 491.26,492.28 492.16,492.50 493.05,492.68 493.95,492.82 494.84,492.94 495.74,493.03 496.63,493.10 497.53,493.16 498.42,493.21 499.32,493.25 500.21,493.28 501.11,493.30 502.00,493.32" fill="none" stroke="#274866" stroke-width="1.4"/>
<text x="487.80" y="457.00" font-size="6.8" text-anchor="middle" fill="#333" stroke="#333" stroke-width="0.1" textLength="33" lengthAdjust="spacingAndGlyphs">Assess Ven</text>
<text x="487.80" y="465.00" font-size="6.8" text-anchor="middle" fill="#333" stroke="#333" stroke-width="0.1" textLength="27" lengthAdjust="spacingAndGlyphs">response</text>
<text x="437.30" y="473.00" font-size="5" text-anchor="middle" fill="#333" stroke="#333" stroke-width="0.1" textLength="53" lengthAdjust="spacingAndGlyphs" transform="rotate(-90 437.30 473.00)">Cell proliferation (RFU)</text>
<text x="446.10" y="502.30" font-size="4" text-anchor="middle" fill="#444" stroke="#444" stroke-width="0.1">0</text>
<text x="455.00" y="502.30" font-size="4" text-anchor="middle" fill="#444" stroke="#444" stroke-width="0.1">10</text>
<text x="457.00" y="500.20" font-size="2.6" text-anchor="start" fill="#444" stroke="#444" stroke-width="0.1">-1</text>
<text x="464.30" y="502.30" font-size="4" text-anchor="middle" fill="#444" stroke="#444" stroke-width="0.1">10</text>
<text x="466.30" y="500.20" font-size="2.6" text-anchor="start" fill="#444" stroke="#444" stroke-width="0.1">-10</text>
<text x="474.00" y="502.30" font-size="4" text-anchor="middle" fill="#444" stroke="#444" stroke-width="0.1">10</text>
<text x="476.00" y="500.20" font-size="2.6" text-anchor="start" fill="#444" stroke="#444" stroke-width="0.1">1</text>
<text x="483.90" y="502.30" font-size="4" text-anchor="middle" fill="#444" stroke="#444" stroke-width="0.1">10</text>
<text x="485.90" y="500.20" font-size="2.6" text-anchor="start" fill="#444" stroke="#444" stroke-width="0.1">2</text>
<text x="493.40" y="502.30" font-size="4" text-anchor="middle" fill="#444" stroke="#444" stroke-width="0.1">10</text>
<text x="495.40" y="500.20" font-size="2.6" text-anchor="start" fill="#444" stroke="#444" stroke-width="0.1">3</text>
<text x="502.90" y="502.30" font-size="4" text-anchor="middle" fill="#444" stroke="#444" stroke-width="0.1">10</text>
<text x="504.90" y="500.20" font-size="2.6" text-anchor="start" fill="#444" stroke="#444" stroke-width="0.1">4</text>
<line x1="37.90" y1="560.40" x2="37.90" y2="649.30" stroke="#3a3a3a" stroke-width="1.8"/>
<line x1="37.10" y1="648.50" x2="190.00" y2="648.50" stroke="#3a3a3a" stroke-width="1.6"/>
<line x1="35.00" y1="648.50" x2="37.90" y2="648.50" stroke="#3a3a3a" stroke-width="1"/>
<text x="31.80" y="650.80" font-size="6.6" text-anchor="end" fill="#333" stroke="#333" stroke-width="0.1" textLength="4.5" lengthAdjust="spacingAndGlyphs">0</text>
<line x1="35.00" y1="611.25" x2="37.90" y2="611.25" stroke="#3a3a3a" stroke-width="1"/>
<text x="31.80" y="613.55" font-size="6.6" text-anchor="end" fill="#333" stroke="#333" stroke-width="0.1" textLength="8" lengthAdjust="spacingAndGlyphs">50</text>
<line x1="35.00" y1="574.00" x2="37.90" y2="574.00" stroke="#3a3a3a" stroke-width="1"/>
<text x="31.80" y="576.30" font-size="6.6" text-anchor="end" fill="#333" stroke="#333" stroke-width="0.1" textLength="12" lengthAdjust="spacingAndGlyphs">100</text>
<line x1="59.30" y1="648.50" x2="59.30" y2="651.00" stroke="#3a3a3a" stroke-width="1"/>
<text x="57.80" y="663.50" font-size="6.4" text-anchor="middle" fill="#333" stroke="#333" stroke-width="0.1">10</text>
<text x="62.50" y="660.00" font-size="4.2" text-anchor="start" fill="#333" stroke="#333" stroke-width="0.1">−1</text>
<line x1="101.50" y1="648.50" x2="101.50" y2="651.00" stroke="#3a3a3a" stroke-width="1"/>
<text x="100.00" y="663.50" font-size="6.4" text-anchor="middle" fill="#333" stroke="#333" stroke-width="0.1">10</text>
<text x="104.70" y="660.00" font-size="4.2" text-anchor="start" fill="#333" stroke="#333" stroke-width="0.1">0</text>
<line x1="143.70" y1="648.50" x2="143.70" y2="651.00" stroke="#3a3a3a" stroke-width="1"/>
<text x="142.20" y="663.50" font-size="6.4" text-anchor="middle" fill="#333" stroke="#333" stroke-width="0.1">10</text>
<text x="146.90" y="660.00" font-size="4.2" text-anchor="start" fill="#333" stroke="#333" stroke-width="0.1">1</text>
<line x1="185.90" y1="648.50" x2="185.90" y2="651.00" stroke="#3a3a3a" stroke-width="1"/>
<text x="184.40" y="663.50" font-size="6.4" text-anchor="middle" fill="#333" stroke="#333" stroke-width="0.1">10</text>
<text x="189.10" y="660.00" font-size="4.2" text-anchor="start" fill="#333" stroke="#333" stroke-width="0.1">2</text>
<text x="114.60" y="674.80" font-size="8.2" text-anchor="middle" fill="#333" stroke="#333" stroke-width="0.1" textLength="54" lengthAdjust="spacingAndGlyphs">Venetoclax (µM)</text>
<text x="15.00" y="604.00" font-size="8.2" text-anchor="middle" fill="#333" stroke="#333" stroke-width="0.1" textLength="65" lengthAdjust="spacingAndGlyphs" transform="rotate(-90 15.00 604.00)">Relative proliferation</text>
<line x1="46.60" y1="583.07" x2="46.60" y2="592.01" stroke="#b8d0e8" stroke-width="1.0" opacity="0.55"/>
<circle cx="46.60" cy="587.54" r="0.90" fill="#b8d0e8" opacity="0.75"/>
<line x1="59.30" y1="589.49" x2="59.30" y2="598.43" stroke="#b8d0e8" stroke-width="1.0" opacity="0.55"/>
<circle cx="59.30" cy="593.96" r="0.90" fill="#b8d0e8" opacity="0.75"/>
<line x1="72.00" y1="597.55" x2="72.00" y2="606.49" stroke="#b8d0e8" stroke-width="1.0" opacity="0.55"/>
<circle cx="72.00" cy="602.02" r="0.90" fill="#b8d0e8" opacity="0.75"/>
<line x1="84.71" y1="606.65" x2="84.71" y2="615.59" stroke="#b8d0e8" stroke-width="1.0" opacity="0.55"/>
<circle cx="84.71" cy="611.12" r="0.90" fill="#b8d0e8" opacity="0.75"/>
<line x1="97.41" y1="615.76" x2="97.41" y2="624.70" stroke="#b8d0e8" stroke-width="1.0" opacity="0.55"/>
<circle cx="97.41" cy="620.23" r="0.90" fill="#b8d0e8" opacity="0.75"/>
<line x1="110.11" y1="623.86" x2="110.11" y2="632.80" stroke="#b8d0e8" stroke-width="1.0" opacity="0.55"/>
<circle cx="110.11" cy="628.33" r="0.90" fill="#b8d0e8" opacity="0.75"/>
<line x1="122.82" y1="630.33" x2="122.82" y2="639.27" stroke="#b8d0e8" stroke-width="1.0" opacity="0.55"/>
<circle cx="122.82" cy="634.80" r="0.90" fill="#b8d0e8" opacity="0.75"/>
<line x1="135.52" y1="635.06" x2="135.52" y2="644.00" stroke="#b8d0e8" stroke-width="1.0" opacity="0.55"/>
<circle cx="135.52" cy="639.53" r="0.90" fill="#b8d0e8" opacity="0.75"/>
<line x1="148.22" y1="638.32" x2="148.22" y2="647.26" stroke="#b8d0e8" stroke-width="1.0" opacity="0.55"/>
<circle cx="148.22" cy="642.79" r="0.90" fill="#b8d0e8" opacity="0.75"/>
<line x1="160.93" y1="640.45" x2="160.93" y2="648.50" stroke="#b8d0e8" stroke-width="1.0" opacity="0.55"/>
<circle cx="160.93" cy="644.92" r="0.90" fill="#b8d0e8" opacity="0.75"/>
<line x1="173.63" y1="641.82" x2="173.63" y2="648.50" stroke="#b8d0e8" stroke-width="1.0" opacity="0.55"/>
<circle cx="173.63" cy="646.29" r="0.90" fill="#b8d0e8" opacity="0.75"/>
<line x1="46.60" y1="571.77" x2="46.60" y2="576.98" stroke="#c87a2e" stroke-width="1.0" opacity="0.55"/>
<circle cx="46.60" cy="574.00" r="0.90" fill="#c87a2e" opacity="0.75"/>
<line x1="59.30" y1="571.77" x2="59.30" y2="576.98" stroke="#c87a2e" stroke-width="1.0" opacity="0.55"/>
<circle cx="59.30" cy="574.00" r="0.90" fill="#c87a2e" opacity="0.75"/>
<line x1="72.00" y1="571.78" x2="72.00" y2="576.99" stroke="#c87a2e" stroke-width="1.0" opacity="0.55"/>
<circle cx="72.00" cy="574.01" r="0.90" fill="#c87a2e" opacity="0.75"/>
<line x1="84.71" y1="571.86" x2="84.71" y2="577.08" stroke="#c87a2e" stroke-width="1.0" opacity="0.55"/>
<circle cx="84.71" cy="574.10" r="0.90" fill="#c87a2e" opacity="0.75"/>
<line x1="97.41" y1="571.76" x2="97.41" y2="579.43" stroke="#c87a2e" stroke-width="1.0" opacity="0.55"/>
<circle cx="97.41" cy="574.96" r="0.90" fill="#c87a2e" opacity="0.75"/>
<line x1="110.11" y1="578.75" x2="110.11" y2="586.95" stroke="#c87a2e" stroke-width="1.0" opacity="0.55"/>
<circle cx="110.11" cy="582.48" r="0.90" fill="#c87a2e" opacity="0.75"/>
<line x1="122.82" y1="611.88" x2="122.82" y2="620.08" stroke="#c87a2e" stroke-width="1.0" opacity="0.55"/>
<circle cx="122.82" cy="615.61" r="0.90" fill="#c87a2e" opacity="0.75"/>
<line x1="135.52" y1="639.24" x2="135.52" y2="647.43" stroke="#c87a2e" stroke-width="1.0" opacity="0.55"/>
<circle cx="135.52" cy="642.96" r="0.90" fill="#c87a2e" opacity="0.75"/>
<line x1="148.22" y1="644.17" x2="148.22" y2="648.50" stroke="#c87a2e" stroke-width="1.0" opacity="0.55"/>
<circle cx="148.22" cy="647.90" r="0.90" fill="#c87a2e" opacity="0.75"/>
<line x1="160.93" y1="644.71" x2="160.93" y2="648.50" stroke="#c87a2e" stroke-width="1.0" opacity="0.55"/>
<circle cx="160.93" cy="648.44" r="0.90" fill="#c87a2e" opacity="0.75"/>
<line x1="173.63" y1="644.77" x2="173.63" y2="648.50" stroke="#c87a2e" stroke-width="1.0" opacity="0.55"/>
<circle cx="173.63" cy="648.49" r="0.90" fill="#c87a2e" opacity="0.75"/>
<line x1="46.60" y1="571.76" x2="46.60" y2="577.73" stroke="#3ea0d8" stroke-width="1.0" opacity="0.55"/>
<circle cx="46.60" cy="574.00" r="0.90" fill="#3ea0d8" opacity="0.75"/>
<line x1="59.30" y1="571.76" x2="59.30" y2="577.73" stroke="#3ea0d8" stroke-width="1.0" opacity="0.55"/>
<circle cx="59.30" cy="574.01" r="0.90" fill="#3ea0d8" opacity="0.75"/>
<line x1="72.00" y1="571.76" x2="72.00" y2="577.77" stroke="#3ea0d8" stroke-width="1.0" opacity="0.55"/>
<circle cx="72.00" cy="574.04" r="0.90" fill="#3ea0d8" opacity="0.75"/>
<line x1="84.71" y1="571.76" x2="84.71" y2="578.06" stroke="#3ea0d8" stroke-width="1.0" opacity="0.55"/>
<circle cx="84.71" cy="574.33" r="0.90" fill="#3ea0d8" opacity="0.75"/>
<line x1="97.41" y1="573.62" x2="97.41" y2="580.32" stroke="#3ea0d8" stroke-width="1.0" opacity="0.55"/>
<circle cx="97.41" cy="576.60" r="0.90" fill="#3ea0d8" opacity="0.75"/>
<line x1="110.11" y1="587.72" x2="110.11" y2="594.43" stroke="#3ea0d8" stroke-width="1.0" opacity="0.55"/>
<circle cx="110.11" cy="590.70" r="0.90" fill="#3ea0d8" opacity="0.75"/>
<line x1="122.82" y1="623.03" x2="122.82" y2="629.73" stroke="#3ea0d8" stroke-width="1.0" opacity="0.55"/>
<circle cx="122.82" cy="626.01" r="0.90" fill="#3ea0d8" opacity="0.75"/>
<line x1="135.52" y1="641.70" x2="135.52" y2="648.40" stroke="#3ea0d8" stroke-width="1.0" opacity="0.55"/>
<circle cx="135.52" cy="644.68" r="0.90" fill="#3ea0d8" opacity="0.75"/>
<line x1="148.22" y1="645.02" x2="148.22" y2="648.50" stroke="#3ea0d8" stroke-width="1.0" opacity="0.55"/>
<circle cx="148.22" cy="648.00" r="0.90" fill="#3ea0d8" opacity="0.75"/>
<line x1="160.93" y1="645.46" x2="160.93" y2="648.50" stroke="#3ea0d8" stroke-width="1.0" opacity="0.55"/>
<circle cx="160.93" cy="648.44" r="0.90" fill="#3ea0d8" opacity="0.75"/>
<line x1="173.63" y1="645.51" x2="173.63" y2="648.50" stroke="#3ea0d8" stroke-width="1.0" opacity="0.55"/>
<circle cx="173.63" cy="648.49" r="0.90" fill="#3ea0d8" opacity="0.75"/>
<line x1="46.60" y1="571.76" x2="46.60" y2="578.49" stroke="#8878b8" stroke-width="1.0" opacity="0.55"/>
<circle cx="46.60" cy="574.02" r="0.90" fill="#8878b8" opacity="0.75"/>
<line x1="59.30" y1="571.76" x2="59.30" y2="578.55" stroke="#8878b8" stroke-width="1.0" opacity="0.55"/>
<circle cx="59.30" cy="574.08" r="0.90" fill="#8878b8" opacity="0.75"/>
<line x1="72.00" y1="571.76" x2="72.00" y2="578.86" stroke="#8878b8" stroke-width="1.0" opacity="0.55"/>
<circle cx="72.00" cy="574.39" r="0.90" fill="#8878b8" opacity="0.75"/>
<line x1="84.71" y1="572.15" x2="84.71" y2="580.35" stroke="#8878b8" stroke-width="1.0" opacity="0.55"/>
<circle cx="84.71" cy="575.88" r="0.90" fill="#8878b8" opacity="0.75"/>
<line x1="97.41" y1="578.69" x2="97.41" y2="586.88" stroke="#8878b8" stroke-width="1.0" opacity="0.55"/>
<circle cx="97.41" cy="582.41" r="0.90" fill="#8878b8" opacity="0.75"/>
<line x1="110.11" y1="598.99" x2="110.11" y2="607.18" stroke="#8878b8" stroke-width="1.0" opacity="0.55"/>
<circle cx="110.11" cy="602.71" r="0.90" fill="#8878b8" opacity="0.75"/>
<line x1="122.82" y1="626.55" x2="122.82" y2="634.75" stroke="#8878b8" stroke-width="1.0" opacity="0.55"/>
<circle cx="122.82" cy="630.28" r="0.90" fill="#8878b8" opacity="0.75"/>
<line x1="135.52" y1="640.18" x2="135.52" y2="648.37" stroke="#8878b8" stroke-width="1.0" opacity="0.55"/>
<circle cx="135.52" cy="643.90" r="0.90" fill="#8878b8" opacity="0.75"/>
<line x1="148.22" y1="643.79" x2="148.22" y2="648.50" stroke="#8878b8" stroke-width="1.0" opacity="0.55"/>
<circle cx="148.22" cy="647.52" r="0.90" fill="#8878b8" opacity="0.75"/>
<line x1="160.93" y1="644.57" x2="160.93" y2="648.50" stroke="#8878b8" stroke-width="1.0" opacity="0.55"/>
<circle cx="160.93" cy="648.30" r="0.90" fill="#8878b8" opacity="0.75"/>
<line x1="173.63" y1="644.73" x2="173.63" y2="648.50" stroke="#8878b8" stroke-width="1.0" opacity="0.55"/>
<circle cx="173.63" cy="648.46" r="0.90" fill="#8878b8" opacity="0.75"/>
<line x1="46.60" y1="571.84" x2="46.60" y2="588.97" stroke="#d81a6a" stroke-width="1.0" opacity="0.55"/>
<circle cx="46.60" cy="574.07" r="0.90" fill="#d81a6a" opacity="0.75"/>
<line x1="59.30" y1="572.07" x2="59.30" y2="589.21" stroke="#d81a6a" stroke-width="1.0" opacity="0.55"/>
<circle cx="59.30" cy="574.31" r="0.90" fill="#d81a6a" opacity="0.75"/>
<line x1="72.00" y1="573.07" x2="72.00" y2="590.21" stroke="#d81a6a" stroke-width="1.0" opacity="0.55"/>
<circle cx="72.00" cy="575.31" r="0.90" fill="#d81a6a" opacity="0.75"/>
<line x1="84.71" y1="577.06" x2="84.71" y2="594.20" stroke="#d81a6a" stroke-width="1.0" opacity="0.55"/>
<circle cx="84.71" cy="579.30" r="0.90" fill="#d81a6a" opacity="0.75"/>
<line x1="97.41" y1="587.19" x2="97.41" y2="597.62" stroke="#d81a6a" stroke-width="1.0" opacity="0.55"/>
<circle cx="97.41" cy="592.41" r="0.90" fill="#d81a6a" opacity="0.75"/>
<line x1="110.11" y1="612.33" x2="110.11" y2="622.76" stroke="#d81a6a" stroke-width="1.0" opacity="0.55"/>
<circle cx="110.11" cy="617.55" r="0.90" fill="#d81a6a" opacity="0.75"/>
<line x1="122.82" y1="632.69" x2="122.82" y2="643.12" stroke="#d81a6a" stroke-width="1.0" opacity="0.55"/>
<circle cx="122.82" cy="637.90" r="0.90" fill="#d81a6a" opacity="0.75"/>
<line x1="135.52" y1="640.51" x2="135.52" y2="648.50" stroke="#d81a6a" stroke-width="1.0" opacity="0.55"/>
<circle cx="135.52" cy="645.73" r="0.90" fill="#d81a6a" opacity="0.75"/>
<line x1="148.22" y1="642.62" x2="148.22" y2="648.50" stroke="#d81a6a" stroke-width="1.0" opacity="0.55"/>
<circle cx="148.22" cy="647.83" r="0.90" fill="#d81a6a" opacity="0.75"/>
<line x1="160.93" y1="643.13" x2="160.93" y2="648.50" stroke="#d81a6a" stroke-width="1.0" opacity="0.55"/>
<circle cx="160.93" cy="648.34" r="0.90" fill="#d81a6a" opacity="0.75"/>
<line x1="173.63" y1="643.25" x2="173.63" y2="648.50" stroke="#d81a6a" stroke-width="1.0" opacity="0.55"/>
<circle cx="173.63" cy="648.46" r="0.90" fill="#d81a6a" opacity="0.75"/>
<line x1="46.60" y1="586.85" x2="46.60" y2="601.01" stroke="#eec020" stroke-width="1.0" opacity="0.55"/>
<circle cx="46.60" cy="593.56" r="0.90" fill="#eec020" opacity="0.75"/>
<line x1="59.30" y1="593.99" x2="59.30" y2="608.15" stroke="#eec020" stroke-width="1.0" opacity="0.55"/>
<circle cx="59.30" cy="600.70" r="0.90" fill="#eec020" opacity="0.75"/>
<line x1="72.00" y1="602.09" x2="72.00" y2="616.25" stroke="#eec020" stroke-width="1.0" opacity="0.55"/>
<circle cx="72.00" cy="608.80" r="0.90" fill="#eec020" opacity="0.75"/>
<line x1="84.71" y1="610.43" x2="84.71" y2="624.58" stroke="#eec020" stroke-width="1.0" opacity="0.55"/>
<circle cx="84.71" cy="617.13" r="0.90" fill="#eec020" opacity="0.75"/>
<line x1="97.41" y1="618.20" x2="97.41" y2="632.36" stroke="#eec020" stroke-width="1.0" opacity="0.55"/>
<circle cx="97.41" cy="624.91" r="0.90" fill="#eec020" opacity="0.75"/>
<line x1="110.11" y1="624.81" x2="110.11" y2="638.97" stroke="#eec020" stroke-width="1.0" opacity="0.55"/>
<circle cx="110.11" cy="631.52" r="0.90" fill="#eec020" opacity="0.75"/>
<line x1="122.82" y1="630.00" x2="122.82" y2="644.15" stroke="#eec020" stroke-width="1.0" opacity="0.55"/>
<circle cx="122.82" cy="636.70" r="0.90" fill="#eec020" opacity="0.75"/>
<line x1="135.52" y1="633.82" x2="135.52" y2="647.97" stroke="#eec020" stroke-width="1.0" opacity="0.55"/>
<circle cx="135.52" cy="640.52" r="0.90" fill="#eec020" opacity="0.75"/>
<line x1="148.22" y1="636.51" x2="148.22" y2="648.50" stroke="#eec020" stroke-width="1.0" opacity="0.55"/>
<circle cx="148.22" cy="643.21" r="0.90" fill="#eec020" opacity="0.75"/>
<line x1="160.93" y1="638.33" x2="160.93" y2="648.50" stroke="#eec020" stroke-width="1.0" opacity="0.55"/>
<circle cx="160.93" cy="645.04" r="0.90" fill="#eec020" opacity="0.75"/>
<line x1="173.63" y1="639.55" x2="173.63" y2="648.50" stroke="#eec020" stroke-width="1.0" opacity="0.55"/>
<circle cx="173.63" cy="646.26" r="0.90" fill="#eec020" opacity="0.75"/>
<line x1="186.50" y1="627.00" x2="186.50" y2="641.00" stroke="#e0406a" stroke-width="1.0" opacity="0.55"/>
<circle cx="186.50" cy="634.00" r="0.90" fill="#e0406a" opacity="0.7"/>
<line x1="185.30" y1="631.00" x2="185.30" y2="645.00" stroke="#f0a040" stroke-width="1.0" opacity="0.5"/>
<line x1="143.30" y1="630.00" x2="143.30" y2="646.00" stroke="#d81a6a" stroke-width="1.0" opacity="0.55"/>
<line x1="111.00" y1="598.00" x2="111.00" y2="612.00" stroke="#eec020" stroke-width="1.0" opacity="0.5"/>
<polyline points="46.60,587.54 47.66,588.01 48.71,588.49 49.77,588.98 50.83,589.48 51.89,590.00 52.95,590.53 54.01,591.07 55.07,591.62 56.12,592.19 57.18,592.77 58.24,593.36 59.30,593.96 60.36,594.57 61.42,595.20 62.48,595.83 63.53,596.48 64.59,597.14 65.65,597.81 66.71,598.49 67.77,599.17 68.83,599.87 69.89,600.58 70.94,601.29 72.00,602.02 73.06,602.75 74.12,603.49 75.18,604.23 76.24,604.98 77.30,605.74 78.36,606.50 79.41,607.26 80.47,608.03 81.53,608.80 82.59,609.57 83.65,610.34 84.71,611.12 85.77,611.89 86.82,612.67 87.88,613.44 88.94,614.21 90.00,614.98 91.06,615.74 92.12,616.50 93.18,617.26 94.23,618.01 95.29,618.76 96.35,619.50 97.41,620.23 98.47,620.96 99.53,621.68 100.59,622.38 101.64,623.09 102.70,623.78 103.76,624.46 104.82,625.13 105.88,625.79 106.94,626.44 108.00,627.08 109.06,627.71 110.11,628.33 111.17,628.94 112.23,629.53 113.29,630.11 114.35,630.68 115.41,631.24 116.47,631.79 117.52,632.32 118.58,632.84 119.64,633.35 120.70,633.84 121.76,634.33 122.82,634.80 123.88,635.26 124.93,635.70 125.99,636.14 127.05,636.56 128.11,636.97 129.17,637.37 130.23,637.76 131.29,638.14 132.34,638.50 133.40,638.86 134.46,639.20 135.52,639.53 136.58,639.86 137.64,640.17 138.70,640.47 139.76,640.77 140.81,641.05 141.87,641.32 142.93,641.59 143.99,641.84 145.05,642.09 146.11,642.33 147.17,642.56 148.22,642.79 149.28,643.00 150.34,643.21 151.40,643.41 152.46,643.60 153.52,643.79 154.58,643.97 155.63,644.15 156.69,644.31 157.75,644.47 158.81,644.63 159.87,644.78 160.93,644.92 161.99,645.06 163.04,645.20 164.10,645.33 165.16,645.45 166.22,645.57 167.28,645.68 168.34,645.79 169.40,645.90 170.46,646.00 171.51,646.10 172.57,646.20 173.63,646.29" fill="none" stroke="#b8d0e8" stroke-width="1.1"/>
<polyline points="46.60,574.00 47.66,574.00 48.71,574.00 49.77,574.00 50.83,574.00 51.89,574.00 52.95,574.00 54.01,574.00 55.07,574.00 56.12,574.00 57.18,574.00 58.24,574.00 59.30,574.00 60.36,574.00 61.42,574.00 62.48,574.00 63.53,574.00 64.59,574.00 65.65,574.00 66.71,574.00 67.77,574.00 68.83,574.01 69.89,574.01 70.94,574.01 72.00,574.01 73.06,574.01 74.12,574.01 75.18,574.02 76.24,574.02 77.30,574.03 78.36,574.03 79.41,574.04 80.47,574.05 81.53,574.06 82.59,574.07 83.65,574.08 84.71,574.10 85.77,574.12 86.82,574.14 87.88,574.17 88.94,574.21 90.00,574.25 91.06,574.31 92.12,574.37 93.18,574.45 94.23,574.54 95.29,574.66 96.35,574.79 97.41,574.96 98.47,575.16 99.53,575.40 100.59,575.68 101.64,576.03 102.70,576.44 103.76,576.93 104.82,577.52 105.88,578.21 106.94,579.04 108.00,580.01 109.06,581.15 110.11,582.48 111.17,584.02 112.23,585.79 113.29,587.81 114.35,590.08 115.41,592.62 116.47,595.40 117.52,598.42 118.58,601.65 119.64,605.04 120.70,608.53 121.76,612.08 122.82,615.61 123.88,619.06 124.93,622.38 125.99,625.51 127.05,628.43 128.11,631.10 129.17,633.51 130.23,635.66 131.29,637.56 132.34,639.23 133.40,640.67 134.46,641.91 135.52,642.96 136.58,643.87 137.64,644.63 138.70,645.27 139.76,645.81 140.81,646.26 141.87,646.64 142.93,646.96 143.99,647.22 145.05,647.44 146.11,647.62 147.17,647.77 148.22,647.90 149.28,648.00 150.34,648.09 151.40,648.16 152.46,648.22 153.52,648.27 154.58,648.31 155.63,648.34 156.69,648.37 157.75,648.39 158.81,648.41 159.87,648.43 160.93,648.44 161.99,648.45 163.04,648.46 164.10,648.47 165.16,648.47 166.22,648.48 167.28,648.48 168.34,648.48 169.40,648.49 170.46,648.49 171.51,648.49 172.57,648.49 173.63,648.49" fill="none" stroke="#c87a2e" stroke-width="1.1"/>
<polyline points="46.60,574.00 47.66,574.00 48.71,574.00 49.77,574.00 50.83,574.00 51.89,574.00 52.95,574.00 54.01,574.00 55.07,574.00 56.12,574.00 57.18,574.00 58.24,574.00 59.30,574.01 60.36,574.01 61.42,574.01 62.48,574.01 63.53,574.01 64.59,574.01 65.65,574.01 66.71,574.02 67.77,574.02 68.83,574.02 69.89,574.03 70.94,574.04 72.00,574.04 73.06,574.05 74.12,574.06 75.18,574.07 76.24,574.08 77.30,574.10 78.36,574.12 79.41,574.14 80.47,574.17 81.53,574.20 82.59,574.24 83.65,574.28 84.71,574.33 85.77,574.40 86.82,574.47 87.88,574.56 88.94,574.67 90.00,574.79 91.06,574.94 92.12,575.11 93.18,575.32 94.23,575.57 95.29,575.86 96.35,576.20 97.41,576.60 98.47,577.07 99.53,577.62 100.59,578.27 101.64,579.02 102.70,579.89 103.76,580.91 104.82,582.07 105.88,583.41 106.94,584.93 108.00,586.64 109.06,588.57 110.11,590.70 111.17,593.06 112.23,595.62 113.29,598.37 114.35,601.29 115.41,604.35 116.47,607.51 117.52,610.72 118.58,613.95 119.64,617.13 120.70,620.23 121.76,623.20 122.82,626.01 123.88,628.63 124.93,631.05 125.99,633.26 127.05,635.25 128.11,637.04 129.17,638.62 130.23,640.01 131.29,641.23 132.34,642.29 133.40,643.21 134.46,644.00 135.52,644.68 136.58,645.26 137.64,645.76 138.70,646.18 139.76,646.54 140.81,646.84 141.87,647.10 142.93,647.32 143.99,647.51 145.05,647.66 146.11,647.79 147.17,647.91 148.22,648.00 149.28,648.08 150.34,648.15 151.40,648.20 152.46,648.25 153.52,648.29 154.58,648.32 155.63,648.35 156.69,648.37 157.75,648.39 158.81,648.41 159.87,648.43 160.93,648.44 161.99,648.45 163.04,648.46 164.10,648.46 165.16,648.47 166.22,648.47 167.28,648.48 168.34,648.48 169.40,648.48 170.46,648.49 171.51,648.49 172.57,648.49 173.63,648.49" fill="none" stroke="#3ea0d8" stroke-width="1.1"/>
<polyline points="46.60,574.02 47.66,574.02 48.71,574.02 49.77,574.02 50.83,574.03 51.89,574.03 52.95,574.04 54.01,574.04 55.07,574.05 56.12,574.05 57.18,574.06 58.24,574.07 59.30,574.08 60.36,574.09 61.42,574.10 62.48,574.12 63.53,574.13 64.59,574.15 65.65,574.18 66.71,574.20 67.77,574.23 68.83,574.26 69.89,574.30 70.94,574.34 72.00,574.39 73.06,574.44 74.12,574.51 75.18,574.58 76.24,574.66 77.30,574.75 78.36,574.86 79.41,574.98 80.47,575.12 81.53,575.27 82.59,575.45 83.65,575.65 84.71,575.88 85.77,576.14 86.82,576.43 87.88,576.76 88.94,577.14 90.00,577.56 91.06,578.04 92.12,578.58 93.18,579.19 94.23,579.87 95.29,580.63 96.35,581.47 97.41,582.41 98.47,583.46 99.53,584.61 100.59,585.88 101.64,587.27 102.70,588.78 103.76,590.41 104.82,592.18 105.88,594.06 106.94,596.07 108.00,598.19 109.06,600.41 110.11,602.71 111.17,605.09 112.23,607.52 113.29,609.98 114.35,612.45 115.41,614.92 116.47,617.35 117.52,619.73 118.58,622.03 119.64,624.26 120.70,626.38 121.76,628.38 122.82,630.28 123.88,632.04 124.93,633.68 125.99,635.20 127.05,636.59 128.11,637.86 129.17,639.01 130.23,640.06 131.29,641.00 132.34,641.85 133.40,642.61 134.46,643.30 135.52,643.90 136.58,644.44 137.64,644.92 138.70,645.35 139.76,645.73 140.81,646.06 141.87,646.36 142.93,646.62 143.99,646.85 145.05,647.05 146.11,647.22 147.17,647.38 148.22,647.52 149.28,647.64 150.34,647.75 151.40,647.84 152.46,647.92 153.52,647.99 154.58,648.05 155.63,648.11 156.69,648.16 157.75,648.20 158.81,648.24 159.87,648.27 160.93,648.30 161.99,648.32 163.04,648.35 164.10,648.36 165.16,648.38 166.22,648.40 167.28,648.41 168.34,648.42 169.40,648.43 170.46,648.44 171.51,648.45 172.57,648.45 173.63,648.46" fill="none" stroke="#8878b8" stroke-width="1.1"/>
<polyline points="46.60,574.07 47.66,574.08 48.71,574.09 49.77,574.10 50.83,574.12 51.89,574.13 52.95,574.15 54.01,574.17 55.07,574.19 56.12,574.21 57.18,574.24 58.24,574.27 59.30,574.31 60.36,574.35 61.42,574.39 62.48,574.44 63.53,574.50 64.59,574.56 65.65,574.64 66.71,574.72 67.77,574.81 68.83,574.91 69.89,575.03 70.94,575.16 72.00,575.31 73.06,575.47 74.12,575.66 75.18,575.87 76.24,576.10 77.30,576.36 78.36,576.66 79.41,576.98 80.47,577.35 81.53,577.76 82.59,578.22 83.65,578.73 84.71,579.30 85.77,579.93 86.82,580.62 87.88,581.39 88.94,582.24 90.00,583.17 91.06,584.19 92.12,585.31 93.18,586.52 94.23,587.83 95.29,589.25 96.35,590.78 97.41,592.41 98.47,594.14 99.53,595.97 100.59,597.89 101.64,599.90 102.70,601.99 103.76,604.14 104.82,606.34 105.88,608.57 106.94,610.83 108.00,613.09 109.06,615.33 110.11,617.55 111.17,619.72 112.23,621.83 113.29,623.87 114.35,625.82 115.41,627.69 116.47,629.46 117.52,631.13 118.58,632.69 119.64,634.15 120.70,635.50 121.76,636.75 122.82,637.90 123.88,638.96 124.93,639.92 125.99,640.80 127.05,641.60 128.11,642.32 129.17,642.98 130.23,643.57 131.29,644.10 132.34,644.57 133.40,645.00 134.46,645.38 135.52,645.73 136.58,646.03 137.64,646.31 138.70,646.55 139.76,646.77 140.81,646.96 141.87,647.13 142.93,647.29 143.99,647.42 145.05,647.55 146.11,647.65 147.17,647.75 148.22,647.83 149.28,647.91 150.34,647.98 151.40,648.04 152.46,648.09 153.52,648.14 154.58,648.18 155.63,648.21 156.69,648.25 157.75,648.28 158.81,648.30 159.87,648.32 160.93,648.34 161.99,648.36 163.04,648.38 164.10,648.39 165.16,648.40 166.22,648.41 167.28,648.42 168.34,648.43 169.40,648.44 170.46,648.45 171.51,648.45 172.57,648.46 173.63,648.46" fill="none" stroke="#d81a6a" stroke-width="1.1"/>
<polyline points="46.60,593.56 47.66,594.10 48.71,594.66 49.77,595.22 50.83,595.80 51.89,596.38 52.95,596.97 54.01,597.57 55.07,598.18 56.12,598.80 57.18,599.43 58.24,600.06 59.30,600.70 60.36,601.34 61.42,602.00 62.48,602.66 63.53,603.32 64.59,603.99 65.65,604.67 66.71,605.35 67.77,606.03 68.83,606.72 69.89,607.41 70.94,608.10 72.00,608.80 73.06,609.49 74.12,610.19 75.18,610.89 76.24,611.59 77.30,612.29 78.36,612.99 79.41,613.68 80.47,614.38 81.53,615.07 82.59,615.76 83.65,616.45 84.71,617.13 85.77,617.81 86.82,618.49 87.88,619.16 88.94,619.83 90.00,620.48 91.06,621.14 92.12,621.78 93.18,622.42 94.23,623.06 95.29,623.68 96.35,624.30 97.41,624.91 98.47,625.51 99.53,626.10 100.59,626.69 101.64,627.26 102.70,627.83 103.76,628.38 104.82,628.93 105.88,629.47 106.94,629.99 108.00,630.51 109.06,631.02 110.11,631.52 111.17,632.00 112.23,632.48 113.29,632.95 114.35,633.40 115.41,633.85 116.47,634.29 117.52,634.71 118.58,635.13 119.64,635.54 120.70,635.94 121.76,636.32 122.82,636.70 123.88,637.07 124.93,637.43 125.99,637.78 127.05,638.12 128.11,638.45 129.17,638.77 130.23,639.08 131.29,639.39 132.34,639.68 133.40,639.97 134.46,640.25 135.52,640.52 136.58,640.79 137.64,641.04 138.70,641.29 139.76,641.53 140.81,641.76 141.87,641.99 142.93,642.21 143.99,642.42 145.05,642.63 146.11,642.83 147.17,643.02 148.22,643.21 149.28,643.39 150.34,643.57 151.40,643.74 152.46,643.90 153.52,644.06 154.58,644.22 155.63,644.36 156.69,644.51 157.75,644.65 158.81,644.78 159.87,644.91 160.93,645.04 161.99,645.16 163.04,645.28 164.10,645.39 165.16,645.50 166.22,645.61 167.28,645.71 168.34,645.81 169.40,645.91 170.46,646.00 171.51,646.09 172.57,646.17 173.63,646.26" fill="none" stroke="#eec020" stroke-width="1.1"/>
<line x1="131.90" y1="563.40" x2="138.80" y2="563.40" stroke="#b8d0e8" stroke-width="1.2"/>
<text x="141.20" y="565.40" font-size="6.8" text-anchor="start" fill="#333" stroke="#333" stroke-width="0.1">Parental</text>
<line x1="131.90" y1="570.45" x2="138.80" y2="570.45" stroke="#c87a2e" stroke-width="1.2"/>
<text x="141.20" y="572.45" font-size="6.8" text-anchor="start" fill="#333" stroke="#333" stroke-width="0.1">Ven-resistant</text>
<line x1="131.90" y1="577.50" x2="138.80" y2="577.50" stroke="#3ea0d8" stroke-width="1.2"/>
<text x="141.20" y="579.50" font-size="6.8" text-anchor="start" fill="#333" stroke="#333" stroke-width="0.1">Ven-resistant + 0.25 nM ActD</text>
<line x1="131.90" y1="584.55" x2="138.80" y2="584.55" stroke="#8878b8" stroke-width="1.2"/>
<text x="141.20" y="586.55" font-size="6.8" text-anchor="start" fill="#333" stroke="#333" stroke-width="0.1">Ven-resistant + 0.5 nM ActD</text>
<line x1="131.90" y1="591.60" x2="138.80" y2="591.60" stroke="#d81a6a" stroke-width="1.2"/>
<text x="141.20" y="593.60" font-size="6.8" text-anchor="start" fill="#333" stroke="#333" stroke-width="0.1">Ven-resistant + 1 nM ActD</text>
<line x1="131.90" y1="598.65" x2="138.80" y2="598.65" stroke="#eec020" stroke-width="1.2"/>
<text x="141.20" y="600.65" font-size="6.8" text-anchor="start" fill="#333" stroke="#333" stroke-width="0.1">Ven-resistant + 2 nM ActD</text>
<line x1="270.00" y1="565.00" x2="270.00" y2="649.00" stroke="#3a3a3a" stroke-width="1.5"/>
<line x1="269.30" y1="648.30" x2="348.50" y2="648.30" stroke="#3a3a3a" stroke-width="1.4"/>
<line x1="267.40" y1="648.30" x2="270.00" y2="648.30" stroke="#3a3a3a" stroke-width="1"/>
<text x="264.50" y="650.60" font-size="6.5" text-anchor="end" fill="#333" stroke="#333" stroke-width="0.1">0</text>
<line x1="267.40" y1="628.35" x2="270.00" y2="628.35" stroke="#3a3a3a" stroke-width="1"/>
<text x="264.50" y="630.65" font-size="6.5" text-anchor="end" fill="#333" stroke="#333" stroke-width="0.1">1</text>
<line x1="267.40" y1="608.40" x2="270.00" y2="608.40" stroke="#3a3a3a" stroke-width="1"/>
<text x="264.50" y="610.70" font-size="6.5" text-anchor="end" fill="#333" stroke="#333" stroke-width="0.1">2</text>
<line x1="267.40" y1="588.45" x2="270.00" y2="588.45" stroke="#3a3a3a" stroke-width="1"/>
<text x="264.50" y="590.75" font-size="6.5" text-anchor="end" fill="#333" stroke="#333" stroke-width="0.1">3</text>
<line x1="267.40" y1="568.50" x2="270.00" y2="568.50" stroke="#3a3a3a" stroke-width="1"/>
<text x="264.50" y="570.80" font-size="6.5" text-anchor="end" fill="#333" stroke="#333" stroke-width="0.1">4</text>
<rect x="274.80" y="641.12" width="7.70" height="7.18" fill="#d2d2d2"/>
<line x1="278.65" y1="648.30" x2="278.65" y2="650.80" stroke="#3a3a3a" stroke-width="1"/>
<rect x="287.70" y="588.85" width="7.70" height="59.45" fill="#c2661c"/>
<line x1="291.55" y1="648.30" x2="291.55" y2="650.80" stroke="#3a3a3a" stroke-width="1"/>
<rect x="300.20" y="599.42" width="7.70" height="48.88" fill="#3ea8e0"/>
<line x1="304.05" y1="648.30" x2="304.05" y2="650.80" stroke="#3a3a3a" stroke-width="1"/>
<rect x="312.70" y="610.39" width="7.70" height="37.90" fill="#9a8ec8"/>
<line x1="316.55" y1="648.30" x2="316.55" y2="650.80" stroke="#3a3a3a" stroke-width="1"/>
<rect x="325.35" y="621.37" width="7.70" height="26.93" fill="#e0186c"/>
<line x1="329.20" y1="648.30" x2="329.20" y2="650.80" stroke="#3a3a3a" stroke-width="1"/>
<rect x="337.65" y="643.91" width="7.70" height="4.39" fill="#f5c518"/>
<line x1="341.50" y1="648.30" x2="341.50" y2="650.80" stroke="#3a3a3a" stroke-width="1"/>
<line x1="278.65" y1="639.92" x2="278.65" y2="641.52" stroke="#231f20" stroke-width="0.8"/>
<line x1="276.65" y1="639.92" x2="280.65" y2="639.92" stroke="#231f20" stroke-width="0.8"/>
<circle cx="276.45" cy="639.92" r="1.10" fill="#231f20"/>
<circle cx="278.65" cy="641.12" r="1.10" fill="#231f20"/>
<circle cx="280.85" cy="641.52" r="1.10" fill="#231f20"/>
<line x1="291.55" y1="585.46" x2="291.55" y2="589.45" stroke="#231f20" stroke-width="0.8"/>
<line x1="289.55" y1="585.46" x2="293.55" y2="585.46" stroke="#231f20" stroke-width="0.8"/>
<circle cx="289.35" cy="585.46" r="1.10" fill="#231f20"/>
<circle cx="291.55" cy="588.45" r="1.10" fill="#231f20"/>
<circle cx="293.75" cy="589.45" r="1.10" fill="#231f20"/>
<line x1="304.05" y1="594.43" x2="304.05" y2="600.42" stroke="#231f20" stroke-width="0.8"/>
<line x1="302.05" y1="594.43" x2="306.05" y2="594.43" stroke="#231f20" stroke-width="0.8"/>
<circle cx="301.85" cy="594.43" r="1.10" fill="#231f20"/>
<circle cx="304.05" cy="599.42" r="1.10" fill="#231f20"/>
<circle cx="306.25" cy="600.42" r="1.10" fill="#231f20"/>
<line x1="316.55" y1="608.40" x2="316.55" y2="611.39" stroke="#231f20" stroke-width="0.8"/>
<line x1="314.55" y1="608.40" x2="318.55" y2="608.40" stroke="#231f20" stroke-width="0.8"/>
<circle cx="314.35" cy="608.40" r="1.10" fill="#231f20"/>
<circle cx="316.55" cy="611.39" r="1.10" fill="#231f20"/>
<circle cx="318.75" cy="609.40" r="1.10" fill="#231f20"/>
<line x1="329.20" y1="617.38" x2="329.20" y2="624.36" stroke="#231f20" stroke-width="0.8"/>
<line x1="327.20" y1="617.38" x2="331.20" y2="617.38" stroke="#231f20" stroke-width="0.8"/>
<circle cx="327.00" cy="617.38" r="1.10" fill="#231f20"/>
<circle cx="329.20" cy="622.37" r="1.10" fill="#231f20"/>
<circle cx="331.40" cy="624.36" r="1.10" fill="#231f20"/>
<line x1="341.50" y1="642.71" x2="341.50" y2="644.31" stroke="#231f20" stroke-width="0.8"/>
<line x1="339.50" y1="642.71" x2="343.50" y2="642.71" stroke="#231f20" stroke-width="0.8"/>
<circle cx="339.30" cy="642.71" r="1.10" fill="#231f20"/>
<circle cx="341.50" cy="644.31" r="1.10" fill="#231f20"/>
<circle cx="343.70" cy="643.91" r="1.10" fill="#231f20"/>
<line x1="290.80" y1="560.80" x2="306.90" y2="560.80" stroke="#333" stroke-width="0.8"/>
<text x="298.80" y="560.50" font-size="7.5" text-anchor="middle" fill="#333" stroke="#333" stroke-width="0.1">*</text>
<line x1="290.80" y1="567.10" x2="318.00" y2="567.10" stroke="#333" stroke-width="0.8"/>
<text x="303.60" y="566.80" font-size="7.5" text-anchor="middle" fill="#333" stroke="#333" stroke-width="0.1">***</text>
<line x1="290.80" y1="573.30" x2="333.00" y2="573.30" stroke="#333" stroke-width="0.8"/>
<text x="312.30" y="573.00" font-size="7.5" text-anchor="middle" fill="#333" stroke="#333" stroke-width="0.1">***</text>
<line x1="290.80" y1="579.00" x2="344.00" y2="579.00" stroke="#333" stroke-width="0.8"/>
<text x="318.00" y="578.70" font-size="7.5" text-anchor="middle" fill="#333" stroke="#333" stroke-width="0.1">****</text>
<text x="254.00" y="609.30" font-size="8.6" text-anchor="middle" fill="#333" stroke="#333" stroke-width="0.1" textLength="51" lengthAdjust="spacingAndGlyphs" transform="rotate(-90 254.00 609.30)">IC<tspan font-size="5" dy="1.6">50</tspan><tspan dy="-1.6"> value (µM)</tspan></text>
<rect x="353.00" y="570.40" width="10.50" height="8.10" fill="#d2d2d2"/>
<text x="367.00" y="576.60" font-size="7" text-anchor="start" fill="#333" stroke="#333" stroke-width="0.1">Parental</text>
<rect x="353.00" y="583.30" width="10.50" height="8.10" fill="#c2661c"/>
<text x="367.00" y="589.50" font-size="7" text-anchor="start" fill="#333" stroke="#333" stroke-width="0.1">Ven-resistant</text>
<rect x="353.00" y="596.20" width="10.50" height="8.10" fill="#3ea8e0"/>
<text x="367.00" y="602.40" font-size="7" text-anchor="start" fill="#333" stroke="#333" stroke-width="0.1">Ven-resistant + 0.25 nM ActD</text>
<rect x="353.00" y="609.10" width="10.50" height="8.10" fill="#9a8ec8"/>
<text x="367.00" y="615.30" font-size="7" text-anchor="start" fill="#333" stroke="#333" stroke-width="0.1">Ven-resistant + 0.5 nM ActD</text>
<rect x="353.00" y="622.00" width="10.50" height="8.10" fill="#e0186c"/>
<text x="367.00" y="628.20" font-size="7" text-anchor="start" fill="#333" stroke="#333" stroke-width="0.1">Ven-resistant + 1 nM ActD</text>
<rect x="353.00" y="634.90" width="10.50" height="8.10" fill="#f5c518"/>
<text x="367.00" y="641.10" font-size="7" text-anchor="start" fill="#333" stroke="#333" stroke-width="0.1">Ven-resistant + 2 nM ActD</text><rect x="0.5" y="0.5" width="519" height="685" fill="none" stroke="#4a4a4a" stroke-width="1"/></svg></body></html>
